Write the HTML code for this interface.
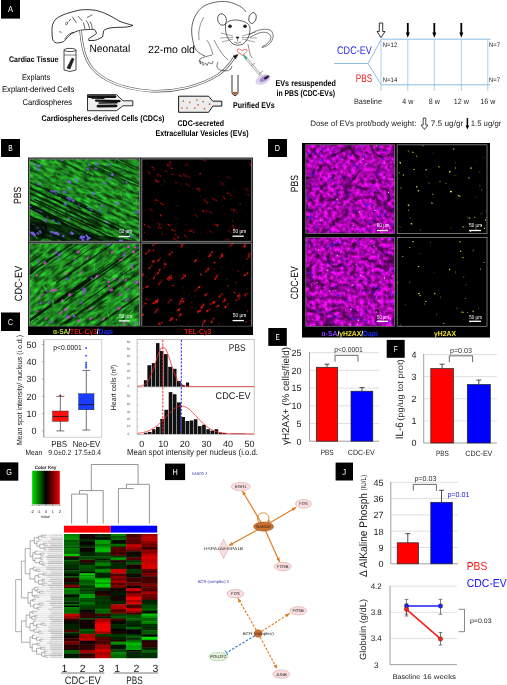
<!DOCTYPE html>
<html><head><meta charset="utf-8"><style>
html,body{margin:0;padding:0;background:#fff;width:507px;height:685px;overflow:hidden}
svg{display:block;will-change:transform}
text{font-family:"Liberation Sans", sans-serif;text-rendering:geometricPrecision}
</style></head><body>
<svg width="507" height="685" viewBox="0 0 507 685">
<rect x="1" y="0" width="19" height="18.6" fill="#000"/>
<g transform="translate(10.50 12.40) scale(0.88 1)"><text x="0" y="0" font-size="8.6" text-anchor="middle" fill="#fff">A</text></g>
<path d="M52.1,33 C51.5,26 53,22 56,19 C59,16.5 64,14 71.7,12.1 C76,10.8 80,9.8 83.5,9.7 C88,9.5 92,9.8 95.3,10.3 C99,11 102,12.2 104.8,13.3 C110,15.5 116,19 120,21.5 C124,23 128,24 133,25.4 C130,26.8 126,27.2 121,27.3 C115,27.4 110,27.6 107.2,28.7 C105,29.5 104,30 103.6,31 C103,34 103,36 102.4,37 C99,39 96,40.5 93,40.5 L88.8,40.5 C88.5,39.5 88.8,38.6 89.4,38.1 C92,36.5 95,35 96.5,33.4 C96,31.5 95,30 94.2,29.3 C90,29.3 86,29.6 83.5,29.9 C80,30.3 78,30.6 77.6,31 C75,32 73,33 71.7,33.4 C69,35.5 68,37 66.9,38.1 C65,40 64,41.5 63.4,41.7 C60,42.8 58,43 56.3,42.9 C54,42 53,40.5 52.7,39.3 C52.2,37 52,35 52.1,33 Z" stroke="#000" stroke-width="0.8" fill="none"/>
<path d="M64.6,39.3 C67,35 70,33 74,32.2 M65,23.5 q1.5,-2.5 3,-0.5 q-1,2 -2.5,1.8 M68.5,21.5 l2.5,-2.5 M72.3,16.8 L76.4,22.8 M78.2,16.2 L82.3,21 M87,17.5 L92.5,14.8 M86,20.5 q3,3 3.5,8 M90,21.5 q2,3 2.2,7 M83.5,22.5 l1.5,6.5 M59.2,31.6 L61.6,32.4" stroke="#000" stroke-width="0.6" fill="none"/>
<path d="M64,50 L64,70 Q70,73 76,70 L76,50" stroke="#000" stroke-width="0.7" fill="none"/>
<ellipse cx="70" cy="50" rx="6" ry="1.6" fill="none" stroke="#000" stroke-width="0.7"/>
<line x1="64" y1="55" x2="76" y2="55" stroke="#000" stroke-width="0.5"/>
<path d="M67,68 L72,58 L74,59 L70,69 Z" stroke="#000" stroke-width="0.5" fill="#222"/>
<text x="9" y="61.7" font-size="8.1" font-weight="bold" textLength="49.5" lengthAdjust="spacingAndGlyphs" fill="#000">Cardiac Tissue</text>
<text x="36" y="79.8" font-size="8.3" text-anchor="middle" textLength="28.2" lengthAdjust="spacingAndGlyphs" fill="#000">Explants</text>
<text x="2" y="92.3" font-size="8.3" textLength="72.4" lengthAdjust="spacingAndGlyphs" fill="#000">Explant-derived Cells</text>
<text x="22.5" y="105.1" font-size="8.3" textLength="49.5" lengthAdjust="spacingAndGlyphs" fill="#000">Cardiospheres</text>
<text x="41.5" y="121.3" font-size="8.2" font-weight="bold" textLength="123" lengthAdjust="spacingAndGlyphs" fill="#000">Cardiospheres-derived Cells (CDCs)</text>
<path d="M87.5,94.6 L116.6,94.6 L123,100.8 L132.8,100.8 L132.8,105.8 L123,105.8 L116.6,110.7 L87.5,110.7 Z" stroke="#000" stroke-width="0.8" fill="#eeeeee"/>
<line x1="89" y1="96.6" x2="115" y2="96.6" stroke="#111" stroke-width="2.8" stroke-linecap="round"/>
<line x1="96" y1="100.6" x2="119.5" y2="101.2" stroke="#111" stroke-width="2.2" stroke-linecap="round"/>
<line x1="99" y1="103" x2="117" y2="102.8" stroke="#111" stroke-width="1.4" stroke-linecap="round"/>
<line x1="98" y1="106.2" x2="116" y2="105.8" stroke="#111" stroke-width="2.8" stroke-linecap="round"/>
<line x1="92" y1="98.2" x2="104" y2="98.3" stroke="#111" stroke-width="1.2" stroke-linecap="round"/>
<path d="M178.6,96.2 L208.6,96.2 L212.8,101.2 L221.8,101.2 L221.8,106.1 L212.8,106.1 L208.6,112.3 L178.6,112.3 Z" stroke="#000" stroke-width="0.9" fill="#ececec"/>
<circle cx="183.3" cy="101" r="0.85" fill="#c8682e"/>
<circle cx="189.7" cy="102.3" r="0.85" fill="#c8682e"/>
<circle cx="196.8" cy="100" r="0.85" fill="#c8682e"/>
<circle cx="203.2" cy="101.6" r="0.85" fill="#c8682e"/>
<circle cx="198.1" cy="104.8" r="0.85" fill="#c8682e"/>
<circle cx="209.6" cy="104.2" r="0.85" fill="#c8682e"/>
<circle cx="182" cy="108" r="0.85" fill="#c8682e"/>
<circle cx="187.2" cy="108" r="0.85" fill="#c8682e"/>
<circle cx="194.9" cy="108" r="0.85" fill="#c8682e"/>
<circle cx="204.5" cy="108.7" r="0.85" fill="#c8682e"/>
<text x="177.5" y="125.5" font-size="8.3" font-weight="bold" textLength="46.5" lengthAdjust="spacingAndGlyphs" fill="#000">CDC-secreted</text>
<text x="155.5" y="135.8" font-size="8.3" font-weight="bold" textLength="93" lengthAdjust="spacingAndGlyphs" fill="#000">Extracellular Vesicles (EVs)</text>
<path d="M232,75 L232,93 Q235,98.5 238,93 L238,75" stroke="#000" stroke-width="0.8" fill="none"/>
<path d="M232.4,92 Q235,98 237.6,92 Z" stroke="#000" stroke-width="0" fill="#b5541c"/>
<text x="233" y="108.3" font-size="8.3" font-weight="bold" textLength="41.6" lengthAdjust="spacingAndGlyphs" fill="#000">Purified EVs</text>
<path d="M80.6,30.6 C82,45 84,58 92,68 C104,82 125,89 150,91 C175,92.5 200,86 218,75 C225,70 230,64 234,58" stroke="#555" stroke-width="2.6" fill="none"/>
<path d="M80.6,30.6 C82,45 84,58 92,68 C104,82 125,89 150,91 C175,92.5 200,86 218,75 C225,70 230,64 234,58" stroke="#fff" stroke-width="1.3" fill="none"/>
<path d="M233,56 L238,54.5 L235.5,59 Z" stroke="#111" stroke-width="0.5" fill="#111"/>
<text x="89.5" y="51.5" font-size="10.5" textLength="40.8" lengthAdjust="spacingAndGlyphs" fill="#000">Neonatal</text>
<text x="148.1" y="53" font-size="10.5" textLength="46.9" lengthAdjust="spacingAndGlyphs" fill="#000">22-mo old</text>
<path d="M192,36 C191,28 192,20 197.8,11.8 C202,6 208,3 219.4,1.6 C226,1 232,2 239.2,5.9 C243,8 245,10 246,12" stroke="#222" stroke-width="0.7" fill="none"/>
<path d="M192,36 C193,42 194,47 196,50 C199,53 202,55 205,56" stroke="#222" stroke-width="0.7" fill="none"/>
<ellipse cx="222" cy="19.5" rx="4.3" ry="5.8" fill="none" stroke="#222" stroke-width="0.7" transform="rotate(-15 222 19.5)"/>
<ellipse cx="252.5" cy="18" rx="3.6" ry="5.5" fill="none" stroke="#222" stroke-width="0.7" transform="rotate(15 252.5 18)"/>
<path d="M225.5,25 C225,33 227,39 233,44 C236,45.5 240,45.5 243,44 C248,40 250,35 250,28 C250,22 240,20 235,20 C230,20 226,22 225.5,25" stroke="#222" stroke-width="0.7" fill="none"/>
<circle cx="230" cy="26.3" r="1.8" fill="#222"/>
<circle cx="245" cy="26.3" r="1.8" fill="#222"/>
<path d="M236,37 L239,37 L237.5,39 Z" stroke="#222" stroke-width="0.6" fill="#222"/>
<path d="M237.5,39 L237.5,41.5 M234,42 Q237.5,44 241,42" stroke="#222" stroke-width="0.5" fill="none"/>
<path d="M233,36 L221,33 M233,37.5 L220,38 M233,39 L222,42 M242,36 L256,32 M242,37.5 L257,38 M242,39 L255,42" stroke="#222" stroke-width="0.4" fill="none"/>
<path d="M249,35 C256,30 264,28 270,30 C274,32 274,38 271,42 C268,46 264,47 262,47.5 L263,46 C266,45 270,42 271,38 C271,33 265,31 259,33 C255,34.5 252,36 250,37.5" stroke="#222" stroke-width="0.6" fill="none"/>
<path d="M212,55 C208,56 203,57 200,59 L199,62 L201,61 L200,64 L203,62 L203,65.5 L205.5,63 L207,65.5 L208.5,62.5 L212,64 L213,61" stroke="#222" stroke-width="0.6" fill="none"/>
<path d="M204,17 C200,23 198,31 199,40 M207,40 C210,45 212,50 213,55" stroke="#222" stroke-width="0.5" fill="none"/>
<path d="M218,62 C216,66 217,69 220,70 L227,71 L231,69 L232,66" stroke="#222" stroke-width="0.6" fill="none"/>
<path d="M214,40 C218,48 222,55 228,60 M248,44 C249,50 250,55 252,58" stroke="#222" stroke-width="0.5" fill="none"/>
<path d="M238.5,52.5 C237,50.5 236.5,49.3 238.5,49 C240,48.8 241,50 242,51 C243,49.8 245,48.8 246.5,49.5 C248,50.5 246.5,52.5 242.5,55.5 Z" stroke="#e33" stroke-width="0.7" fill="none"/>
<line x1="245" y1="57" x2="263" y2="78" stroke="#888" stroke-width="2.4"/>
<line x1="245" y1="57" x2="263" y2="78" stroke="#eee" stroke-width="1.4"/>
<line x1="243.5" y1="55" x2="246.5" y2="59" stroke="#1a9a8a" stroke-width="1.3"/>
<line x1="251" y1="66" x2="255" y2="63" stroke="#666" stroke-width="0.6"/>
<line x1="259" y1="74" x2="263" y2="71" stroke="#666" stroke-width="0.6"/>
<ellipse cx="263" cy="79.5" rx="8" ry="4.6" fill="#d8d0ec" opacity="0.95" transform="rotate(-25 263 79.5)"/>
<ellipse cx="264.5" cy="78.5" rx="5.5" ry="2.4" fill="#9a84c0" opacity="0.9" transform="rotate(-30 264.5 78.5)"/>
<ellipse cx="266.5" cy="77.5" rx="3" ry="1.1" fill="#2a1a3a" transform="rotate(-30 266.5 77.5)"/>
<text x="275.5" y="86.3" font-size="8.5" font-weight="bold" textLength="60.5" lengthAdjust="spacingAndGlyphs" fill="#000">EVs resuspended</text>
<text x="276.5" y="95.6" font-size="8.5" font-weight="bold" textLength="58.5" lengthAdjust="spacingAndGlyphs" fill="#000">in PBS (CDC-EVs)</text>
<line x1="334" y1="63.5" x2="368" y2="63.5" stroke="#8dbbe3" stroke-width="1"/>
<path d="M368,63.5 L381.3,39.2 M368,63.5 L381.3,84.8" stroke="#8dbbe3" stroke-width="1" fill="none"/>
<line x1="381.3" y1="39.2" x2="490.4" y2="39.2" stroke="#8dbbe3" stroke-width="1"/>
<line x1="381.3" y1="84.8" x2="490.4" y2="84.8" stroke="#8dbbe3" stroke-width="1"/>
<line x1="381" y1="39.2" x2="381" y2="91" stroke="#8dbbe3" stroke-width="0.7"/>
<line x1="407.8" y1="39.2" x2="407.8" y2="91" stroke="#8dbbe3" stroke-width="0.7"/>
<line x1="434.3" y1="39.2" x2="434.3" y2="91" stroke="#8dbbe3" stroke-width="0.7"/>
<line x1="461.3" y1="39.2" x2="461.3" y2="91" stroke="#8dbbe3" stroke-width="0.7"/>
<line x1="487.8" y1="39.2" x2="487.8" y2="91" stroke="#8dbbe3" stroke-width="0.7"/>
<path d="M379.3,23 L382.7,23 L382.7,31.5 L385,31.5 L381,37.7 L377,31.5 L379.3,31.5 Z" stroke="#000" stroke-width="0.8" fill="#fff"/>
<line x1="407.8" y1="23" x2="407.8" y2="33.5" stroke="#000" stroke-width="1.8"/>
<path d="M405.8,32.5 L409.8,32.5 L407.8,37.8 Z" stroke="#000" stroke-width="0" fill="#000"/>
<line x1="434.3" y1="23" x2="434.3" y2="33.5" stroke="#000" stroke-width="1.8"/>
<path d="M432.3,32.5 L436.3,32.5 L434.3,37.8 Z" stroke="#000" stroke-width="0" fill="#000"/>
<line x1="461.3" y1="23" x2="461.3" y2="33.5" stroke="#000" stroke-width="1.8"/>
<path d="M459.3,32.5 L463.3,32.5 L461.3,37.8 Z" stroke="#000" stroke-width="0" fill="#000"/>
<text x="337.1" y="54" font-size="11" textLength="34.6" lengthAdjust="spacingAndGlyphs" fill="#2828e8">CDC-EV</text>
<text x="355.8" y="81.9" font-size="11" textLength="16.3" lengthAdjust="spacingAndGlyphs" fill="#e82020">PBS</text>
<text x="382.8" y="46.9" font-size="6.4" textLength="14.5" lengthAdjust="spacingAndGlyphs" fill="#222">N=12</text>
<text x="382.8" y="82" font-size="6.4" textLength="14.5" lengthAdjust="spacingAndGlyphs" fill="#222">N=14</text>
<text x="489" y="46.9" font-size="6.4" textLength="11" lengthAdjust="spacingAndGlyphs" fill="#222">N=7</text>
<text x="489" y="82" font-size="6.4" textLength="11" lengthAdjust="spacingAndGlyphs" fill="#222">N=7</text>
<text x="354" y="104" font-size="7.8" textLength="28" lengthAdjust="spacingAndGlyphs" fill="#222">Baseline</text>
<text x="407.8" y="104" font-size="7.8" text-anchor="middle" textLength="11" lengthAdjust="spacingAndGlyphs" fill="#222">4 w</text>
<text x="434.3" y="104" font-size="7.8" text-anchor="middle" textLength="11" lengthAdjust="spacingAndGlyphs" fill="#222">8 w</text>
<text x="461.3" y="104" font-size="7.8" text-anchor="middle" textLength="15" lengthAdjust="spacingAndGlyphs" fill="#222">12 w</text>
<text x="487.8" y="104" font-size="7.8" text-anchor="middle" textLength="15" lengthAdjust="spacingAndGlyphs" fill="#222">16 w</text>
<text x="310.2" y="125.8" font-size="7.9" textLength="106.2" lengthAdjust="spacingAndGlyphs" fill="#222">Dose of EVs prot/body weight:</text>
<path d="M423.2,118 L425.8,118 L425.8,125 L427.8,125 L424.5,129.5 L421.2,125 L423.2,125 Z" stroke="#000" stroke-width="0.7" fill="#fff"/>
<text x="430.7" y="125.8" font-size="7.9" textLength="32.6" lengthAdjust="spacingAndGlyphs" fill="#222">7.5 ug/gr</text>
<line x1="467.4" y1="118" x2="467.4" y2="126" stroke="#000" stroke-width="1.5"/>
<path d="M465.6,125.5 L469.2,125.5 L467.4,129.5 Z" stroke="#000" stroke-width="0" fill="#000"/>
<text x="470.7" y="125.8" font-size="7.9" textLength="30.6" lengthAdjust="spacingAndGlyphs" fill="#222">1.5 ug/gr</text>
<rect x="1" y="139" width="19" height="18" fill="#000"/>
<g transform="translate(10.50 151.10) scale(0.78 1)"><text x="0" y="0" font-size="8.6" text-anchor="middle" fill="#fff">B</text></g>
<rect x="28" y="157.5" width="225" height="177.5" fill="#2a2a2a"/>
<clipPath id="cp1"><rect x="29.5" y="159" width="110.1" height="82.30000000000001"/></clipPath><g clip-path="url(#cp1)">
<rect x="29.5" y="159" width="110.1" height="82.30000000000001" fill="#000"/>
<filter id="nf1" x="0" y="0" width="1" height="1" color-interpolation-filters="sRGB"><feTurbulence type="fractalNoise" baseFrequency="0.11 0.35" numOctaves="4" seed="11"/><feColorMatrix type="matrix" values="0.2 0 0 0 0.02  1.1 0 0 0 -0.02  0.22 0 0 0 0.02  0 0 0 0 1"/></filter>
<rect x="-15.450000000000003" y="100.15" width="200" height="200" filter="url(#nf1)" transform="rotate(25 84.55 200.15)"/>
<ellipse cx="55.0" cy="232.0" rx="40.0" ry="8.0" transform="rotate(8 55.0 232.0)" fill="#020a04" opacity="0.70"/>
<ellipse cx="52.0" cy="232.1" rx="2.2" ry="1.0" transform="rotate(8 52.0 232.1)" fill="#7a60f0" opacity="0.90"/>
<ellipse cx="55.5" cy="232.9" rx="1.5" ry="1.1" transform="rotate(8 55.5 232.9)" fill="#7a60f0" opacity="0.90"/>
<ellipse cx="63.2" cy="236.0" rx="1.4" ry="1.0" transform="rotate(8 63.2 236.0)" fill="#7a60f0" opacity="0.90"/>
<ellipse cx="29.1" cy="231.3" rx="2.0" ry="0.8" transform="rotate(8 29.1 231.3)" fill="#7a60f0" opacity="0.90"/>
<ellipse cx="85.6" cy="240.8" rx="2.0" ry="1.1" transform="rotate(8 85.6 240.8)" fill="#7a60f0" opacity="0.90"/>
<ellipse cx="33.3" cy="224.3" rx="1.8" ry="0.8" transform="rotate(8 33.3 224.3)" fill="#7a60f0" opacity="0.90"/>
<ellipse cx="35.4" cy="226.8" rx="1.3" ry="1.0" transform="rotate(8 35.4 226.8)" fill="#7a60f0" opacity="0.90"/>
<ellipse cx="51.2" cy="234.8" rx="1.8" ry="1.1" transform="rotate(8 51.2 234.8)" fill="#7a60f0" opacity="0.90"/>
<ellipse cx="55.0" cy="233.6" rx="1.8" ry="0.9" transform="rotate(8 55.0 233.6)" fill="#7a60f0" opacity="0.90"/>
<ellipse cx="86.5" cy="241.2" rx="2.1" ry="1.2" transform="rotate(8 86.5 241.2)" fill="#7a60f0" opacity="0.90"/>
<ellipse cx="43.3" cy="227.8" rx="1.6" ry="0.8" transform="rotate(8 43.3 227.8)" fill="#7a60f0" opacity="0.90"/>
<ellipse cx="71.9" cy="233.4" rx="2.1" ry="1.0" transform="rotate(8 71.9 233.4)" fill="#7a60f0" opacity="0.90"/>
<ellipse cx="84.0" cy="239.4" rx="1.3" ry="0.9" transform="rotate(8 84.0 239.4)" fill="#7a60f0" opacity="0.90"/>
<ellipse cx="105.0" cy="240.0" rx="35.0" ry="4.0" transform="rotate(6 105.0 240.0)" fill="#020a04" opacity="0.70"/>
<ellipse cx="127.8" cy="242.3" rx="2.3" ry="1.0" transform="rotate(6 127.8 242.3)" fill="#7a60f0" opacity="0.90"/>
<ellipse cx="81.2" cy="238.1" rx="2.1" ry="0.9" transform="rotate(6 81.2 238.1)" fill="#7a60f0" opacity="0.90"/>
<ellipse cx="82.0" cy="236.8" rx="2.3" ry="1.2" transform="rotate(6 82.0 236.8)" fill="#7a60f0" opacity="0.90"/>
<ellipse cx="83.7" cy="236.5" rx="1.4" ry="0.8" transform="rotate(6 83.7 236.5)" fill="#7a60f0" opacity="0.90"/>
<ellipse cx="121.5" cy="240.2" rx="1.9" ry="1.0" transform="rotate(6 121.5 240.2)" fill="#7a60f0" opacity="0.90"/>
<ellipse cx="87.8" cy="239.3" rx="1.4" ry="1.1" transform="rotate(6 87.8 239.3)" fill="#7a60f0" opacity="0.90"/>
<ellipse cx="83.6" cy="237.4" rx="1.5" ry="0.9" transform="rotate(6 83.6 237.4)" fill="#7a60f0" opacity="0.90"/>
<ellipse cx="131.2" cy="244.2" rx="1.6" ry="1.2" transform="rotate(6 131.2 244.2)" fill="#7a60f0" opacity="0.90"/>
<ellipse cx="88.9" cy="237.8" rx="2.2" ry="1.1" transform="rotate(6 88.9 237.8)" fill="#7a60f0" opacity="0.90"/>
<ellipse cx="82.7" cy="240.0" rx="1.5" ry="0.9" transform="rotate(6 82.7 240.0)" fill="#7a60f0" opacity="0.90"/>
<ellipse cx="120.2" cy="240.8" rx="1.6" ry="0.8" transform="rotate(6 120.2 240.8)" fill="#7a60f0" opacity="0.90"/>
<ellipse cx="45.0" cy="214.0" rx="25.0" ry="3.0" transform="rotate(28 45.0 214.0)" fill="#020a04" opacity="0.70"/>
<ellipse cx="30.5" cy="206.6" rx="1.5" ry="1.1" transform="rotate(28 30.5 206.6)" fill="#7a60f0" opacity="0.90"/>
<ellipse cx="40.5" cy="211.4" rx="2.3" ry="1.0" transform="rotate(28 40.5 211.4)" fill="#7a60f0" opacity="0.90"/>
<ellipse cx="47.6" cy="216.7" rx="1.5" ry="0.9" transform="rotate(28 47.6 216.7)" fill="#7a60f0" opacity="0.90"/>
<ellipse cx="59.4" cy="222.8" rx="1.5" ry="0.9" transform="rotate(28 59.4 222.8)" fill="#7a60f0" opacity="0.90"/>
<ellipse cx="53.5" cy="220.1" rx="1.5" ry="1.3" transform="rotate(28 53.5 220.1)" fill="#7a60f0" opacity="0.90"/>
<ellipse cx="58.5" cy="221.5" rx="1.7" ry="0.9" transform="rotate(28 58.5 221.5)" fill="#7a60f0" opacity="0.90"/>
<ellipse cx="28.7" cy="207.0" rx="1.5" ry="1.2" transform="rotate(28 28.7 207.0)" fill="#7a60f0" opacity="0.90"/>
<ellipse cx="36.4" cy="210.6" rx="1.9" ry="0.9" transform="rotate(28 36.4 210.6)" fill="#7a60f0" opacity="0.90"/>
<ellipse cx="70.0" cy="200.0" rx="30.0" ry="2.0" transform="rotate(25 70.0 200.0)" fill="#020a04" opacity="0.70"/>
<ellipse cx="55.9" cy="193.9" rx="1.4" ry="0.9" transform="rotate(25 55.9 193.9)" fill="#7a60f0" opacity="0.90"/>
<ellipse cx="72.6" cy="202.1" rx="1.9" ry="0.9" transform="rotate(25 72.6 202.1)" fill="#7a60f0" opacity="0.90"/>
<ellipse cx="88.2" cy="207.8" rx="1.3" ry="0.9" transform="rotate(25 88.2 207.8)" fill="#7a60f0" opacity="0.90"/>
<ellipse cx="67.6" cy="197.8" rx="1.5" ry="1.0" transform="rotate(25 67.6 197.8)" fill="#7a60f0" opacity="0.90"/>
<ellipse cx="73.1" cy="200.6" rx="1.7" ry="1.2" transform="rotate(25 73.1 200.6)" fill="#7a60f0" opacity="0.90"/>
<ellipse cx="90.9" cy="210.1" rx="2.0" ry="1.1" transform="rotate(25 90.9 210.1)" fill="#7a60f0" opacity="0.90"/>
<ellipse cx="54.4" cy="191.6" rx="1.3" ry="1.3" transform="rotate(25 54.4 191.6)" fill="#7a60f0" opacity="0.90"/>
<ellipse cx="78.7" cy="205.2" rx="1.3" ry="1.1" transform="rotate(25 78.7 205.2)" fill="#7a60f0" opacity="0.90"/>
<ellipse cx="69.2" cy="200.2" rx="1.6" ry="1.3" transform="rotate(25 69.2 200.2)" fill="#7a60f0" opacity="0.90"/>
<ellipse cx="51.5" cy="191.5" rx="2.0" ry="1.3" transform="rotate(25 51.5 191.5)" fill="#7a60f0" opacity="0.90"/>
<ellipse cx="35.0" cy="230.0" rx="12.0" ry="12.0" transform="rotate(0 35.0 230.0)" fill="#020a04" opacity="0.70"/>
<ellipse cx="39.6" cy="232.9" rx="2.1" ry="1.3" transform="rotate(0 39.6 232.9)" fill="#7a60f0" opacity="0.90"/>
<ellipse cx="32.2" cy="232.7" rx="2.2" ry="1.2" transform="rotate(0 32.2 232.7)" fill="#7a60f0" opacity="0.90"/>
<ellipse cx="33.4" cy="234.2" rx="2.2" ry="1.1" transform="rotate(0 33.4 234.2)" fill="#7a60f0" opacity="0.90"/>
<ellipse cx="37.4" cy="228.3" rx="1.9" ry="1.1" transform="rotate(0 37.4 228.3)" fill="#7a60f0" opacity="0.90"/>
<line x1="-24.8" y1="182.2" x2="101.5" y2="241.1" stroke="#031003" stroke-width="2.0" opacity="0.75" stroke-linecap="round"/>
<line x1="25.9" y1="197.9" x2="118.6" y2="241.1" stroke="#031003" stroke-width="1.4" opacity="0.79" stroke-linecap="round"/>
<line x1="14.9" y1="209.6" x2="62.6" y2="231.9" stroke="#031003" stroke-width="1.6" opacity="0.67" stroke-linecap="round"/>
<line x1="11.9" y1="196.5" x2="97.8" y2="236.5" stroke="#031003" stroke-width="1.7" opacity="0.82" stroke-linecap="round"/>
<line x1="22.7" y1="143.6" x2="92.6" y2="176.2" stroke="#031003" stroke-width="1.7" opacity="0.57" stroke-linecap="round"/>
<line x1="-1.4" y1="210.4" x2="97.7" y2="256.7" stroke="#031003" stroke-width="1.4" opacity="0.81" stroke-linecap="round"/>
<line x1="34.7" y1="199.5" x2="96.3" y2="228.1" stroke="#031003" stroke-width="1.4" opacity="0.78" stroke-linecap="round"/>
<line x1="91.8" y1="213.6" x2="168.5" y2="249.3" stroke="#031003" stroke-width="1.6" opacity="0.61" stroke-linecap="round"/>
<line x1="-12.3" y1="173.4" x2="101.3" y2="226.3" stroke="#031003" stroke-width="2.0" opacity="0.75" stroke-linecap="round"/>
<line x1="104.5" y1="168.0" x2="163.7" y2="195.6" stroke="#031003" stroke-width="1.4" opacity="0.60" stroke-linecap="round"/>
<line x1="4.9" y1="170.6" x2="101.2" y2="215.5" stroke="#031003" stroke-width="1.5" opacity="0.61" stroke-linecap="round"/>
<line x1="80.8" y1="220.7" x2="163.0" y2="259.0" stroke="#031003" stroke-width="0.9" opacity="0.51" stroke-linecap="round"/>
<line x1="74.0" y1="138.4" x2="177.2" y2="186.5" stroke="#031003" stroke-width="1.6" opacity="0.61" stroke-linecap="round"/>
<line x1="88.4" y1="147.4" x2="144.8" y2="173.7" stroke="#031003" stroke-width="1.4" opacity="0.51" stroke-linecap="round"/>
<line x1="92.4" y1="165.3" x2="149.2" y2="191.8" stroke="#031003" stroke-width="0.9" opacity="0.72" stroke-linecap="round"/>
<line x1="29.3" y1="187.8" x2="128.0" y2="233.9" stroke="#031003" stroke-width="1.9" opacity="0.84" stroke-linecap="round"/>
<ellipse cx="108.6" cy="172.4" rx="16.7" ry="0.6" transform="rotate(20 108.6 172.4)" fill="#021202" opacity="0.54"/>
<ellipse cx="112.4" cy="170.5" rx="13.8" ry="0.8" transform="rotate(27 112.4 170.5)" fill="#021202" opacity="0.56"/>
<ellipse cx="99.4" cy="223.8" rx="15.5" ry="1.1" transform="rotate(29 99.4 223.8)" fill="#021202" opacity="0.43"/>
<ellipse cx="140.8" cy="220.7" rx="11.8" ry="0.9" transform="rotate(26 140.8 220.7)" fill="#021202" opacity="0.67"/>
<ellipse cx="68.5" cy="206.5" rx="22.3" ry="1.1" transform="rotate(29 68.5 206.5)" fill="#021202" opacity="0.54"/>
<ellipse cx="104.2" cy="172.9" rx="20.1" ry="1.2" transform="rotate(26 104.2 172.9)" fill="#021202" opacity="0.62"/>
<ellipse cx="47.2" cy="237.1" rx="23.7" ry="1.3" transform="rotate(25 47.2 237.1)" fill="#021202" opacity="0.64"/>
<ellipse cx="61.2" cy="238.0" rx="22.0" ry="0.8" transform="rotate(21 61.2 238.0)" fill="#021202" opacity="0.53"/>
<ellipse cx="91.1" cy="224.9" rx="16.8" ry="0.5" transform="rotate(28 91.1 224.9)" fill="#021202" opacity="0.42"/>
<ellipse cx="123.6" cy="170.0" rx="14.7" ry="1.1" transform="rotate(21 123.6 170.0)" fill="#021202" opacity="0.44"/>
<ellipse cx="86.7" cy="220.8" rx="21.8" ry="1.1" transform="rotate(29 86.7 220.8)" fill="#021202" opacity="0.55"/>
<ellipse cx="143.0" cy="161.9" rx="13.1" ry="0.9" transform="rotate(23 143.0 161.9)" fill="#021202" opacity="0.62"/>
<ellipse cx="102.6" cy="202.3" rx="21.8" ry="0.9" transform="rotate(23 102.6 202.3)" fill="#021202" opacity="0.51"/>
<ellipse cx="129.5" cy="237.1" rx="12.9" ry="1.2" transform="rotate(30 129.5 237.1)" fill="#021202" opacity="0.56"/>
<ellipse cx="92.6" cy="175.5" rx="2.6" ry="0.6" transform="rotate(109 92.6 175.5)" fill="#40e840" opacity="0.41"/>
<ellipse cx="136.2" cy="201.5" rx="2.3" ry="0.6" transform="rotate(101 136.2 201.5)" fill="#40e840" opacity="0.55"/>
<ellipse cx="105.6" cy="164.4" rx="2.6" ry="0.5" transform="rotate(172 105.6 164.4)" fill="#40e840" opacity="0.68"/>
<ellipse cx="59.1" cy="197.9" rx="1.8" ry="0.5" transform="rotate(147 59.1 197.9)" fill="#40e840" opacity="0.67"/>
<ellipse cx="82.0" cy="185.1" rx="1.9" ry="0.6" transform="rotate(167 82.0 185.1)" fill="#40e840" opacity="0.44"/>
<ellipse cx="115.3" cy="160.9" rx="1.9" ry="0.5" transform="rotate(124 115.3 160.9)" fill="#40e840" opacity="0.50"/>
<ellipse cx="68.6" cy="210.0" rx="1.7" ry="0.6" transform="rotate(22 68.6 210.0)" fill="#40e840" opacity="0.55"/>
<ellipse cx="57.1" cy="175.3" rx="2.6" ry="0.5" transform="rotate(68 57.1 175.3)" fill="#40e840" opacity="0.52"/>
<ellipse cx="87.8" cy="172.1" rx="1.9" ry="0.6" transform="rotate(115 87.8 172.1)" fill="#40e840" opacity="0.56"/>
<ellipse cx="123.2" cy="209.3" rx="3.2" ry="0.5" transform="rotate(133 123.2 209.3)" fill="#40e840" opacity="0.64"/>
<ellipse cx="128.9" cy="185.0" rx="2.1" ry="0.7" transform="rotate(39 128.9 185.0)" fill="#40e840" opacity="0.70"/>
<ellipse cx="127.2" cy="170.0" rx="2.0" ry="0.6" transform="rotate(47 127.2 170.0)" fill="#40e840" opacity="0.43"/>
<ellipse cx="121.1" cy="193.7" rx="3.1" ry="0.4" transform="rotate(73 121.1 193.7)" fill="#40e840" opacity="0.61"/>
<ellipse cx="31.5" cy="175.5" rx="2.9" ry="0.7" transform="rotate(174 31.5 175.5)" fill="#40e840" opacity="0.43"/>
<ellipse cx="85.2" cy="221.4" rx="2.5" ry="0.6" transform="rotate(34 85.2 221.4)" fill="#40e840" opacity="0.42"/>
<ellipse cx="41.2" cy="162.1" rx="2.6" ry="0.6" transform="rotate(102 41.2 162.1)" fill="#40e840" opacity="0.44"/>
<ellipse cx="49.8" cy="175.8" rx="3.2" ry="0.7" transform="rotate(167 49.8 175.8)" fill="#40e840" opacity="0.43"/>
<ellipse cx="36.3" cy="237.3" rx="2.4" ry="0.6" transform="rotate(59 36.3 237.3)" fill="#40e840" opacity="0.54"/>
<ellipse cx="86.2" cy="194.4" rx="2.7" ry="0.4" transform="rotate(126 86.2 194.4)" fill="#40e840" opacity="0.65"/>
<ellipse cx="49.5" cy="196.4" rx="3.0" ry="0.5" transform="rotate(35 49.5 196.4)" fill="#40e840" opacity="0.45"/>
<ellipse cx="85.9" cy="160.3" rx="3.3" ry="0.6" transform="rotate(127 85.9 160.3)" fill="#40e840" opacity="0.66"/>
<ellipse cx="98.8" cy="192.3" rx="2.7" ry="0.6" transform="rotate(177 98.8 192.3)" fill="#40e840" opacity="0.64"/>
<ellipse cx="57.9" cy="234.0" rx="2.1" ry="1.3" transform="rotate(41 57.9 234.0)" fill="#7a60f0" opacity="0.74"/>
<ellipse cx="128.2" cy="231.4" rx="2.0" ry="1.3" transform="rotate(38 128.2 231.4)" fill="#7a60f0" opacity="0.74"/>
<ellipse cx="109.1" cy="164.8" rx="1.6" ry="1.1" transform="rotate(1 109.1 164.8)" fill="#7a60f0" opacity="0.72"/>
<ellipse cx="99.8" cy="210.4" rx="1.5" ry="1.4" transform="rotate(33 99.8 210.4)" fill="#7a60f0" opacity="0.72"/>
<ellipse cx="102.1" cy="205.9" rx="1.8" ry="1.0" transform="rotate(50 102.1 205.9)" fill="#7a60f0" opacity="0.82"/>
<ellipse cx="106.7" cy="221.7" rx="2.4" ry="0.8" transform="rotate(31 106.7 221.7)" fill="#7a60f0" opacity="0.86"/>
<ellipse cx="57.8" cy="192.0" rx="1.3" ry="0.9" transform="rotate(19 57.8 192.0)" fill="#7a60f0" opacity="0.63"/>
<ellipse cx="57.1" cy="233.5" rx="1.9" ry="1.1" transform="rotate(48 57.1 233.5)" fill="#7a60f0" opacity="0.80"/>
<ellipse cx="139.1" cy="211.5" rx="2.2" ry="0.8" transform="rotate(30 139.1 211.5)" fill="#7a60f0" opacity="0.87"/>
<ellipse cx="34.5" cy="235.6" rx="1.4" ry="1.1" transform="rotate(8 34.5 235.6)" fill="#7a60f0" opacity="0.77"/>
<ellipse cx="96.8" cy="163.8" rx="2.3" ry="1.1" transform="rotate(26 96.8 163.8)" fill="#7a60f0" opacity="0.81"/>
<ellipse cx="69.7" cy="182.5" rx="2.0" ry="1.1" transform="rotate(14 69.7 182.5)" fill="#7a60f0" opacity="0.85"/>
<ellipse cx="62.1" cy="160.2" rx="1.5" ry="0.8" transform="rotate(8 62.1 160.2)" fill="#7a60f0" opacity="0.86"/>
<ellipse cx="72.4" cy="232.9" rx="2.1" ry="0.8" transform="rotate(49 72.4 232.9)" fill="#7a60f0" opacity="0.93"/>
<ellipse cx="37.6" cy="233.5" rx="1.7" ry="1.1" transform="rotate(49 37.6 233.5)" fill="#7a60f0" opacity="0.69"/>
<ellipse cx="87.1" cy="236.1" rx="2.1" ry="1.1" transform="rotate(49 87.1 236.1)" fill="#7a60f0" opacity="0.89"/>
<ellipse cx="96.0" cy="168.5" rx="1.9" ry="1.1" transform="rotate(10 96.0 168.5)" fill="#7a60f0" opacity="0.62"/>
<ellipse cx="87.6" cy="169.2" rx="1.7" ry="1.2" transform="rotate(23 87.6 169.2)" fill="#7a60f0" opacity="0.69"/>
<ellipse cx="93.6" cy="193.5" rx="2.1" ry="1.1" transform="rotate(50 93.6 193.5)" fill="#7a60f0" opacity="0.93"/>
<ellipse cx="110.3" cy="178.6" rx="1.3" ry="1.3" transform="rotate(39 110.3 178.6)" fill="#7a60f0" opacity="0.82"/>
<ellipse cx="69.0" cy="181.3" rx="2.0" ry="1.1" transform="rotate(30 69.0 181.3)" fill="#7a60f0" opacity="0.82"/>
<ellipse cx="112.4" cy="174.6" rx="1.5" ry="1.4" transform="rotate(46 112.4 174.6)" fill="#7a60f0" opacity="0.91"/>
<ellipse cx="33.8" cy="164.0" rx="1.5" ry="1.1" transform="rotate(31 33.8 164.0)" fill="#7a60f0" opacity="0.64"/>
<ellipse cx="89.1" cy="165.0" rx="1.3" ry="1.2" transform="rotate(28 89.1 165.0)" fill="#7a60f0" opacity="0.82"/>
<ellipse cx="70.6" cy="198.4" rx="1.5" ry="1.0" transform="rotate(37 70.6 198.4)" fill="#7a60f0" opacity="0.89"/>
<ellipse cx="37.7" cy="168.9" rx="2.2" ry="1.2" transform="rotate(38 37.7 168.9)" fill="#7a60f0" opacity="0.67"/>
<ellipse cx="76.2" cy="180.2" rx="2.2" ry="1.0" transform="rotate(33 76.2 180.2)" fill="#7a60f0" opacity="0.95"/>
<ellipse cx="65.3" cy="204.2" rx="2.1" ry="1.4" transform="rotate(21 65.3 204.2)" fill="#7a60f0" opacity="0.73"/>
<ellipse cx="40.2" cy="231.0" rx="1.3" ry="0.8" transform="rotate(28 40.2 231.0)" fill="#7a60f0" opacity="0.77"/>
<ellipse cx="105.0" cy="183.6" rx="2.1" ry="0.8" transform="rotate(11 105.0 183.6)" fill="#7a60f0" opacity="0.83"/>
<ellipse cx="38.5" cy="184.0" rx="2.1" ry="1.2" transform="rotate(14 38.5 184.0)" fill="#7a60f0" opacity="0.65"/>
<ellipse cx="68.9" cy="218.7" rx="1.6" ry="0.9" transform="rotate(35 68.9 218.7)" fill="#7a60f0" opacity="0.80"/>
<ellipse cx="130.6" cy="236.4" rx="2.3" ry="1.1" transform="rotate(40 130.6 236.4)" fill="#7a60f0" opacity="0.71"/>
<ellipse cx="64.5" cy="191.9" rx="2.3" ry="1.3" transform="rotate(12 64.5 191.9)" fill="#7a60f0" opacity="0.73"/>
<ellipse cx="69.7" cy="188.9" rx="1.7" ry="1.0" transform="rotate(10 69.7 188.9)" fill="#7a60f0" opacity="0.80"/>
<ellipse cx="117.3" cy="203.5" rx="2.2" ry="1.1" transform="rotate(9 117.3 203.5)" fill="#7a60f0" opacity="0.87"/>
<ellipse cx="126.5" cy="182.2" rx="1.2" ry="1.1" transform="rotate(27 126.5 182.2)" fill="#7a60f0" opacity="0.80"/>
<ellipse cx="135.9" cy="212.6" rx="2.2" ry="0.8" transform="rotate(27 135.9 212.6)" fill="#7a60f0" opacity="0.88"/>
<ellipse cx="38.8" cy="165.7" rx="2.1" ry="1.3" transform="rotate(4 38.8 165.7)" fill="#7a60f0" opacity="0.82"/>
<ellipse cx="45.3" cy="220.4" rx="2.0" ry="0.9" transform="rotate(11 45.3 220.4)" fill="#7a60f0" opacity="0.87"/>
</g>
<rect x="29.5" y="159" width="110.1" height="82.30000000000001" fill="none" stroke="#8a8a8a" stroke-width="0.8"/>
<clipPath id="cp2"><rect x="141.8" y="159" width="109.69999999999999" height="82.30000000000001"/></clipPath><g clip-path="url(#cp2)">
<rect x="141.8" y="159" width="109.69999999999999" height="82.30000000000001" fill="#000"/>
<ellipse cx="193.9" cy="213.1" rx="1.2" ry="0.5" transform="rotate(2 193.9 213.1)" fill="#4a0505" opacity="0.45"/>
<ellipse cx="171.9" cy="225.7" rx="1.2" ry="0.8" transform="rotate(100 171.9 225.7)" fill="#4a0505" opacity="0.56"/>
<ellipse cx="157.7" cy="195.2" rx="0.7" ry="0.9" transform="rotate(11 157.7 195.2)" fill="#4a0505" opacity="0.63"/>
<ellipse cx="150.0" cy="215.5" rx="0.9" ry="0.6" transform="rotate(152 150.0 215.5)" fill="#4a0505" opacity="0.31"/>
<ellipse cx="148.5" cy="234.3" rx="1.1" ry="0.5" transform="rotate(178 148.5 234.3)" fill="#4a0505" opacity="0.68"/>
<ellipse cx="154.1" cy="193.8" rx="0.7" ry="0.6" transform="rotate(112 154.1 193.8)" fill="#4a0505" opacity="0.37"/>
<ellipse cx="218.2" cy="163.2" rx="0.8" ry="0.9" transform="rotate(72 218.2 163.2)" fill="#4a0505" opacity="0.47"/>
<ellipse cx="207.2" cy="198.2" rx="0.9" ry="0.4" transform="rotate(131 207.2 198.2)" fill="#4a0505" opacity="0.69"/>
<ellipse cx="248.9" cy="213.6" rx="0.9" ry="0.6" transform="rotate(124 248.9 213.6)" fill="#4a0505" opacity="0.57"/>
<ellipse cx="154.3" cy="178.3" rx="0.9" ry="0.7" transform="rotate(146 154.3 178.3)" fill="#4a0505" opacity="0.50"/>
<ellipse cx="144.9" cy="226.7" rx="1.0" ry="0.7" transform="rotate(40 144.9 226.7)" fill="#4a0505" opacity="0.47"/>
<ellipse cx="184.4" cy="222.5" rx="0.7" ry="0.7" transform="rotate(32 184.4 222.5)" fill="#4a0505" opacity="0.58"/>
<ellipse cx="145.8" cy="181.8" rx="0.9" ry="0.8" transform="rotate(9 145.8 181.8)" fill="#4a0505" opacity="0.48"/>
<ellipse cx="164.7" cy="182.2" rx="1.0" ry="1.0" transform="rotate(87 164.7 182.2)" fill="#4a0505" opacity="0.68"/>
<ellipse cx="160.2" cy="235.1" rx="0.9" ry="0.5" transform="rotate(135 160.2 235.1)" fill="#4a0505" opacity="0.66"/>
<ellipse cx="142.5" cy="181.1" rx="1.3" ry="0.6" transform="rotate(43 142.5 181.1)" fill="#4a0505" opacity="0.30"/>
<ellipse cx="146.2" cy="210.0" rx="1.5" ry="1.0" transform="rotate(91 146.2 210.0)" fill="#4a0505" opacity="0.31"/>
<ellipse cx="177.2" cy="223.8" rx="1.3" ry="0.8" transform="rotate(41 177.2 223.8)" fill="#4a0505" opacity="0.51"/>
<ellipse cx="194.2" cy="210.6" rx="0.8" ry="1.0" transform="rotate(161 194.2 210.6)" fill="#4a0505" opacity="0.36"/>
<ellipse cx="173.8" cy="230.9" rx="0.9" ry="1.0" transform="rotate(93 173.8 230.9)" fill="#4a0505" opacity="0.58"/>
<ellipse cx="219.1" cy="176.6" rx="0.9" ry="0.6" transform="rotate(123 219.1 176.6)" fill="#4a0505" opacity="0.58"/>
<ellipse cx="156.3" cy="232.0" rx="1.0" ry="0.5" transform="rotate(78 156.3 232.0)" fill="#4a0505" opacity="0.69"/>
<ellipse cx="203.2" cy="210.4" rx="1.4" ry="1.0" transform="rotate(137 203.2 210.4)" fill="#4a0505" opacity="0.47"/>
<ellipse cx="206.4" cy="233.1" rx="1.3" ry="0.7" transform="rotate(63 206.4 233.1)" fill="#4a0505" opacity="0.45"/>
<ellipse cx="222.5" cy="205.4" rx="0.6" ry="0.8" transform="rotate(163 222.5 205.4)" fill="#4a0505" opacity="0.62"/>
<ellipse cx="240.3" cy="233.9" rx="1.1" ry="0.9" transform="rotate(68 240.3 233.9)" fill="#4a0505" opacity="0.34"/>
<ellipse cx="180.5" cy="184.7" rx="1.4" ry="0.8" transform="rotate(97 180.5 184.7)" fill="#4a0505" opacity="0.55"/>
<ellipse cx="155.5" cy="203.0" rx="1.2" ry="0.6" transform="rotate(44 155.5 203.0)" fill="#4a0505" opacity="0.46"/>
<ellipse cx="177.3" cy="215.4" rx="0.7" ry="0.5" transform="rotate(56 177.3 215.4)" fill="#4a0505" opacity="0.58"/>
<ellipse cx="225.1" cy="213.3" rx="1.4" ry="0.6" transform="rotate(5 225.1 213.3)" fill="#4a0505" opacity="0.50"/>
<ellipse cx="190.5" cy="173.8" rx="1.2" ry="0.6" transform="rotate(43 190.5 173.8)" fill="#4a0505" opacity="0.43"/>
<ellipse cx="245.3" cy="159.6" rx="0.9" ry="0.6" transform="rotate(36 245.3 159.6)" fill="#4a0505" opacity="0.47"/>
<ellipse cx="166.0" cy="234.6" rx="1.1" ry="0.8" transform="rotate(29 166.0 234.6)" fill="#4a0505" opacity="0.49"/>
<ellipse cx="208.3" cy="228.4" rx="0.8" ry="0.7" transform="rotate(154 208.3 228.4)" fill="#4a0505" opacity="0.63"/>
<ellipse cx="166.8" cy="203.3" rx="1.3" ry="0.6" transform="rotate(121 166.8 203.3)" fill="#4a0505" opacity="0.57"/>
<ellipse cx="248.5" cy="204.6" rx="1.2" ry="0.6" transform="rotate(132 248.5 204.6)" fill="#4a0505" opacity="0.43"/>
<ellipse cx="196.6" cy="188.7" rx="0.9" ry="0.5" transform="rotate(41 196.6 188.7)" fill="#4a0505" opacity="0.52"/>
<ellipse cx="169.4" cy="162.8" rx="1.3" ry="0.6" transform="rotate(169 169.4 162.8)" fill="#4a0505" opacity="0.54"/>
<ellipse cx="184.5" cy="230.9" rx="1.4" ry="0.6" transform="rotate(23 184.5 230.9)" fill="#4a0505" opacity="0.56"/>
<ellipse cx="234.2" cy="209.1" rx="1.3" ry="0.6" transform="rotate(111 234.2 209.1)" fill="#4a0505" opacity="0.41"/>
<ellipse cx="186.4" cy="190.2" rx="0.9" ry="0.6" transform="rotate(145 186.4 190.2)" fill="#4a0505" opacity="0.37"/>
<ellipse cx="164.3" cy="180.0" rx="1.5" ry="0.7" transform="rotate(10 164.3 180.0)" fill="#4a0505" opacity="0.63"/>
<ellipse cx="237.6" cy="226.6" rx="0.9" ry="0.8" transform="rotate(55 237.6 226.6)" fill="#4a0505" opacity="0.35"/>
<ellipse cx="236.7" cy="227.6" rx="0.8" ry="0.9" transform="rotate(4 236.7 227.6)" fill="#4a0505" opacity="0.42"/>
<ellipse cx="143.2" cy="173.1" rx="0.7" ry="0.8" transform="rotate(53 143.2 173.1)" fill="#4a0505" opacity="0.38"/>
<ellipse cx="162.0" cy="184.7" rx="1.4" ry="0.8" transform="rotate(18 162.0 184.7)" fill="#4a0505" opacity="0.57"/>
<ellipse cx="200.6" cy="195.9" rx="1.1" ry="0.8" transform="rotate(144 200.6 195.9)" fill="#4a0505" opacity="0.50"/>
<ellipse cx="211.5" cy="197.5" rx="1.2" ry="0.6" transform="rotate(75 211.5 197.5)" fill="#4a0505" opacity="0.51"/>
<ellipse cx="220.2" cy="181.9" rx="1.4" ry="0.7" transform="rotate(154 220.2 181.9)" fill="#4a0505" opacity="0.58"/>
<ellipse cx="246.7" cy="215.2" rx="1.0" ry="0.6" transform="rotate(109 246.7 215.2)" fill="#4a0505" opacity="0.60"/>
<ellipse cx="233.8" cy="169.6" rx="0.7" ry="0.5" transform="rotate(15 233.8 169.6)" fill="#4a0505" opacity="0.32"/>
<ellipse cx="142.7" cy="179.5" rx="0.7" ry="0.8" transform="rotate(111 142.7 179.5)" fill="#4a0505" opacity="0.69"/>
<ellipse cx="247.2" cy="220.5" rx="1.5" ry="0.4" transform="rotate(41 247.2 220.5)" fill="#4a0505" opacity="0.67"/>
<ellipse cx="194.0" cy="176.0" rx="1.3" ry="0.7" transform="rotate(98 194.0 176.0)" fill="#4a0505" opacity="0.43"/>
<ellipse cx="168.3" cy="166.2" rx="1.1" ry="1.0" transform="rotate(178 168.3 166.2)" fill="#4a0505" opacity="0.61"/>
<ellipse cx="244.2" cy="188.8" rx="0.9" ry="1.0" transform="rotate(108 244.2 188.8)" fill="#4a0505" opacity="0.57"/>
<ellipse cx="143.2" cy="177.8" rx="1.0" ry="0.8" transform="rotate(149 143.2 177.8)" fill="#4a0505" opacity="0.60"/>
<ellipse cx="179.1" cy="190.4" rx="1.4" ry="1.0" transform="rotate(87 179.1 190.4)" fill="#4a0505" opacity="0.38"/>
<ellipse cx="210.3" cy="203.1" rx="0.9" ry="0.5" transform="rotate(69 210.3 203.1)" fill="#4a0505" opacity="0.54"/>
<ellipse cx="155.7" cy="203.5" rx="1.5" ry="0.8" transform="rotate(45 155.7 203.5)" fill="#4a0505" opacity="0.47"/>
<ellipse cx="153.0" cy="219.7" rx="1.2" ry="0.5" transform="rotate(99 153.0 219.7)" fill="#4a0505" opacity="0.54"/>
<ellipse cx="205.1" cy="190.1" rx="0.9" ry="0.6" transform="rotate(180 205.1 190.1)" fill="#4a0505" opacity="0.43"/>
<ellipse cx="196.9" cy="196.9" rx="0.8" ry="0.6" transform="rotate(37 196.9 196.9)" fill="#4a0505" opacity="0.43"/>
<ellipse cx="182.1" cy="187.8" rx="1.4" ry="0.6" transform="rotate(60 182.1 187.8)" fill="#4a0505" opacity="0.56"/>
<ellipse cx="185.4" cy="201.4" rx="1.2" ry="0.4" transform="rotate(121 185.4 201.4)" fill="#4a0505" opacity="0.34"/>
<ellipse cx="169.2" cy="225.6" rx="1.5" ry="0.8" transform="rotate(31 169.2 225.6)" fill="#4a0505" opacity="0.48"/>
<ellipse cx="172.8" cy="228.2" rx="0.8" ry="0.5" transform="rotate(115 172.8 228.2)" fill="#4a0505" opacity="0.55"/>
<ellipse cx="206.5" cy="198.4" rx="1.5" ry="0.7" transform="rotate(169 206.5 198.4)" fill="#4a0505" opacity="0.46"/>
<ellipse cx="192.8" cy="188.6" rx="1.2" ry="0.9" transform="rotate(43 192.8 188.6)" fill="#4a0505" opacity="0.51"/>
<ellipse cx="221.5" cy="200.3" rx="1.2" ry="0.8" transform="rotate(129 221.5 200.3)" fill="#4a0505" opacity="0.44"/>
<ellipse cx="144.5" cy="232.3" rx="0.6" ry="0.5" transform="rotate(70 144.5 232.3)" fill="#c81010" opacity="0.99"/>
<ellipse cx="158.4" cy="227.9" rx="0.9" ry="0.6" transform="rotate(57 158.4 227.9)" fill="#c81010" opacity="0.78"/>
<ellipse cx="147.5" cy="163.2" rx="0.6" ry="0.3" transform="rotate(55 147.5 163.2)" fill="#c81010" opacity="0.75"/>
<ellipse cx="233.1" cy="190.2" rx="0.5" ry="0.3" transform="rotate(108 233.1 190.2)" fill="#c81010" opacity="0.98"/>
<ellipse cx="166.8" cy="229.8" rx="0.5" ry="0.4" transform="rotate(168 166.8 229.8)" fill="#c81010" opacity="0.86"/>
<ellipse cx="162.5" cy="233.9" rx="0.6" ry="0.5" transform="rotate(99 162.5 233.9)" fill="#c81010" opacity="0.94"/>
<ellipse cx="200.4" cy="233.6" rx="0.5" ry="0.3" transform="rotate(111 200.4 233.6)" fill="#c81010" opacity="0.76"/>
<ellipse cx="233.9" cy="212.0" rx="0.8" ry="0.6" transform="rotate(4 233.9 212.0)" fill="#c81010" opacity="0.85"/>
<ellipse cx="185.7" cy="165.4" rx="0.6" ry="0.5" transform="rotate(94 185.7 165.4)" fill="#c81010" opacity="0.87"/>
<ellipse cx="240.1" cy="204.2" rx="0.8" ry="0.6" transform="rotate(152 240.1 204.2)" fill="#c81010" opacity="0.81"/>
<ellipse cx="144.5" cy="224.5" rx="0.9" ry="0.6" transform="rotate(112 144.5 224.5)" fill="#c81010" opacity="1.00"/>
<ellipse cx="186.5" cy="224.8" rx="0.5" ry="0.4" transform="rotate(94 186.5 224.8)" fill="#c81010" opacity="0.93"/>
<ellipse cx="237.1" cy="212.5" rx="0.7" ry="0.5" transform="rotate(52 237.1 212.5)" fill="#c81010" opacity="0.72"/>
<ellipse cx="146.5" cy="239.3" rx="0.5" ry="0.3" transform="rotate(109 146.5 239.3)" fill="#c81010" opacity="0.74"/>
<ellipse cx="200.2" cy="173.6" rx="0.9" ry="0.7" transform="rotate(155 200.2 173.6)" fill="#c81010" opacity="0.99"/>
<ellipse cx="186.0" cy="213.4" rx="0.5" ry="0.3" transform="rotate(102 186.0 213.4)" fill="#c81010" opacity="0.91"/>
<ellipse cx="232.2" cy="220.8" rx="0.8" ry="0.5" transform="rotate(136 232.2 220.8)" fill="#c81010" opacity="0.83"/>
<ellipse cx="144.1" cy="210.2" rx="0.5" ry="0.3" transform="rotate(17 144.1 210.2)" fill="#c81010" opacity="0.85"/>
<ellipse cx="177.5" cy="205.6" rx="0.6" ry="0.4" transform="rotate(95 177.5 205.6)" fill="#c81010" opacity="1.00"/>
<ellipse cx="174.6" cy="230.8" rx="0.9" ry="0.5" transform="rotate(169 174.6 230.8)" fill="#c81010" opacity="0.72"/>
<ellipse cx="176.7" cy="235.7" rx="3.0" ry="1.2" transform="rotate(36 176.7 235.7)" fill="#4a0505" opacity="0.45"/>
<ellipse cx="177.7" cy="237.6" rx="0.7" ry="0.6" transform="rotate(179 177.7 237.6)" fill="#c81010" opacity="0.84"/>
<ellipse cx="175.6" cy="234.5" rx="0.5" ry="0.4" transform="rotate(61 175.6 234.5)" fill="#c81010" opacity="0.67"/>
<ellipse cx="178.5" cy="237.5" rx="0.9" ry="0.7" transform="rotate(112 178.5 237.5)" fill="#c81010" opacity="0.76"/>
<ellipse cx="215.2" cy="199.6" rx="3.3" ry="1.3" transform="rotate(20 215.2 199.6)" fill="#4a0505" opacity="0.45"/>
<ellipse cx="216.1" cy="200.4" rx="0.8" ry="0.7" transform="rotate(152 216.1 200.4)" fill="#c81010" opacity="0.69"/>
<ellipse cx="215.1" cy="199.7" rx="0.6" ry="0.4" transform="rotate(36 215.1 199.7)" fill="#c81010" opacity="0.56"/>
<ellipse cx="213.6" cy="198.7" rx="0.9" ry="0.7" transform="rotate(93 213.6 198.7)" fill="#c81010" opacity="0.57"/>
<ellipse cx="184.8" cy="175.5" rx="3.5" ry="1.4" transform="rotate(42 184.8 175.5)" fill="#4a0505" opacity="0.45"/>
<ellipse cx="184.9" cy="176.2" rx="0.5" ry="0.3" transform="rotate(106 184.9 176.2)" fill="#c81010" opacity="0.44"/>
<ellipse cx="183.9" cy="174.3" rx="0.8" ry="0.5" transform="rotate(16 183.9 174.3)" fill="#c81010" opacity="0.82"/>
<ellipse cx="185.6" cy="176.0" rx="0.5" ry="0.4" transform="rotate(89 185.6 176.0)" fill="#c81010" opacity="0.80"/>
<ellipse cx="157.8" cy="181.7" rx="2.8" ry="1.1" transform="rotate(22 157.8 181.7)" fill="#4a0505" opacity="0.45"/>
<ellipse cx="156.5" cy="181.3" rx="0.9" ry="0.7" transform="rotate(103 156.5 181.3)" fill="#c81010" opacity="0.36"/>
<ellipse cx="158.2" cy="181.9" rx="0.9" ry="0.7" transform="rotate(138 158.2 181.9)" fill="#c81010" opacity="0.63"/>
<ellipse cx="158.9" cy="181.2" rx="0.5" ry="0.4" transform="rotate(73 158.9 181.2)" fill="#c81010" opacity="0.63"/>
<ellipse cx="156.2" cy="181.2" rx="0.8" ry="0.7" transform="rotate(92 156.2 181.2)" fill="#c81010" opacity="0.75"/>
<ellipse cx="149.4" cy="172.5" rx="2.5" ry="1.0" transform="rotate(40 149.4 172.5)" fill="#4a0505" opacity="0.45"/>
<ellipse cx="147.5" cy="171.1" rx="0.8" ry="0.6" transform="rotate(130 147.5 171.1)" fill="#c81010" opacity="0.41"/>
<ellipse cx="149.4" cy="173.1" rx="0.8" ry="0.7" transform="rotate(78 149.4 173.1)" fill="#c81010" opacity="0.84"/>
<ellipse cx="186.4" cy="237.1" rx="3.4" ry="1.3" transform="rotate(45 186.4 237.1)" fill="#4a0505" opacity="0.45"/>
<ellipse cx="185.2" cy="236.1" rx="0.9" ry="0.7" transform="rotate(86 185.2 236.1)" fill="#c81010" opacity="0.52"/>
<ellipse cx="184.6" cy="235.0" rx="0.6" ry="0.5" transform="rotate(97 184.6 235.0)" fill="#c81010" opacity="0.78"/>
<ellipse cx="230.2" cy="231.9" rx="3.2" ry="1.2" transform="rotate(27 230.2 231.9)" fill="#4a0505" opacity="0.45"/>
<ellipse cx="228.8" cy="230.3" rx="0.6" ry="0.5" transform="rotate(134 228.8 230.3)" fill="#c81010" opacity="0.76"/>
<ellipse cx="229.0" cy="231.7" rx="0.4" ry="0.4" transform="rotate(57 229.0 231.7)" fill="#c81010" opacity="0.55"/>
<ellipse cx="176.1" cy="217.7" rx="2.1" ry="0.8" transform="rotate(19 176.1 217.7)" fill="#4a0505" opacity="0.45"/>
<ellipse cx="175.1" cy="217.4" rx="0.6" ry="0.4" transform="rotate(50 175.1 217.4)" fill="#c81010" opacity="0.39"/>
<ellipse cx="174.8" cy="217.3" rx="0.5" ry="0.3" transform="rotate(75 174.8 217.3)" fill="#c81010" opacity="0.45"/>
<ellipse cx="227.5" cy="239.8" rx="2.9" ry="1.1" transform="rotate(15 227.5 239.8)" fill="#4a0505" opacity="0.45"/>
<ellipse cx="225.7" cy="240.0" rx="0.7" ry="0.6" transform="rotate(4 225.7 240.0)" fill="#c81010" opacity="0.53"/>
<ellipse cx="229.0" cy="239.8" rx="0.6" ry="0.4" transform="rotate(152 229.0 239.8)" fill="#c81010" opacity="0.81"/>
<ellipse cx="228.3" cy="239.4" rx="0.7" ry="0.6" transform="rotate(61 228.3 239.4)" fill="#c81010" opacity="0.40"/>
<ellipse cx="222.8" cy="184.1" rx="3.2" ry="1.2" transform="rotate(43 222.8 184.1)" fill="#4a0505" opacity="0.45"/>
<ellipse cx="222.0" cy="184.4" rx="0.8" ry="0.6" transform="rotate(171 222.0 184.4)" fill="#c81010" opacity="0.43"/>
<ellipse cx="222.4" cy="183.1" rx="0.8" ry="0.5" transform="rotate(177 222.4 183.1)" fill="#c81010" opacity="0.69"/>
<ellipse cx="249.8" cy="163.9" rx="3.4" ry="1.3" transform="rotate(44 249.8 163.9)" fill="#4a0505" opacity="0.45"/>
<ellipse cx="250.4" cy="165.1" rx="0.7" ry="0.5" transform="rotate(73 250.4 165.1)" fill="#c81010" opacity="0.66"/>
<ellipse cx="250.9" cy="164.7" rx="0.6" ry="0.5" transform="rotate(42 250.9 164.7)" fill="#c81010" opacity="0.59"/>
<ellipse cx="250.3" cy="163.4" rx="0.5" ry="0.3" transform="rotate(112 250.3 163.4)" fill="#c81010" opacity="0.44"/>
<ellipse cx="250.7" cy="164.1" rx="0.5" ry="0.4" transform="rotate(74 250.7 164.1)" fill="#c81010" opacity="0.57"/>
<ellipse cx="161.4" cy="215.2" rx="2.4" ry="0.9" transform="rotate(45 161.4 215.2)" fill="#4a0505" opacity="0.45"/>
<ellipse cx="160.3" cy="214.5" rx="0.5" ry="0.4" transform="rotate(97 160.3 214.5)" fill="#c81010" opacity="0.79"/>
<ellipse cx="160.7" cy="215.1" rx="0.6" ry="0.4" transform="rotate(60 160.7 215.1)" fill="#c81010" opacity="0.82"/>
<ellipse cx="160.5" cy="215.2" rx="0.5" ry="0.4" transform="rotate(94 160.5 215.2)" fill="#c81010" opacity="0.41"/>
<ellipse cx="160.6" cy="215.6" rx="0.7" ry="0.6" transform="rotate(5 160.6 215.6)" fill="#c81010" opacity="0.77"/>
<ellipse cx="161.0" cy="215.7" rx="0.7" ry="0.6" transform="rotate(168 161.0 215.7)" fill="#c81010" opacity="0.37"/>
<ellipse cx="180.2" cy="175.4" rx="2.5" ry="1.0" transform="rotate(23 180.2 175.4)" fill="#4a0505" opacity="0.45"/>
<ellipse cx="179.2" cy="175.0" rx="0.6" ry="0.4" transform="rotate(28 179.2 175.0)" fill="#c81010" opacity="0.71"/>
<ellipse cx="181.2" cy="176.4" rx="0.5" ry="0.3" transform="rotate(21 181.2 176.4)" fill="#c81010" opacity="0.38"/>
<ellipse cx="180.7" cy="176.4" rx="0.8" ry="0.6" transform="rotate(91 180.7 176.4)" fill="#c81010" opacity="0.65"/>
<ellipse cx="180.5" cy="175.4" rx="0.7" ry="0.5" transform="rotate(146 180.5 175.4)" fill="#c81010" opacity="0.57"/>
<ellipse cx="216.3" cy="225.4" rx="2.3" ry="0.9" transform="rotate(21 216.3 225.4)" fill="#4a0505" opacity="0.45"/>
<ellipse cx="217.3" cy="224.9" rx="0.9" ry="0.8" transform="rotate(93 217.3 224.9)" fill="#c81010" opacity="0.67"/>
<ellipse cx="215.0" cy="224.4" rx="0.9" ry="0.8" transform="rotate(80 215.0 224.4)" fill="#c81010" opacity="0.65"/>
<ellipse cx="216.5" cy="224.8" rx="0.8" ry="0.5" transform="rotate(106 216.5 224.8)" fill="#c81010" opacity="0.66"/>
<ellipse cx="217.8" cy="225.4" rx="0.8" ry="0.6" transform="rotate(101 217.8 225.4)" fill="#c81010" opacity="0.75"/>
<ellipse cx="217.5" cy="226.1" rx="0.6" ry="0.5" transform="rotate(72 217.5 226.1)" fill="#c81010" opacity="0.81"/>
<ellipse cx="228.9" cy="193.5" rx="3.2" ry="1.2" transform="rotate(35 228.9 193.5)" fill="#4a0505" opacity="0.45"/>
<ellipse cx="227.5" cy="193.3" rx="0.8" ry="0.7" transform="rotate(113 227.5 193.3)" fill="#c81010" opacity="0.79"/>
<ellipse cx="230.4" cy="195.5" rx="0.4" ry="0.3" transform="rotate(26 230.4 195.5)" fill="#c81010" opacity="0.78"/>
<ellipse cx="187.8" cy="184.7" rx="3.5" ry="1.4" transform="rotate(36 187.8 184.7)" fill="#4a0505" opacity="0.45"/>
<ellipse cx="186.6" cy="184.1" rx="0.7" ry="0.5" transform="rotate(75 186.6 184.1)" fill="#c81010" opacity="0.80"/>
<ellipse cx="188.3" cy="185.7" rx="0.8" ry="0.6" transform="rotate(161 188.3 185.7)" fill="#c81010" opacity="0.48"/>
<ellipse cx="173.6" cy="230.3" rx="2.3" ry="0.9" transform="rotate(19 173.6 230.3)" fill="#4a0505" opacity="0.45"/>
<ellipse cx="175.6" cy="230.8" rx="0.7" ry="0.4" transform="rotate(109 175.6 230.8)" fill="#c81010" opacity="0.51"/>
<ellipse cx="172.3" cy="229.8" rx="0.8" ry="0.7" transform="rotate(83 172.3 229.8)" fill="#c81010" opacity="0.85"/>
<ellipse cx="172.3" cy="230.0" rx="0.7" ry="0.7" transform="rotate(21 172.3 230.0)" fill="#c81010" opacity="0.62"/>
<ellipse cx="157.0" cy="200.5" rx="3.1" ry="1.2" transform="rotate(27 157.0 200.5)" fill="#4a0505" opacity="0.45"/>
<ellipse cx="157.1" cy="200.7" rx="0.6" ry="0.5" transform="rotate(110 157.1 200.7)" fill="#c81010" opacity="0.66"/>
<ellipse cx="157.0" cy="200.1" rx="0.7" ry="0.5" transform="rotate(62 157.0 200.1)" fill="#c81010" opacity="0.61"/>
<ellipse cx="155.4" cy="200.1" rx="0.6" ry="0.4" transform="rotate(174 155.4 200.1)" fill="#c81010" opacity="0.66"/>
<ellipse cx="155.4" cy="200.2" rx="0.5" ry="0.4" transform="rotate(129 155.4 200.2)" fill="#c81010" opacity="0.49"/>
<ellipse cx="155.8" cy="199.9" rx="0.7" ry="0.6" transform="rotate(77 155.8 199.9)" fill="#c81010" opacity="0.83"/>
<ellipse cx="169.9" cy="167.5" rx="3.3" ry="1.3" transform="rotate(26 169.9 167.5)" fill="#4a0505" opacity="0.45"/>
<ellipse cx="171.8" cy="168.9" rx="0.7" ry="0.5" transform="rotate(150 171.8 168.9)" fill="#c81010" opacity="0.51"/>
<ellipse cx="167.6" cy="165.8" rx="0.6" ry="0.4" transform="rotate(92 167.6 165.8)" fill="#c81010" opacity="0.58"/>
<ellipse cx="171.9" cy="168.3" rx="0.8" ry="0.7" transform="rotate(131 171.9 168.3)" fill="#c81010" opacity="0.58"/>
<ellipse cx="171.8" cy="168.3" rx="0.7" ry="0.6" transform="rotate(48 171.8 168.3)" fill="#c81010" opacity="0.69"/>
<ellipse cx="205.7" cy="201.3" rx="3.5" ry="1.4" transform="rotate(38 205.7 201.3)" fill="#4a0505" opacity="0.45"/>
<ellipse cx="205.3" cy="201.5" rx="0.8" ry="0.5" transform="rotate(47 205.3 201.5)" fill="#c81010" opacity="0.43"/>
<ellipse cx="207.2" cy="202.8" rx="0.8" ry="0.5" transform="rotate(87 207.2 202.8)" fill="#c81010" opacity="0.66"/>
<ellipse cx="204.4" cy="199.9" rx="0.7" ry="0.6" transform="rotate(49 204.4 199.9)" fill="#c81010" opacity="0.74"/>
<ellipse cx="207.0" cy="202.0" rx="0.4" ry="0.3" transform="rotate(162 207.0 202.0)" fill="#c81010" opacity="0.37"/>
<ellipse cx="207.9" cy="202.9" rx="0.6" ry="0.5" transform="rotate(108 207.9 202.9)" fill="#c81010" opacity="0.85"/>
<ellipse cx="189.4" cy="230.9" rx="2.3" ry="0.9" transform="rotate(20 189.4 230.9)" fill="#4a0505" opacity="0.45"/>
<ellipse cx="190.0" cy="231.2" rx="0.8" ry="0.6" transform="rotate(167 190.0 231.2)" fill="#c81010" opacity="0.84"/>
<ellipse cx="191.5" cy="231.2" rx="0.6" ry="0.5" transform="rotate(149 191.5 231.2)" fill="#c81010" opacity="0.65"/>
<ellipse cx="203.2" cy="160.0" rx="2.8" ry="1.1" transform="rotate(17 203.2 160.0)" fill="#4a0505" opacity="0.45"/>
<ellipse cx="202.1" cy="159.0" rx="0.6" ry="0.5" transform="rotate(104 202.1 159.0)" fill="#c81010" opacity="0.42"/>
<ellipse cx="204.8" cy="160.5" rx="0.8" ry="0.6" transform="rotate(117 204.8 160.5)" fill="#c81010" opacity="0.80"/>
<ellipse cx="201.3" cy="159.0" rx="0.7" ry="0.5" transform="rotate(113 201.3 159.0)" fill="#c81010" opacity="0.75"/>
<ellipse cx="203.1" cy="160.1" rx="0.5" ry="0.4" transform="rotate(70 203.1 160.1)" fill="#c81010" opacity="0.60"/>
<ellipse cx="234.0" cy="227.6" rx="3.6" ry="1.4" transform="rotate(36 234.0 227.6)" fill="#4a0505" opacity="0.45"/>
<ellipse cx="233.8" cy="227.1" rx="0.6" ry="0.4" transform="rotate(148 233.8 227.1)" fill="#c81010" opacity="0.51"/>
<ellipse cx="233.1" cy="226.0" rx="0.8" ry="0.6" transform="rotate(127 233.1 226.0)" fill="#c81010" opacity="0.63"/>
<ellipse cx="233.4" cy="227.5" rx="0.7" ry="0.5" transform="rotate(14 233.4 227.5)" fill="#c81010" opacity="0.61"/>
<ellipse cx="232.3" cy="225.3" rx="0.6" ry="0.5" transform="rotate(7 232.3 225.3)" fill="#c81010" opacity="0.60"/>
<ellipse cx="234.5" cy="228.7" rx="0.7" ry="0.5" transform="rotate(103 234.5 228.7)" fill="#c81010" opacity="0.78"/>
<ellipse cx="224.1" cy="198.1" rx="2.1" ry="0.8" transform="rotate(45 224.1 198.1)" fill="#4a0505" opacity="0.45"/>
<ellipse cx="224.7" cy="198.4" rx="0.5" ry="0.3" transform="rotate(31 224.7 198.4)" fill="#c81010" opacity="0.65"/>
<ellipse cx="222.4" cy="196.9" rx="0.4" ry="0.3" transform="rotate(113 222.4 196.9)" fill="#c81010" opacity="0.46"/>
<ellipse cx="224.5" cy="198.6" rx="0.6" ry="0.5" transform="rotate(9 224.5 198.6)" fill="#c81010" opacity="0.76"/>
<ellipse cx="223.8" cy="197.1" rx="0.8" ry="0.6" transform="rotate(121 223.8 197.1)" fill="#c81010" opacity="0.69"/>
<ellipse cx="157.8" cy="174.9" rx="3.4" ry="1.3" transform="rotate(22 157.8 174.9)" fill="#4a0505" opacity="0.45"/>
<ellipse cx="156.9" cy="174.7" rx="0.5" ry="0.4" transform="rotate(176 156.9 174.7)" fill="#c81010" opacity="0.43"/>
<ellipse cx="160.5" cy="176.1" rx="0.9" ry="0.6" transform="rotate(144 160.5 176.1)" fill="#c81010" opacity="0.77"/>
<ellipse cx="158.4" cy="174.6" rx="0.8" ry="0.5" transform="rotate(119 158.4 174.6)" fill="#c81010" opacity="0.81"/>
<ellipse cx="162.3" cy="203.9" rx="2.4" ry="0.9" transform="rotate(28 162.3 203.9)" fill="#4a0505" opacity="0.45"/>
<ellipse cx="161.1" cy="203.2" rx="0.8" ry="0.6" transform="rotate(49 161.1 203.2)" fill="#c81010" opacity="0.55"/>
<ellipse cx="160.9" cy="203.5" rx="0.5" ry="0.4" transform="rotate(180 160.9 203.5)" fill="#c81010" opacity="0.70"/>
<ellipse cx="161.8" cy="203.0" rx="0.5" ry="0.4" transform="rotate(127 161.8 203.0)" fill="#c81010" opacity="0.66"/>
<ellipse cx="162.3" cy="204.6" rx="0.7" ry="0.6" transform="rotate(132 162.3 204.6)" fill="#c81010" opacity="0.52"/>
<ellipse cx="163.3" cy="204.8" rx="0.8" ry="0.7" transform="rotate(112 163.3 204.8)" fill="#c81010" opacity="0.45"/>
<ellipse cx="159.5" cy="227.3" rx="2.4" ry="0.9" transform="rotate(19 159.5 227.3)" fill="#4a0505" opacity="0.45"/>
<ellipse cx="161.3" cy="228.5" rx="0.7" ry="0.6" transform="rotate(91 161.3 228.5)" fill="#c81010" opacity="0.58"/>
<ellipse cx="160.8" cy="227.1" rx="0.4" ry="0.4" transform="rotate(9 160.8 227.1)" fill="#c81010" opacity="0.83"/>
<ellipse cx="158.7" cy="226.8" rx="0.8" ry="0.5" transform="rotate(55 158.7 226.8)" fill="#c81010" opacity="0.39"/>
<ellipse cx="159.4" cy="226.8" rx="0.6" ry="0.3" transform="rotate(54 159.4 226.8)" fill="#c81010" opacity="0.64"/>
<ellipse cx="161.0" cy="227.7" rx="0.6" ry="0.4" transform="rotate(156 161.0 227.7)" fill="#c81010" opacity="0.60"/>
<ellipse cx="172.6" cy="174.0" rx="2.1" ry="0.8" transform="rotate(25 172.6 174.0)" fill="#4a0505" opacity="0.45"/>
<ellipse cx="172.6" cy="174.7" rx="0.8" ry="0.5" transform="rotate(27 172.6 174.7)" fill="#c81010" opacity="0.69"/>
<ellipse cx="171.0" cy="173.9" rx="0.8" ry="0.6" transform="rotate(108 171.0 173.9)" fill="#c81010" opacity="0.41"/>
<ellipse cx="175.0" cy="175.2" rx="0.5" ry="0.3" transform="rotate(96 175.0 175.2)" fill="#c81010" opacity="0.43"/>
<ellipse cx="196.5" cy="215.3" rx="2.0" ry="0.8" transform="rotate(21 196.5 215.3)" fill="#4a0505" opacity="0.45"/>
<ellipse cx="195.5" cy="215.4" rx="0.5" ry="0.3" transform="rotate(37 195.5 215.4)" fill="#c81010" opacity="0.67"/>
<ellipse cx="197.1" cy="216.4" rx="0.6" ry="0.5" transform="rotate(172 197.1 216.4)" fill="#c81010" opacity="0.73"/>
<ellipse cx="195.6" cy="214.1" rx="0.5" ry="0.4" transform="rotate(28 195.6 214.1)" fill="#c81010" opacity="0.83"/>
<ellipse cx="151.5" cy="210.2" rx="2.9" ry="1.1" transform="rotate(31 151.5 210.2)" fill="#4a0505" opacity="0.45"/>
<ellipse cx="151.1" cy="210.0" rx="0.8" ry="0.5" transform="rotate(125 151.1 210.0)" fill="#c81010" opacity="0.54"/>
<ellipse cx="150.5" cy="208.8" rx="0.6" ry="0.4" transform="rotate(20 150.5 208.8)" fill="#c81010" opacity="0.50"/>
<ellipse cx="209.0" cy="211.6" rx="3.1" ry="1.2" transform="rotate(20 209.0 211.6)" fill="#4a0505" opacity="0.45"/>
<ellipse cx="206.4" cy="210.1" rx="0.6" ry="0.5" transform="rotate(32 206.4 210.1)" fill="#c81010" opacity="0.65"/>
<ellipse cx="205.9" cy="211.0" rx="0.5" ry="0.4" transform="rotate(163 205.9 211.0)" fill="#c81010" opacity="0.61"/>
<ellipse cx="211.7" cy="212.8" rx="0.7" ry="0.4" transform="rotate(105 211.7 212.8)" fill="#c81010" opacity="0.62"/>
<ellipse cx="210.6" cy="212.5" rx="0.4" ry="0.4" transform="rotate(162 210.6 212.5)" fill="#c81010" opacity="0.73"/>
<ellipse cx="197.8" cy="189.3" rx="2.4" ry="0.9" transform="rotate(41 197.8 189.3)" fill="#4a0505" opacity="0.45"/>
<ellipse cx="198.9" cy="191.0" rx="0.5" ry="0.4" transform="rotate(53 198.9 191.0)" fill="#c81010" opacity="0.64"/>
<ellipse cx="196.8" cy="188.9" rx="0.6" ry="0.5" transform="rotate(32 196.8 188.9)" fill="#c81010" opacity="0.68"/>
<ellipse cx="197.3" cy="188.7" rx="0.7" ry="0.4" transform="rotate(94 197.3 188.7)" fill="#c81010" opacity="0.68"/>
<ellipse cx="199.2" cy="190.8" rx="0.8" ry="0.8" transform="rotate(12 199.2 190.8)" fill="#c81010" opacity="0.42"/>
<ellipse cx="175.9" cy="182.7" rx="2.0" ry="0.8" transform="rotate(25 175.9 182.7)" fill="#4a0505" opacity="0.45"/>
<ellipse cx="175.7" cy="182.4" rx="0.8" ry="0.6" transform="rotate(127 175.7 182.4)" fill="#c81010" opacity="0.45"/>
<ellipse cx="176.6" cy="182.5" rx="0.8" ry="0.5" transform="rotate(120 176.6 182.5)" fill="#c81010" opacity="0.37"/>
<ellipse cx="168.5" cy="164.9" rx="2.2" ry="0.8" transform="rotate(31 168.5 164.9)" fill="#4a0505" opacity="0.45"/>
<ellipse cx="170.2" cy="165.1" rx="0.9" ry="0.6" transform="rotate(120 170.2 165.1)" fill="#c81010" opacity="0.71"/>
<ellipse cx="167.4" cy="164.4" rx="0.6" ry="0.5" transform="rotate(156 167.4 164.4)" fill="#c81010" opacity="0.68"/>
<ellipse cx="167.5" cy="164.5" rx="0.9" ry="0.6" transform="rotate(168 167.5 164.5)" fill="#c81010" opacity="0.55"/>
<ellipse cx="168.3" cy="164.6" rx="0.6" ry="0.5" transform="rotate(46 168.3 164.6)" fill="#c81010" opacity="0.63"/>
<ellipse cx="188.5" cy="177.0" rx="3.0" ry="1.2" transform="rotate(25 188.5 177.0)" fill="#4a0505" opacity="0.45"/>
<ellipse cx="189.1" cy="176.5" rx="0.7" ry="0.5" transform="rotate(89 189.1 176.5)" fill="#c81010" opacity="0.43"/>
<ellipse cx="187.2" cy="176.0" rx="0.7" ry="0.5" transform="rotate(3 187.2 176.0)" fill="#c81010" opacity="0.65"/>
<ellipse cx="168.0" cy="224.8" rx="2.7" ry="1.0" transform="rotate(25 168.0 224.8)" fill="#4a0505" opacity="0.45"/>
<ellipse cx="167.5" cy="224.2" rx="0.5" ry="0.3" transform="rotate(73 167.5 224.2)" fill="#c81010" opacity="0.70"/>
<ellipse cx="168.5" cy="224.9" rx="0.6" ry="0.5" transform="rotate(30 168.5 224.9)" fill="#c81010" opacity="0.72"/>
<ellipse cx="168.7" cy="224.4" rx="0.8" ry="0.6" transform="rotate(139 168.7 224.4)" fill="#c81010" opacity="0.78"/>
<ellipse cx="169.1" cy="226.0" rx="0.8" ry="0.7" transform="rotate(20 169.1 226.0)" fill="#c81010" opacity="0.42"/>
<ellipse cx="166.3" cy="171.4" rx="2.5" ry="1.0" transform="rotate(33 166.3 171.4)" fill="#4a0505" opacity="0.45"/>
<ellipse cx="165.4" cy="171.0" rx="0.7" ry="0.6" transform="rotate(20 165.4 171.0)" fill="#c81010" opacity="0.42"/>
<ellipse cx="166.2" cy="170.7" rx="0.5" ry="0.4" transform="rotate(166 166.2 170.7)" fill="#c81010" opacity="0.49"/>
<ellipse cx="167.0" cy="171.2" rx="0.5" ry="0.3" transform="rotate(156 167.0 171.2)" fill="#c81010" opacity="0.74"/>
<ellipse cx="246.5" cy="189.4" rx="3.1" ry="1.2" transform="rotate(36 246.5 189.4)" fill="#4a0505" opacity="0.45"/>
<ellipse cx="247.9" cy="190.1" rx="0.7" ry="0.6" transform="rotate(87 247.9 190.1)" fill="#c81010" opacity="0.48"/>
<ellipse cx="247.6" cy="189.1" rx="0.7" ry="0.5" transform="rotate(29 247.6 189.1)" fill="#c81010" opacity="0.51"/>
<ellipse cx="149.4" cy="226.7" rx="2.8" ry="1.1" transform="rotate(28 149.4 226.7)" fill="#4a0505" opacity="0.45"/>
<ellipse cx="148.2" cy="226.6" rx="0.5" ry="0.4" transform="rotate(18 148.2 226.6)" fill="#c81010" opacity="0.75"/>
<ellipse cx="150.4" cy="228.1" rx="0.4" ry="0.3" transform="rotate(101 150.4 228.1)" fill="#c81010" opacity="0.47"/>
<ellipse cx="148.7" cy="226.9" rx="0.8" ry="0.7" transform="rotate(43 148.7 226.9)" fill="#c81010" opacity="0.48"/>
<ellipse cx="150.7" cy="226.9" rx="0.7" ry="0.4" transform="rotate(114 150.7 226.9)" fill="#c81010" opacity="0.55"/>
<ellipse cx="148.3" cy="226.6" rx="0.5" ry="0.3" transform="rotate(90 148.3 226.6)" fill="#c81010" opacity="0.43"/>
<ellipse cx="247.3" cy="194.9" rx="1.9" ry="0.8" transform="rotate(21 247.3 194.9)" fill="#4a0505" opacity="0.45"/>
<ellipse cx="245.2" cy="193.7" rx="0.6" ry="0.4" transform="rotate(26 245.2 193.7)" fill="#c81010" opacity="0.59"/>
<ellipse cx="248.8" cy="195.0" rx="0.7" ry="0.5" transform="rotate(28 248.8 195.0)" fill="#c81010" opacity="0.41"/>
<ellipse cx="248.3" cy="194.4" rx="0.6" ry="0.4" transform="rotate(109 248.3 194.4)" fill="#c81010" opacity="0.57"/>
<ellipse cx="170.6" cy="162.4" rx="2.0" ry="0.8" transform="rotate(35 170.6 162.4)" fill="#4a0505" opacity="0.45"/>
<ellipse cx="170.0" cy="163.0" rx="0.5" ry="0.4" transform="rotate(59 170.0 163.0)" fill="#c81010" opacity="0.72"/>
<ellipse cx="169.5" cy="162.1" rx="0.8" ry="0.5" transform="rotate(155 169.5 162.1)" fill="#c81010" opacity="0.51"/>
<ellipse cx="170.5" cy="162.4" rx="0.9" ry="0.7" transform="rotate(144 170.5 162.4)" fill="#c81010" opacity="0.46"/>
<ellipse cx="233.0" cy="209.6" rx="3.2" ry="1.2" transform="rotate(17 233.0 209.6)" fill="#4a0505" opacity="0.45"/>
<ellipse cx="233.7" cy="209.7" rx="0.8" ry="0.5" transform="rotate(165 233.7 209.7)" fill="#c81010" opacity="0.71"/>
<ellipse cx="235.9" cy="210.5" rx="0.6" ry="0.4" transform="rotate(164 235.9 210.5)" fill="#c81010" opacity="0.74"/>
<ellipse cx="231.7" cy="210.1" rx="0.6" ry="0.4" transform="rotate(41 231.7 210.1)" fill="#c81010" opacity="0.70"/>
<ellipse cx="234.3" cy="210.4" rx="0.7" ry="0.6" transform="rotate(29 234.3 210.4)" fill="#c81010" opacity="0.74"/>
<ellipse cx="153.1" cy="167.7" rx="2.9" ry="1.1" transform="rotate(42 153.1 167.7)" fill="#4a0505" opacity="0.45"/>
<ellipse cx="154.7" cy="169.6" rx="0.9" ry="0.8" transform="rotate(27 154.7 169.6)" fill="#c81010" opacity="0.49"/>
<ellipse cx="153.0" cy="167.4" rx="0.8" ry="0.7" transform="rotate(166 153.0 167.4)" fill="#c81010" opacity="0.84"/>
<ellipse cx="151.0" cy="166.9" rx="0.5" ry="0.3" transform="rotate(31 151.0 166.9)" fill="#c81010" opacity="0.68"/>
<ellipse cx="192.1" cy="230.4" rx="3.5" ry="1.4" transform="rotate(42 192.1 230.4)" fill="#4a0505" opacity="0.45"/>
<ellipse cx="194.0" cy="232.3" rx="0.7" ry="0.5" transform="rotate(4 194.0 232.3)" fill="#c81010" opacity="0.71"/>
<ellipse cx="191.3" cy="230.7" rx="0.5" ry="0.4" transform="rotate(31 191.3 230.7)" fill="#c81010" opacity="0.64"/>
<ellipse cx="193.3" cy="232.4" rx="0.7" ry="0.5" transform="rotate(176 193.3 232.4)" fill="#c81010" opacity="0.40"/>
<ellipse cx="192.0" cy="231.2" rx="0.7" ry="0.5" transform="rotate(86 192.0 231.2)" fill="#c81010" opacity="0.48"/>
<ellipse cx="199.3" cy="189.2" rx="2.4" ry="0.9" transform="rotate(42 199.3 189.2)" fill="#4a0505" opacity="0.45"/>
<ellipse cx="199.1" cy="188.6" rx="0.8" ry="0.5" transform="rotate(8 199.1 188.6)" fill="#c81010" opacity="0.40"/>
<ellipse cx="200.9" cy="189.9" rx="0.5" ry="0.4" transform="rotate(2 200.9 189.9)" fill="#c81010" opacity="0.45"/>
<ellipse cx="198.0" cy="189.4" rx="0.8" ry="0.6" transform="rotate(150 198.0 189.4)" fill="#c81010" opacity="0.39"/>
<ellipse cx="198.7" cy="188.7" rx="0.9" ry="0.6" transform="rotate(54 198.7 188.7)" fill="#c81010" opacity="0.70"/>
<ellipse cx="200.5" cy="188.8" rx="0.6" ry="0.4" transform="rotate(24 200.5 188.8)" fill="#c81010" opacity="0.38"/>
<ellipse cx="241.5" cy="231.0" rx="1.9" ry="0.7" transform="rotate(42 241.5 231.0)" fill="#4a0505" opacity="0.45"/>
<ellipse cx="242.1" cy="231.1" rx="0.5" ry="0.4" transform="rotate(34 242.1 231.1)" fill="#c81010" opacity="0.38"/>
<ellipse cx="241.9" cy="231.1" rx="0.9" ry="0.6" transform="rotate(177 241.9 231.1)" fill="#c81010" opacity="0.60"/>
<ellipse cx="242.3" cy="231.2" rx="0.4" ry="0.3" transform="rotate(17 242.3 231.2)" fill="#c81010" opacity="0.65"/>
<ellipse cx="204.3" cy="211.5" rx="3.3" ry="1.3" transform="rotate(23 204.3 211.5)" fill="#4a0505" opacity="0.45"/>
<ellipse cx="203.5" cy="210.8" rx="0.7" ry="0.5" transform="rotate(37 203.5 210.8)" fill="#c81010" opacity="0.64"/>
<ellipse cx="202.8" cy="211.1" rx="0.8" ry="0.6" transform="rotate(117 202.8 211.1)" fill="#c81010" opacity="0.74"/>
<ellipse cx="160.6" cy="224.5" rx="3.4" ry="1.3" transform="rotate(25 160.6 224.5)" fill="#4a0505" opacity="0.45"/>
<ellipse cx="157.6" cy="223.3" rx="0.6" ry="0.4" transform="rotate(87 157.6 223.3)" fill="#c81010" opacity="0.79"/>
<ellipse cx="159.4" cy="224.3" rx="0.8" ry="0.6" transform="rotate(75 159.4 224.3)" fill="#c81010" opacity="0.52"/>
<ellipse cx="159.8" cy="224.5" rx="0.7" ry="0.4" transform="rotate(20 159.8 224.5)" fill="#c81010" opacity="0.35"/>
<ellipse cx="175.5" cy="239.3" rx="3.2" ry="1.2" transform="rotate(33 175.5 239.3)" fill="#4a0505" opacity="0.45"/>
<ellipse cx="174.3" cy="238.5" rx="0.7" ry="0.6" transform="rotate(91 174.3 238.5)" fill="#c81010" opacity="0.79"/>
<ellipse cx="174.0" cy="239.3" rx="0.5" ry="0.4" transform="rotate(122 174.0 239.3)" fill="#c81010" opacity="0.85"/>
<ellipse cx="175.6" cy="239.0" rx="0.4" ry="0.3" transform="rotate(38 175.6 239.0)" fill="#c81010" opacity="0.62"/>
<ellipse cx="156.2" cy="180.1" rx="2.3" ry="0.9" transform="rotate(16 156.2 180.1)" fill="#4a0505" opacity="0.45"/>
<ellipse cx="156.4" cy="180.9" rx="0.9" ry="0.5" transform="rotate(134 156.4 180.9)" fill="#c81010" opacity="0.50"/>
<ellipse cx="155.7" cy="180.0" rx="0.8" ry="0.6" transform="rotate(155 155.7 180.0)" fill="#c81010" opacity="0.79"/>
<ellipse cx="156.7" cy="180.7" rx="0.7" ry="0.5" transform="rotate(71 156.7 180.7)" fill="#c81010" opacity="0.39"/>
<ellipse cx="158.4" cy="181.0" rx="0.6" ry="0.5" transform="rotate(9 158.4 181.0)" fill="#c81010" opacity="0.60"/>
<ellipse cx="176.9" cy="240.6" rx="2.4" ry="0.9" transform="rotate(26 176.9 240.6)" fill="#4a0505" opacity="0.45"/>
<ellipse cx="177.6" cy="241.2" rx="0.7" ry="0.4" transform="rotate(10 177.6 241.2)" fill="#c81010" opacity="0.53"/>
<ellipse cx="174.8" cy="239.5" rx="0.7" ry="0.5" transform="rotate(136 174.8 239.5)" fill="#c81010" opacity="0.54"/>
<ellipse cx="211.2" cy="232.0" rx="2.6" ry="1.0" transform="rotate(23 211.2 232.0)" fill="#4a0505" opacity="0.45"/>
<ellipse cx="210.9" cy="231.8" rx="0.6" ry="0.5" transform="rotate(75 210.9 231.8)" fill="#c81010" opacity="0.68"/>
<ellipse cx="210.5" cy="231.9" rx="0.5" ry="0.4" transform="rotate(41 210.5 231.9)" fill="#c81010" opacity="0.51"/>
<ellipse cx="209.3" cy="230.9" rx="0.5" ry="0.4" transform="rotate(117 209.3 230.9)" fill="#c81010" opacity="0.69"/>
<ellipse cx="229.0" cy="177.7" rx="3.1" ry="1.2" transform="rotate(22 229.0 177.7)" fill="#4a0505" opacity="0.45"/>
<ellipse cx="228.0" cy="177.5" rx="0.6" ry="0.4" transform="rotate(15 228.0 177.5)" fill="#c81010" opacity="0.41"/>
<ellipse cx="227.8" cy="176.9" rx="0.8" ry="0.6" transform="rotate(70 227.8 176.9)" fill="#c81010" opacity="0.41"/>
<ellipse cx="187.1" cy="164.4" rx="2.2" ry="0.8" transform="rotate(41 187.1 164.4)" fill="#4a0505" opacity="0.45"/>
<ellipse cx="187.3" cy="163.9" rx="0.4" ry="0.3" transform="rotate(41 187.3 163.9)" fill="#c81010" opacity="0.36"/>
<ellipse cx="188.3" cy="165.7" rx="0.5" ry="0.4" transform="rotate(139 188.3 165.7)" fill="#c81010" opacity="0.44"/>
<ellipse cx="187.2" cy="164.2" rx="0.8" ry="0.7" transform="rotate(19 187.2 164.2)" fill="#c81010" opacity="0.41"/>
<ellipse cx="187.0" cy="164.4" rx="0.5" ry="0.3" transform="rotate(10 187.0 164.4)" fill="#c81010" opacity="0.59"/>
<ellipse cx="231.8" cy="195.8" rx="2.3" ry="0.9" transform="rotate(21 231.8 195.8)" fill="#4a0505" opacity="0.45"/>
<ellipse cx="231.1" cy="195.4" rx="0.4" ry="0.3" transform="rotate(26 231.1 195.4)" fill="#c81010" opacity="0.55"/>
<ellipse cx="231.3" cy="195.7" rx="0.4" ry="0.3" transform="rotate(19 231.3 195.7)" fill="#c81010" opacity="0.74"/>
</g>
<rect x="141.8" y="159" width="109.69999999999999" height="82.30000000000001" fill="none" stroke="#8a8a8a" stroke-width="0.8"/>
<clipPath id="cp3"><rect x="29.5" y="243.2" width="110.1" height="83.10000000000002"/></clipPath><g clip-path="url(#cp3)">
<rect x="29.5" y="243.2" width="110.1" height="83.10000000000002" fill="#000"/>
<filter id="nf2" x="0" y="0" width="1" height="1" color-interpolation-filters="sRGB"><feTurbulence type="fractalNoise" baseFrequency="0.11 0.35" numOctaves="4" seed="13"/><feColorMatrix type="matrix" values="0.2 0 0 0 0.02  1.1 0 0 0 -0.02  0.22 0 0 0 0.02  0 0 0 0 1"/></filter>
<rect x="-15.450000000000003" y="184.75" width="200" height="200" filter="url(#nf2)" transform="rotate(-35 84.55 284.75)"/>
<line x1="12.3" y1="332.1" x2="103.7" y2="268.1" stroke="#031003" stroke-width="2.0" opacity="0.57" stroke-linecap="round"/>
<line x1="26.1" y1="275.6" x2="83.7" y2="235.3" stroke="#031003" stroke-width="1.8" opacity="0.55" stroke-linecap="round"/>
<line x1="56.7" y1="282.9" x2="119.3" y2="239.0" stroke="#031003" stroke-width="1.4" opacity="0.79" stroke-linecap="round"/>
<line x1="65.8" y1="265.9" x2="127.1" y2="222.9" stroke="#031003" stroke-width="1.0" opacity="0.80" stroke-linecap="round"/>
<line x1="67.7" y1="345.9" x2="169.6" y2="274.5" stroke="#031003" stroke-width="1.8" opacity="0.83" stroke-linecap="round"/>
<line x1="65.1" y1="300.8" x2="168.7" y2="228.3" stroke="#031003" stroke-width="1.5" opacity="0.76" stroke-linecap="round"/>
<line x1="57.7" y1="302.6" x2="125.5" y2="255.2" stroke="#031003" stroke-width="1.4" opacity="0.61" stroke-linecap="round"/>
<line x1="-7.5" y1="346.3" x2="92.3" y2="276.4" stroke="#031003" stroke-width="2.2" opacity="0.74" stroke-linecap="round"/>
<line x1="65.1" y1="323.2" x2="116.0" y2="287.6" stroke="#031003" stroke-width="1.7" opacity="0.66" stroke-linecap="round"/>
<line x1="9.2" y1="287.9" x2="88.7" y2="232.2" stroke="#031003" stroke-width="1.2" opacity="0.66" stroke-linecap="round"/>
<line x1="70.9" y1="293.8" x2="121.5" y2="258.4" stroke="#031003" stroke-width="1.5" opacity="0.58" stroke-linecap="round"/>
<line x1="21.5" y1="283.2" x2="89.4" y2="235.6" stroke="#031003" stroke-width="0.9" opacity="0.73" stroke-linecap="round"/>
<line x1="87.5" y1="308.5" x2="181.5" y2="242.7" stroke="#031003" stroke-width="2.1" opacity="0.52" stroke-linecap="round"/>
<line x1="-6.3" y1="346.2" x2="96.5" y2="274.2" stroke="#031003" stroke-width="1.7" opacity="0.56" stroke-linecap="round"/>
<line x1="21.9" y1="352.6" x2="128.2" y2="278.1" stroke="#031003" stroke-width="1.9" opacity="0.57" stroke-linecap="round"/>
<line x1="76.6" y1="307.2" x2="170.4" y2="241.5" stroke="#031003" stroke-width="1.0" opacity="0.84" stroke-linecap="round"/>
<ellipse cx="98.0" cy="305.5" rx="13.0" ry="1.0" transform="rotate(-34 98.0 305.5)" fill="#021202" opacity="0.58"/>
<ellipse cx="66.3" cy="305.9" rx="14.8" ry="0.7" transform="rotate(-38 66.3 305.9)" fill="#021202" opacity="0.61"/>
<ellipse cx="34.1" cy="259.2" rx="11.0" ry="1.0" transform="rotate(-34 34.1 259.2)" fill="#021202" opacity="0.56"/>
<ellipse cx="24.6" cy="279.1" rx="14.8" ry="0.6" transform="rotate(-40 24.6 279.1)" fill="#021202" opacity="0.70"/>
<ellipse cx="35.3" cy="266.3" rx="13.8" ry="1.0" transform="rotate(-39 35.3 266.3)" fill="#021202" opacity="0.54"/>
<ellipse cx="67.2" cy="315.9" rx="10.1" ry="0.8" transform="rotate(-35 67.2 315.9)" fill="#021202" opacity="0.69"/>
<ellipse cx="86.7" cy="282.4" rx="19.4" ry="0.7" transform="rotate(-40 86.7 282.4)" fill="#021202" opacity="0.55"/>
<ellipse cx="137.9" cy="306.9" rx="13.6" ry="1.0" transform="rotate(-32 137.9 306.9)" fill="#021202" opacity="0.48"/>
<ellipse cx="96.0" cy="271.3" rx="13.4" ry="0.7" transform="rotate(-38 96.0 271.3)" fill="#021202" opacity="0.51"/>
<ellipse cx="24.5" cy="275.2" rx="11.2" ry="1.1" transform="rotate(-34 24.5 275.2)" fill="#021202" opacity="0.40"/>
<ellipse cx="120.2" cy="255.9" rx="16.7" ry="0.9" transform="rotate(-37 120.2 255.9)" fill="#021202" opacity="0.49"/>
<ellipse cx="76.1" cy="251.0" rx="22.1" ry="0.6" transform="rotate(-32 76.1 251.0)" fill="#021202" opacity="0.47"/>
<ellipse cx="59.0" cy="274.4" rx="10.5" ry="0.6" transform="rotate(-36 59.0 274.4)" fill="#021202" opacity="0.53"/>
<ellipse cx="133.5" cy="330.4" rx="10.6" ry="0.9" transform="rotate(-39 133.5 330.4)" fill="#021202" opacity="0.64"/>
<ellipse cx="65.0" cy="317.4" rx="2.6" ry="0.4" transform="rotate(1 65.0 317.4)" fill="#40e840" opacity="0.47"/>
<ellipse cx="125.1" cy="255.6" rx="2.5" ry="0.5" transform="rotate(62 125.1 255.6)" fill="#40e840" opacity="0.64"/>
<ellipse cx="53.0" cy="302.9" rx="2.8" ry="0.7" transform="rotate(94 53.0 302.9)" fill="#40e840" opacity="0.68"/>
<ellipse cx="78.0" cy="290.8" rx="2.7" ry="0.7" transform="rotate(162 78.0 290.8)" fill="#40e840" opacity="0.43"/>
<ellipse cx="44.6" cy="287.6" rx="3.1" ry="0.6" transform="rotate(54 44.6 287.6)" fill="#40e840" opacity="0.69"/>
<ellipse cx="62.3" cy="250.4" rx="1.6" ry="0.4" transform="rotate(131 62.3 250.4)" fill="#40e840" opacity="0.43"/>
<ellipse cx="108.3" cy="315.2" rx="3.5" ry="0.6" transform="rotate(76 108.3 315.2)" fill="#40e840" opacity="0.59"/>
<ellipse cx="121.2" cy="302.7" rx="2.1" ry="0.6" transform="rotate(20 121.2 302.7)" fill="#40e840" opacity="0.49"/>
<ellipse cx="139.2" cy="282.4" rx="2.0" ry="0.6" transform="rotate(81 139.2 282.4)" fill="#40e840" opacity="0.40"/>
<ellipse cx="32.7" cy="264.7" rx="2.2" ry="0.7" transform="rotate(45 32.7 264.7)" fill="#40e840" opacity="0.66"/>
<ellipse cx="123.5" cy="277.8" rx="3.5" ry="0.6" transform="rotate(87 123.5 277.8)" fill="#40e840" opacity="0.48"/>
<ellipse cx="80.3" cy="318.2" rx="2.6" ry="0.5" transform="rotate(68 80.3 318.2)" fill="#40e840" opacity="0.54"/>
<ellipse cx="50.5" cy="290.8" rx="1.6" ry="0.6" transform="rotate(32 50.5 290.8)" fill="#40e840" opacity="0.43"/>
<ellipse cx="94.3" cy="268.7" rx="3.3" ry="0.5" transform="rotate(94 94.3 268.7)" fill="#40e840" opacity="0.65"/>
<ellipse cx="53.1" cy="305.1" rx="2.8" ry="0.5" transform="rotate(173 53.1 305.1)" fill="#40e840" opacity="0.41"/>
<ellipse cx="124.4" cy="255.1" rx="3.2" ry="0.4" transform="rotate(10 124.4 255.1)" fill="#40e840" opacity="0.55"/>
<ellipse cx="131.4" cy="264.6" rx="2.5" ry="0.6" transform="rotate(44 131.4 264.6)" fill="#40e840" opacity="0.56"/>
<ellipse cx="30.6" cy="280.5" rx="3.0" ry="0.5" transform="rotate(40 30.6 280.5)" fill="#40e840" opacity="0.42"/>
<ellipse cx="106.6" cy="278.7" rx="3.3" ry="0.6" transform="rotate(18 106.6 278.7)" fill="#40e840" opacity="0.67"/>
<ellipse cx="132.1" cy="311.1" rx="3.2" ry="0.6" transform="rotate(130 132.1 311.1)" fill="#40e840" opacity="0.60"/>
<ellipse cx="94.5" cy="264.6" rx="1.8" ry="0.6" transform="rotate(107 94.5 264.6)" fill="#40e840" opacity="0.42"/>
<ellipse cx="100.2" cy="293.9" rx="2.5" ry="0.6" transform="rotate(158 100.2 293.9)" fill="#40e840" opacity="0.51"/>
<ellipse cx="84.5" cy="290.7" rx="1.7" ry="1.4" transform="rotate(-38 84.5 290.7)" fill="#8a4ae8" opacity="0.93"/>
<ellipse cx="103.5" cy="319.0" rx="2.0" ry="1.0" transform="rotate(-56 103.5 319.0)" fill="#e040d8" opacity="0.77"/>
<ellipse cx="119.1" cy="308.4" rx="2.4" ry="1.1" transform="rotate(-39 119.1 308.4)" fill="#e040d8" opacity="0.80"/>
<ellipse cx="38.3" cy="261.1" rx="1.4" ry="1.0" transform="rotate(-45 38.3 261.1)" fill="#8a4ae8" opacity="0.94"/>
<ellipse cx="132.3" cy="267.7" rx="1.4" ry="1.4" transform="rotate(-56 132.3 267.7)" fill="#e040d8" opacity="0.64"/>
<ellipse cx="36.9" cy="275.3" rx="1.5" ry="0.9" transform="rotate(-59 36.9 275.3)" fill="#e040d8" opacity="0.84"/>
<ellipse cx="55.0" cy="290.2" rx="2.3" ry="1.2" transform="rotate(-25 55.0 290.2)" fill="#e040d8" opacity="0.85"/>
<ellipse cx="123.4" cy="256.1" rx="1.3" ry="1.2" transform="rotate(-34 123.4 256.1)" fill="#8a4ae8" opacity="0.78"/>
<ellipse cx="48.7" cy="301.9" rx="1.7" ry="1.1" transform="rotate(-48 48.7 301.9)" fill="#8a4ae8" opacity="0.70"/>
<ellipse cx="90.5" cy="318.6" rx="1.5" ry="1.2" transform="rotate(-55 90.5 318.6)" fill="#e040d8" opacity="0.83"/>
<ellipse cx="123.9" cy="323.4" rx="1.5" ry="1.3" transform="rotate(-49 123.9 323.4)" fill="#e040d8" opacity="0.71"/>
<ellipse cx="78.1" cy="251.9" rx="2.0" ry="1.1" transform="rotate(-39 78.1 251.9)" fill="#e040d8" opacity="0.85"/>
<ellipse cx="66.0" cy="273.4" rx="1.2" ry="1.3" transform="rotate(-56 66.0 273.4)" fill="#e040d8" opacity="0.64"/>
<ellipse cx="119.6" cy="280.4" rx="1.7" ry="0.9" transform="rotate(-60 119.6 280.4)" fill="#8a4ae8" opacity="0.78"/>
<ellipse cx="46.1" cy="318.5" rx="1.2" ry="1.0" transform="rotate(-22 46.1 318.5)" fill="#e040d8" opacity="0.86"/>
<ellipse cx="111.2" cy="290.0" rx="2.0" ry="1.4" transform="rotate(-20 111.2 290.0)" fill="#e040d8" opacity="0.81"/>
<ellipse cx="83.6" cy="289.0" rx="2.2" ry="1.2" transform="rotate(-41 83.6 289.0)" fill="#8a4ae8" opacity="0.61"/>
<ellipse cx="67.0" cy="278.9" rx="1.5" ry="1.1" transform="rotate(-40 67.0 278.9)" fill="#8a4ae8" opacity="0.89"/>
<ellipse cx="91.0" cy="308.3" rx="1.7" ry="1.1" transform="rotate(-22 91.0 308.3)" fill="#e040d8" opacity="0.85"/>
<ellipse cx="127.6" cy="289.6" rx="1.9" ry="0.9" transform="rotate(-48 127.6 289.6)" fill="#8a4ae8" opacity="0.75"/>
<ellipse cx="128.5" cy="246.7" rx="1.6" ry="1.2" transform="rotate(-37 128.5 246.7)" fill="#e040d8" opacity="0.90"/>
<ellipse cx="114.4" cy="279.0" rx="1.9" ry="0.8" transform="rotate(-40 114.4 279.0)" fill="#e040d8" opacity="0.88"/>
<ellipse cx="91.6" cy="278.3" rx="1.2" ry="1.2" transform="rotate(-38 91.6 278.3)" fill="#8a4ae8" opacity="0.85"/>
<ellipse cx="73.8" cy="315.9" rx="1.4" ry="1.4" transform="rotate(-56 73.8 315.9)" fill="#8a4ae8" opacity="0.94"/>
<ellipse cx="78.8" cy="321.0" rx="1.8" ry="1.1" transform="rotate(-57 78.8 321.0)" fill="#e040d8" opacity="0.88"/>
<ellipse cx="55.9" cy="252.6" rx="1.7" ry="1.4" transform="rotate(-16 55.9 252.6)" fill="#8a4ae8" opacity="0.76"/>
<ellipse cx="120.8" cy="260.0" rx="2.1" ry="1.1" transform="rotate(-12 120.8 260.0)" fill="#e040d8" opacity="0.65"/>
<ellipse cx="108.8" cy="244.6" rx="1.9" ry="1.0" transform="rotate(-25 108.8 244.6)" fill="#8a4ae8" opacity="0.94"/>
<ellipse cx="83.9" cy="293.4" rx="1.5" ry="1.1" transform="rotate(-54 83.9 293.4)" fill="#8a4ae8" opacity="0.85"/>
<ellipse cx="87.5" cy="258.1" rx="1.9" ry="0.8" transform="rotate(-59 87.5 258.1)" fill="#e040d8" opacity="0.82"/>
<ellipse cx="127.3" cy="299.5" rx="2.4" ry="0.9" transform="rotate(-29 127.3 299.5)" fill="#8a4ae8" opacity="0.82"/>
<ellipse cx="44.9" cy="263.2" rx="1.8" ry="1.3" transform="rotate(-24 44.9 263.2)" fill="#e040d8" opacity="0.80"/>
<ellipse cx="109.0" cy="285.8" rx="1.4" ry="1.2" transform="rotate(-48 109.0 285.8)" fill="#e040d8" opacity="0.71"/>
<ellipse cx="112.2" cy="252.1" rx="1.7" ry="0.9" transform="rotate(-26 112.2 252.1)" fill="#e040d8" opacity="0.89"/>
<ellipse cx="108.7" cy="281.8" rx="1.5" ry="1.0" transform="rotate(-33 108.7 281.8)" fill="#e040d8" opacity="0.88"/>
<ellipse cx="29.6" cy="308.1" rx="1.9" ry="1.1" transform="rotate(-48 29.6 308.1)" fill="#8a4ae8" opacity="0.75"/>
<ellipse cx="59.4" cy="254.7" rx="2.3" ry="1.1" transform="rotate(-56 59.4 254.7)" fill="#8a4ae8" opacity="0.91"/>
<ellipse cx="69.7" cy="294.6" rx="2.0" ry="1.3" transform="rotate(-51 69.7 294.6)" fill="#e040d8" opacity="0.80"/>
<ellipse cx="81.0" cy="302.6" rx="1.8" ry="1.2" transform="rotate(-12 81.0 302.6)" fill="#8a4ae8" opacity="0.72"/>
<ellipse cx="67.5" cy="317.0" rx="2.1" ry="1.3" transform="rotate(-16 67.5 317.0)" fill="#8a4ae8" opacity="0.81"/>
<ellipse cx="46.6" cy="290.9" rx="1.3" ry="1.1" transform="rotate(-26 46.6 290.9)" fill="#8a4ae8" opacity="0.70"/>
<ellipse cx="75.5" cy="259.6" rx="1.4" ry="1.1" transform="rotate(-41 75.5 259.6)" fill="#8a4ae8" opacity="0.62"/>
<ellipse cx="136.8" cy="282.5" rx="2.0" ry="1.1" transform="rotate(-56 136.8 282.5)" fill="#e040d8" opacity="0.81"/>
<ellipse cx="42.9" cy="294.5" rx="2.0" ry="0.8" transform="rotate(-13 42.9 294.5)" fill="#e040d8" opacity="0.61"/>
<ellipse cx="65.7" cy="309.5" rx="2.1" ry="1.2" transform="rotate(-39 65.7 309.5)" fill="#e040d8" opacity="0.92"/>
<ellipse cx="135.3" cy="247.4" rx="1.4" ry="1.3" transform="rotate(-22 135.3 247.4)" fill="#e040d8" opacity="0.84"/>
<ellipse cx="124.9" cy="286.0" rx="1.4" ry="0.9" transform="rotate(-11 124.9 286.0)" fill="#e040d8" opacity="0.62"/>
<ellipse cx="68.7" cy="317.4" rx="2.2" ry="1.3" transform="rotate(-28 68.7 317.4)" fill="#e040d8" opacity="0.60"/>
<ellipse cx="50.5" cy="321.9" rx="2.4" ry="0.8" transform="rotate(-23 50.5 321.9)" fill="#8a4ae8" opacity="0.68"/>
<ellipse cx="125.8" cy="280.0" rx="1.6" ry="1.1" transform="rotate(-57 125.8 280.0)" fill="#e040d8" opacity="0.75"/>
<ellipse cx="124.7" cy="253.4" rx="2.3" ry="0.9" transform="rotate(-50 124.7 253.4)" fill="#8a4ae8" opacity="0.72"/>
<ellipse cx="39.5" cy="297.7" rx="1.7" ry="0.9" transform="rotate(-34 39.5 297.7)" fill="#e040d8" opacity="0.64"/>
<ellipse cx="135.7" cy="282.0" rx="1.7" ry="1.0" transform="rotate(-42 135.7 282.0)" fill="#8a4ae8" opacity="0.74"/>
<ellipse cx="62.1" cy="300.6" rx="1.8" ry="0.8" transform="rotate(-53 62.1 300.6)" fill="#e040d8" opacity="0.89"/>
<ellipse cx="120.9" cy="294.5" rx="2.0" ry="1.0" transform="rotate(-31 120.9 294.5)" fill="#e040d8" opacity="0.75"/>
<ellipse cx="133.5" cy="252.1" rx="1.5" ry="1.3" transform="rotate(-14 133.5 252.1)" fill="#e040d8" opacity="0.88"/>
<ellipse cx="40.9" cy="302.9" rx="1.3" ry="1.3" transform="rotate(-40 40.9 302.9)" fill="#8a4ae8" opacity="0.77"/>
<ellipse cx="52.2" cy="290.3" rx="2.2" ry="1.1" transform="rotate(-38 52.2 290.3)" fill="#e040d8" opacity="0.73"/>
<ellipse cx="60.8" cy="312.8" rx="2.4" ry="1.0" transform="rotate(-46 60.8 312.8)" fill="#e040d8" opacity="0.72"/>
<ellipse cx="58.4" cy="258.4" rx="1.6" ry="0.9" transform="rotate(-53 58.4 258.4)" fill="#8a4ae8" opacity="0.68"/>
<ellipse cx="131.8" cy="264.7" rx="1.6" ry="1.2" transform="rotate(-59 131.8 264.7)" fill="#8a4ae8" opacity="0.63"/>
<ellipse cx="80.7" cy="272.4" rx="1.7" ry="0.8" transform="rotate(-47 80.7 272.4)" fill="#e040d8" opacity="0.66"/>
<ellipse cx="37.2" cy="311.0" rx="1.2" ry="1.0" transform="rotate(-51 37.2 311.0)" fill="#e040d8" opacity="0.67"/>
<ellipse cx="135.3" cy="323.4" rx="1.6" ry="1.1" transform="rotate(-38 135.3 323.4)" fill="#8a4ae8" opacity="0.63"/>
<ellipse cx="96.8" cy="276.3" rx="2.1" ry="1.1" transform="rotate(-45 96.8 276.3)" fill="#e040d8" opacity="0.91"/>
</g>
<rect x="29.5" y="243.2" width="110.1" height="83.10000000000002" fill="none" stroke="#8a8a8a" stroke-width="0.8"/>
<clipPath id="cp4"><rect x="141.8" y="243.2" width="109.69999999999999" height="83.10000000000002"/></clipPath><g clip-path="url(#cp4)">
<rect x="141.8" y="243.2" width="109.69999999999999" height="83.10000000000002" fill="#000"/>
<ellipse cx="153.5" cy="301.6" rx="1.2" ry="1.0" transform="rotate(49 153.5 301.6)" fill="#600808" opacity="0.40"/>
<ellipse cx="222.3" cy="297.9" rx="0.9" ry="0.8" transform="rotate(71 222.3 297.9)" fill="#600808" opacity="0.61"/>
<ellipse cx="154.8" cy="261.8" rx="1.4" ry="0.6" transform="rotate(47 154.8 261.8)" fill="#600808" opacity="0.62"/>
<ellipse cx="211.1" cy="255.6" rx="1.1" ry="0.8" transform="rotate(30 211.1 255.6)" fill="#600808" opacity="0.56"/>
<ellipse cx="155.3" cy="271.2" rx="0.7" ry="0.5" transform="rotate(176 155.3 271.2)" fill="#600808" opacity="0.46"/>
<ellipse cx="250.5" cy="279.7" rx="1.1" ry="0.9" transform="rotate(124 250.5 279.7)" fill="#600808" opacity="0.34"/>
<ellipse cx="206.4" cy="295.9" rx="0.8" ry="0.5" transform="rotate(157 206.4 295.9)" fill="#600808" opacity="0.51"/>
<ellipse cx="163.1" cy="280.8" rx="0.8" ry="0.9" transform="rotate(90 163.1 280.8)" fill="#600808" opacity="0.34"/>
<ellipse cx="231.5" cy="250.6" rx="0.9" ry="0.4" transform="rotate(133 231.5 250.6)" fill="#600808" opacity="0.35"/>
<ellipse cx="199.5" cy="250.9" rx="1.0" ry="0.8" transform="rotate(96 199.5 250.9)" fill="#600808" opacity="0.48"/>
<ellipse cx="195.0" cy="279.5" rx="1.1" ry="0.5" transform="rotate(85 195.0 279.5)" fill="#600808" opacity="0.39"/>
<ellipse cx="236.7" cy="321.2" rx="0.7" ry="0.5" transform="rotate(127 236.7 321.2)" fill="#600808" opacity="0.53"/>
<ellipse cx="143.9" cy="301.8" rx="1.4" ry="0.7" transform="rotate(63 143.9 301.8)" fill="#600808" opacity="0.53"/>
<ellipse cx="244.8" cy="265.1" rx="0.9" ry="0.5" transform="rotate(113 244.8 265.1)" fill="#600808" opacity="0.49"/>
<ellipse cx="169.9" cy="275.4" rx="0.6" ry="0.6" transform="rotate(177 169.9 275.4)" fill="#600808" opacity="0.53"/>
<ellipse cx="172.8" cy="321.0" rx="0.9" ry="0.6" transform="rotate(6 172.8 321.0)" fill="#600808" opacity="0.36"/>
<ellipse cx="163.6" cy="262.3" rx="1.4" ry="0.6" transform="rotate(45 163.6 262.3)" fill="#600808" opacity="0.54"/>
<ellipse cx="242.4" cy="267.4" rx="1.3" ry="0.6" transform="rotate(101 242.4 267.4)" fill="#600808" opacity="0.54"/>
<ellipse cx="245.2" cy="306.1" rx="1.1" ry="0.9" transform="rotate(66 245.2 306.1)" fill="#600808" opacity="0.45"/>
<ellipse cx="247.1" cy="288.6" rx="1.3" ry="0.6" transform="rotate(165 247.1 288.6)" fill="#600808" opacity="0.55"/>
<ellipse cx="168.9" cy="320.8" rx="1.0" ry="0.6" transform="rotate(47 168.9 320.8)" fill="#600808" opacity="0.34"/>
<ellipse cx="163.8" cy="300.7" rx="0.7" ry="0.6" transform="rotate(81 163.8 300.7)" fill="#600808" opacity="0.52"/>
<ellipse cx="183.5" cy="308.4" rx="0.8" ry="0.6" transform="rotate(77 183.5 308.4)" fill="#600808" opacity="0.35"/>
<ellipse cx="166.2" cy="255.4" rx="1.3" ry="0.5" transform="rotate(120 166.2 255.4)" fill="#600808" opacity="0.39"/>
<ellipse cx="212.8" cy="297.8" rx="0.9" ry="1.0" transform="rotate(118 212.8 297.8)" fill="#600808" opacity="0.52"/>
<ellipse cx="146.9" cy="277.0" rx="0.8" ry="0.7" transform="rotate(168 146.9 277.0)" fill="#600808" opacity="0.65"/>
<ellipse cx="148.6" cy="299.7" rx="1.4" ry="0.7" transform="rotate(17 148.6 299.7)" fill="#600808" opacity="0.65"/>
<ellipse cx="188.6" cy="324.7" rx="1.4" ry="0.9" transform="rotate(168 188.6 324.7)" fill="#600808" opacity="0.33"/>
<ellipse cx="228.9" cy="268.6" rx="0.7" ry="0.6" transform="rotate(106 228.9 268.6)" fill="#600808" opacity="0.30"/>
<ellipse cx="191.1" cy="308.4" rx="1.0" ry="0.7" transform="rotate(53 191.1 308.4)" fill="#600808" opacity="0.69"/>
<ellipse cx="169.0" cy="299.8" rx="1.2" ry="0.4" transform="rotate(179 169.0 299.8)" fill="#600808" opacity="0.39"/>
<ellipse cx="250.3" cy="320.3" rx="1.4" ry="0.9" transform="rotate(72 250.3 320.3)" fill="#600808" opacity="0.48"/>
<ellipse cx="179.7" cy="321.0" rx="0.6" ry="0.5" transform="rotate(172 179.7 321.0)" fill="#600808" opacity="0.62"/>
<ellipse cx="219.3" cy="323.6" rx="1.1" ry="0.9" transform="rotate(80 219.3 323.6)" fill="#600808" opacity="0.66"/>
<ellipse cx="149.4" cy="279.6" rx="1.1" ry="0.9" transform="rotate(76 149.4 279.6)" fill="#600808" opacity="0.57"/>
<ellipse cx="248.0" cy="278.0" rx="0.8" ry="0.4" transform="rotate(155 248.0 278.0)" fill="#600808" opacity="0.49"/>
<ellipse cx="184.4" cy="286.4" rx="0.7" ry="0.5" transform="rotate(42 184.4 286.4)" fill="#600808" opacity="0.40"/>
<ellipse cx="236.1" cy="263.7" rx="0.7" ry="0.9" transform="rotate(100 236.1 263.7)" fill="#600808" opacity="0.31"/>
<ellipse cx="215.9" cy="300.2" rx="1.2" ry="0.9" transform="rotate(76 215.9 300.2)" fill="#600808" opacity="0.39"/>
<ellipse cx="223.4" cy="295.1" rx="1.2" ry="0.5" transform="rotate(67 223.4 295.1)" fill="#600808" opacity="0.58"/>
<ellipse cx="184.0" cy="293.3" rx="1.0" ry="0.9" transform="rotate(63 184.0 293.3)" fill="#600808" opacity="0.50"/>
<ellipse cx="232.7" cy="269.0" rx="0.8" ry="0.8" transform="rotate(24 232.7 269.0)" fill="#600808" opacity="0.64"/>
<ellipse cx="172.0" cy="318.3" rx="1.1" ry="0.5" transform="rotate(94 172.0 318.3)" fill="#600808" opacity="0.57"/>
<ellipse cx="195.1" cy="296.0" rx="0.9" ry="1.0" transform="rotate(31 195.1 296.0)" fill="#600808" opacity="0.62"/>
<ellipse cx="144.4" cy="285.3" rx="0.7" ry="0.5" transform="rotate(106 144.4 285.3)" fill="#600808" opacity="0.66"/>
<ellipse cx="175.7" cy="276.7" rx="1.0" ry="0.8" transform="rotate(63 175.7 276.7)" fill="#600808" opacity="0.44"/>
<ellipse cx="235.4" cy="289.4" rx="0.9" ry="0.9" transform="rotate(180 235.4 289.4)" fill="#600808" opacity="0.47"/>
<ellipse cx="143.5" cy="268.6" rx="1.4" ry="0.5" transform="rotate(36 143.5 268.6)" fill="#600808" opacity="0.62"/>
<ellipse cx="154.3" cy="313.8" rx="0.8" ry="0.6" transform="rotate(107 154.3 313.8)" fill="#600808" opacity="0.34"/>
<ellipse cx="226.8" cy="279.6" rx="1.3" ry="0.9" transform="rotate(14 226.8 279.6)" fill="#600808" opacity="0.63"/>
<ellipse cx="231.8" cy="263.3" rx="1.1" ry="0.5" transform="rotate(97 231.8 263.3)" fill="#600808" opacity="0.60"/>
<ellipse cx="183.1" cy="287.5" rx="0.7" ry="0.9" transform="rotate(113 183.1 287.5)" fill="#600808" opacity="0.63"/>
<ellipse cx="150.7" cy="305.1" rx="0.7" ry="0.7" transform="rotate(42 150.7 305.1)" fill="#600808" opacity="0.66"/>
<ellipse cx="153.5" cy="282.5" rx="1.0" ry="0.6" transform="rotate(12 153.5 282.5)" fill="#600808" opacity="0.57"/>
<ellipse cx="248.4" cy="273.2" rx="1.4" ry="0.6" transform="rotate(49 248.4 273.2)" fill="#600808" opacity="0.48"/>
<ellipse cx="248.5" cy="308.0" rx="1.2" ry="0.4" transform="rotate(81 248.5 308.0)" fill="#600808" opacity="0.31"/>
<ellipse cx="148.6" cy="274.5" rx="0.8" ry="0.5" transform="rotate(92 148.6 274.5)" fill="#600808" opacity="0.61"/>
<ellipse cx="243.4" cy="319.3" rx="1.0" ry="0.5" transform="rotate(173 243.4 319.3)" fill="#600808" opacity="0.47"/>
<ellipse cx="179.4" cy="311.7" rx="1.1" ry="1.0" transform="rotate(126 179.4 311.7)" fill="#600808" opacity="0.68"/>
<ellipse cx="158.6" cy="321.6" rx="1.1" ry="0.8" transform="rotate(54 158.6 321.6)" fill="#600808" opacity="0.40"/>
<ellipse cx="174.3" cy="257.3" rx="1.5" ry="0.5" transform="rotate(44 174.3 257.3)" fill="#600808" opacity="0.55"/>
<ellipse cx="164.2" cy="261.0" rx="0.8" ry="0.5" transform="rotate(2 164.2 261.0)" fill="#600808" opacity="0.60"/>
<ellipse cx="214.1" cy="269.0" rx="1.4" ry="0.7" transform="rotate(40 214.1 269.0)" fill="#600808" opacity="0.69"/>
<ellipse cx="167.0" cy="310.5" rx="1.3" ry="0.4" transform="rotate(152 167.0 310.5)" fill="#600808" opacity="0.47"/>
<ellipse cx="196.9" cy="321.8" rx="1.0" ry="0.5" transform="rotate(9 196.9 321.8)" fill="#600808" opacity="0.65"/>
<ellipse cx="191.7" cy="302.3" rx="1.2" ry="1.0" transform="rotate(169 191.7 302.3)" fill="#600808" opacity="0.67"/>
<ellipse cx="197.1" cy="318.8" rx="0.9" ry="0.5" transform="rotate(115 197.1 318.8)" fill="#600808" opacity="0.31"/>
<ellipse cx="248.5" cy="270.2" rx="1.0" ry="0.6" transform="rotate(58 248.5 270.2)" fill="#600808" opacity="0.51"/>
<ellipse cx="229.7" cy="244.4" rx="0.9" ry="0.5" transform="rotate(173 229.7 244.4)" fill="#600808" opacity="0.48"/>
<ellipse cx="190.5" cy="321.1" rx="0.9" ry="0.6" transform="rotate(72 190.5 321.1)" fill="#600808" opacity="0.39"/>
<ellipse cx="173.3" cy="285.5" rx="0.9" ry="0.7" transform="rotate(138 173.3 285.5)" fill="#f01818" opacity="0.92"/>
<ellipse cx="246.0" cy="321.8" rx="0.8" ry="0.7" transform="rotate(129 246.0 321.8)" fill="#f01818" opacity="0.84"/>
<ellipse cx="236.2" cy="282.6" rx="0.7" ry="0.6" transform="rotate(70 236.2 282.6)" fill="#f01818" opacity="0.81"/>
<ellipse cx="221.9" cy="267.3" rx="0.5" ry="0.4" transform="rotate(131 221.9 267.3)" fill="#f01818" opacity="0.95"/>
<ellipse cx="214.6" cy="262.6" rx="1.1" ry="0.9" transform="rotate(10 214.6 262.6)" fill="#f01818" opacity="0.82"/>
<ellipse cx="234.5" cy="292.6" rx="1.1" ry="0.9" transform="rotate(32 234.5 292.6)" fill="#f01818" opacity="0.71"/>
<ellipse cx="243.9" cy="246.5" rx="0.7" ry="0.4" transform="rotate(91 243.9 246.5)" fill="#f01818" opacity="0.76"/>
<ellipse cx="153.5" cy="250.3" rx="1.0" ry="0.9" transform="rotate(2 153.5 250.3)" fill="#f01818" opacity="0.77"/>
<ellipse cx="238.4" cy="271.1" rx="0.7" ry="0.5" transform="rotate(145 238.4 271.1)" fill="#f01818" opacity="0.89"/>
<ellipse cx="143.6" cy="288.2" rx="1.0" ry="0.5" transform="rotate(153 143.6 288.2)" fill="#f01818" opacity="0.71"/>
<ellipse cx="188.9" cy="294.8" rx="0.6" ry="0.3" transform="rotate(115 188.9 294.8)" fill="#f01818" opacity="0.73"/>
<ellipse cx="146.4" cy="303.6" rx="0.7" ry="0.6" transform="rotate(139 146.4 303.6)" fill="#f01818" opacity="0.80"/>
<ellipse cx="247.4" cy="311.1" rx="0.6" ry="0.6" transform="rotate(75 247.4 311.1)" fill="#f01818" opacity="0.96"/>
<ellipse cx="228.0" cy="285.8" rx="0.9" ry="0.7" transform="rotate(90 228.0 285.8)" fill="#f01818" opacity="0.78"/>
<ellipse cx="146.3" cy="299.2" rx="0.8" ry="0.5" transform="rotate(33 146.3 299.2)" fill="#f01818" opacity="0.94"/>
<ellipse cx="176.5" cy="319.9" rx="0.8" ry="0.7" transform="rotate(77 176.5 319.9)" fill="#f01818" opacity="0.86"/>
<ellipse cx="180.9" cy="325.3" rx="0.5" ry="0.4" transform="rotate(179 180.9 325.3)" fill="#f01818" opacity="0.71"/>
<ellipse cx="148.6" cy="249.5" rx="0.5" ry="0.4" transform="rotate(178 148.6 249.5)" fill="#f01818" opacity="0.93"/>
<ellipse cx="183.6" cy="274.9" rx="0.9" ry="0.5" transform="rotate(71 183.6 274.9)" fill="#f01818" opacity="0.74"/>
<ellipse cx="200.9" cy="274.6" rx="1.0" ry="0.8" transform="rotate(54 200.9 274.6)" fill="#f01818" opacity="0.96"/>
<ellipse cx="220.5" cy="295.4" rx="3.3" ry="1.3" transform="rotate(-46 220.5 295.4)" fill="#600808" opacity="0.45"/>
<ellipse cx="222.6" cy="294.0" rx="0.6" ry="0.6" transform="rotate(159 222.6 294.0)" fill="#f01818" opacity="0.85"/>
<ellipse cx="219.5" cy="296.8" rx="0.7" ry="0.6" transform="rotate(16 219.5 296.8)" fill="#f01818" opacity="0.86"/>
<ellipse cx="220.0" cy="296.1" rx="0.6" ry="0.4" transform="rotate(82 220.0 296.1)" fill="#f01818" opacity="0.90"/>
<ellipse cx="219.3" cy="296.0" rx="0.8" ry="0.5" transform="rotate(101 219.3 296.0)" fill="#f01818" opacity="0.93"/>
<ellipse cx="220.9" cy="294.6" rx="0.6" ry="0.4" transform="rotate(137 220.9 294.6)" fill="#f01818" opacity="0.60"/>
<ellipse cx="212.8" cy="319.8" rx="2.8" ry="1.1" transform="rotate(-55 212.8 319.8)" fill="#600808" opacity="0.45"/>
<ellipse cx="211.4" cy="321.3" rx="0.8" ry="0.5" transform="rotate(36 211.4 321.3)" fill="#f01818" opacity="0.80"/>
<ellipse cx="213.3" cy="318.6" rx="0.8" ry="0.6" transform="rotate(74 213.3 318.6)" fill="#f01818" opacity="0.93"/>
<ellipse cx="211.7" cy="321.3" rx="0.6" ry="0.4" transform="rotate(31 211.7 321.3)" fill="#f01818" opacity="0.76"/>
<ellipse cx="211.6" cy="322.1" rx="1.0" ry="0.9" transform="rotate(45 211.6 322.1)" fill="#f01818" opacity="0.92"/>
<ellipse cx="181.1" cy="302.6" rx="3.1" ry="1.2" transform="rotate(-43 181.1 302.6)" fill="#600808" opacity="0.45"/>
<ellipse cx="179.8" cy="304.0" rx="0.7" ry="0.5" transform="rotate(138 179.8 304.0)" fill="#f01818" opacity="0.78"/>
<ellipse cx="182.8" cy="301.8" rx="0.8" ry="0.5" transform="rotate(162 182.8 301.8)" fill="#f01818" opacity="0.95"/>
<ellipse cx="181.0" cy="303.4" rx="0.5" ry="0.4" transform="rotate(173 181.0 303.4)" fill="#f01818" opacity="0.67"/>
<ellipse cx="183.6" cy="301.5" rx="0.9" ry="0.8" transform="rotate(147 183.6 301.5)" fill="#f01818" opacity="0.82"/>
<ellipse cx="180.6" cy="302.1" rx="1.0" ry="0.6" transform="rotate(157 180.6 302.1)" fill="#f01818" opacity="0.65"/>
<ellipse cx="179.7" cy="304.2" rx="0.8" ry="0.5" transform="rotate(89 179.7 304.2)" fill="#f01818" opacity="0.67"/>
<ellipse cx="207.6" cy="269.3" rx="3.6" ry="1.4" transform="rotate(-60 207.6 269.3)" fill="#600808" opacity="0.45"/>
<ellipse cx="206.5" cy="270.6" rx="0.6" ry="0.5" transform="rotate(137 206.5 270.6)" fill="#f01818" opacity="0.70"/>
<ellipse cx="207.9" cy="269.2" rx="0.5" ry="0.4" transform="rotate(153 207.9 269.2)" fill="#f01818" opacity="0.71"/>
<ellipse cx="208.2" cy="269.5" rx="0.9" ry="0.8" transform="rotate(145 208.2 269.5)" fill="#f01818" opacity="0.80"/>
<ellipse cx="208.6" cy="268.8" rx="0.6" ry="0.4" transform="rotate(162 208.6 268.8)" fill="#f01818" opacity="0.97"/>
<ellipse cx="205.8" cy="271.8" rx="0.9" ry="0.6" transform="rotate(78 205.8 271.8)" fill="#f01818" opacity="0.95"/>
<ellipse cx="142.4" cy="275.6" rx="2.4" ry="0.9" transform="rotate(-58 142.4 275.6)" fill="#600808" opacity="0.45"/>
<ellipse cx="143.6" cy="273.5" rx="0.6" ry="0.4" transform="rotate(121 143.6 273.5)" fill="#f01818" opacity="0.82"/>
<ellipse cx="141.6" cy="275.9" rx="1.1" ry="0.7" transform="rotate(75 141.6 275.9)" fill="#f01818" opacity="0.91"/>
<ellipse cx="142.5" cy="275.1" rx="1.0" ry="0.8" transform="rotate(119 142.5 275.1)" fill="#f01818" opacity="0.83"/>
<ellipse cx="143.2" cy="274.7" rx="0.5" ry="0.4" transform="rotate(61 143.2 274.7)" fill="#f01818" opacity="0.89"/>
<ellipse cx="147.4" cy="252.2" rx="3.6" ry="1.4" transform="rotate(-41 147.4 252.2)" fill="#600808" opacity="0.45"/>
<ellipse cx="148.4" cy="251.8" rx="0.9" ry="0.7" transform="rotate(118 148.4 251.8)" fill="#f01818" opacity="0.62"/>
<ellipse cx="149.6" cy="250.4" rx="0.6" ry="0.6" transform="rotate(114 149.6 250.4)" fill="#f01818" opacity="0.96"/>
<ellipse cx="146.5" cy="253.4" rx="0.7" ry="0.5" transform="rotate(87 146.5 253.4)" fill="#f01818" opacity="0.83"/>
<ellipse cx="145.9" cy="253.9" rx="0.7" ry="0.6" transform="rotate(160 145.9 253.9)" fill="#f01818" opacity="0.89"/>
<ellipse cx="154.9" cy="276.3" rx="3.1" ry="1.2" transform="rotate(-64 154.9 276.3)" fill="#600808" opacity="0.45"/>
<ellipse cx="155.7" cy="274.4" rx="0.5" ry="0.4" transform="rotate(62 155.7 274.4)" fill="#f01818" opacity="0.99"/>
<ellipse cx="153.3" cy="278.5" rx="0.8" ry="0.7" transform="rotate(24 153.3 278.5)" fill="#f01818" opacity="0.62"/>
<ellipse cx="153.7" cy="278.3" rx="0.8" ry="0.5" transform="rotate(58 153.7 278.3)" fill="#f01818" opacity="0.71"/>
<ellipse cx="154.5" cy="276.8" rx="0.6" ry="0.5" transform="rotate(165 154.5 276.8)" fill="#f01818" opacity="0.90"/>
<ellipse cx="153.9" cy="278.9" rx="0.5" ry="0.5" transform="rotate(20 153.9 278.9)" fill="#f01818" opacity="0.64"/>
<ellipse cx="142.7" cy="314.6" rx="2.3" ry="0.9" transform="rotate(-51 142.7 314.6)" fill="#600808" opacity="0.45"/>
<ellipse cx="143.4" cy="314.8" rx="0.5" ry="0.4" transform="rotate(28 143.4 314.8)" fill="#f01818" opacity="0.96"/>
<ellipse cx="142.3" cy="315.4" rx="0.8" ry="0.6" transform="rotate(46 142.3 315.4)" fill="#f01818" opacity="0.86"/>
<ellipse cx="143.5" cy="314.8" rx="0.6" ry="0.5" transform="rotate(58 143.5 314.8)" fill="#f01818" opacity="0.99"/>
<ellipse cx="142.4" cy="314.4" rx="0.8" ry="0.6" transform="rotate(69 142.4 314.4)" fill="#f01818" opacity="0.83"/>
<ellipse cx="201.1" cy="309.4" rx="2.9" ry="1.1" transform="rotate(-51 201.1 309.4)" fill="#600808" opacity="0.45"/>
<ellipse cx="200.5" cy="310.9" rx="1.0" ry="0.6" transform="rotate(67 200.5 310.9)" fill="#f01818" opacity="0.87"/>
<ellipse cx="201.9" cy="308.0" rx="0.9" ry="0.6" transform="rotate(124 201.9 308.0)" fill="#f01818" opacity="0.93"/>
<ellipse cx="201.4" cy="307.8" rx="0.9" ry="0.7" transform="rotate(84 201.4 307.8)" fill="#f01818" opacity="0.95"/>
<ellipse cx="195.5" cy="261.1" rx="2.3" ry="0.9" transform="rotate(-53 195.5 261.1)" fill="#600808" opacity="0.45"/>
<ellipse cx="195.1" cy="261.1" rx="0.6" ry="0.5" transform="rotate(136 195.1 261.1)" fill="#f01818" opacity="0.77"/>
<ellipse cx="195.4" cy="260.9" rx="0.9" ry="0.8" transform="rotate(143 195.4 260.9)" fill="#f01818" opacity="0.89"/>
<ellipse cx="194.7" cy="261.9" rx="0.6" ry="0.4" transform="rotate(64 194.7 261.9)" fill="#f01818" opacity="0.75"/>
<ellipse cx="196.0" cy="260.1" rx="1.0" ry="0.7" transform="rotate(144 196.0 260.1)" fill="#f01818" opacity="0.91"/>
<ellipse cx="202.0" cy="305.8" rx="3.7" ry="1.4" transform="rotate(-60 202.0 305.8)" fill="#600808" opacity="0.45"/>
<ellipse cx="201.7" cy="307.0" rx="0.9" ry="0.7" transform="rotate(42 201.7 307.0)" fill="#f01818" opacity="0.87"/>
<ellipse cx="202.0" cy="306.3" rx="1.1" ry="0.9" transform="rotate(126 202.0 306.3)" fill="#f01818" opacity="0.66"/>
<ellipse cx="203.6" cy="304.8" rx="1.1" ry="0.8" transform="rotate(118 203.6 304.8)" fill="#f01818" opacity="0.84"/>
<ellipse cx="157.2" cy="300.4" rx="2.9" ry="1.1" transform="rotate(-50 157.2 300.4)" fill="#600808" opacity="0.45"/>
<ellipse cx="157.8" cy="298.9" rx="0.6" ry="0.4" transform="rotate(72 157.8 298.9)" fill="#f01818" opacity="0.66"/>
<ellipse cx="157.6" cy="300.9" rx="0.7" ry="0.4" transform="rotate(20 157.6 300.9)" fill="#f01818" opacity="0.93"/>
<ellipse cx="156.5" cy="300.9" rx="0.9" ry="0.6" transform="rotate(85 156.5 300.9)" fill="#f01818" opacity="0.78"/>
<ellipse cx="156.8" cy="300.7" rx="1.1" ry="0.7" transform="rotate(13 156.8 300.7)" fill="#f01818" opacity="0.71"/>
<ellipse cx="157.3" cy="300.3" rx="0.5" ry="0.4" transform="rotate(84 157.3 300.3)" fill="#f01818" opacity="0.69"/>
<ellipse cx="217.0" cy="276.1" rx="4.0" ry="1.6" transform="rotate(-58 217.0 276.1)" fill="#600808" opacity="0.45"/>
<ellipse cx="215.0" cy="279.1" rx="1.0" ry="0.8" transform="rotate(90 215.0 279.1)" fill="#f01818" opacity="0.87"/>
<ellipse cx="215.5" cy="277.3" rx="0.7" ry="0.5" transform="rotate(90 215.5 277.3)" fill="#f01818" opacity="0.71"/>
<ellipse cx="216.9" cy="277.5" rx="0.7" ry="0.5" transform="rotate(19 216.9 277.5)" fill="#f01818" opacity="0.85"/>
<ellipse cx="216.9" cy="275.9" rx="0.9" ry="0.8" transform="rotate(48 216.9 275.9)" fill="#f01818" opacity="0.66"/>
<ellipse cx="227.1" cy="305.5" rx="2.7" ry="1.0" transform="rotate(-52 227.1 305.5)" fill="#600808" opacity="0.45"/>
<ellipse cx="225.5" cy="307.9" rx="0.7" ry="0.5" transform="rotate(51 225.5 307.9)" fill="#f01818" opacity="0.80"/>
<ellipse cx="225.2" cy="306.6" rx="1.1" ry="0.9" transform="rotate(141 225.2 306.6)" fill="#f01818" opacity="0.75"/>
<ellipse cx="228.1" cy="303.9" rx="0.8" ry="0.7" transform="rotate(119 228.1 303.9)" fill="#f01818" opacity="0.61"/>
<ellipse cx="225.7" cy="307.1" rx="0.9" ry="0.8" transform="rotate(149 225.7 307.1)" fill="#f01818" opacity="0.86"/>
<ellipse cx="183.1" cy="277.8" rx="3.1" ry="1.2" transform="rotate(-37 183.1 277.8)" fill="#600808" opacity="0.45"/>
<ellipse cx="182.7" cy="277.4" rx="0.7" ry="0.6" transform="rotate(151 182.7 277.4)" fill="#f01818" opacity="0.86"/>
<ellipse cx="183.0" cy="277.6" rx="0.8" ry="0.6" transform="rotate(159 183.0 277.6)" fill="#f01818" opacity="0.78"/>
<ellipse cx="184.7" cy="276.1" rx="0.6" ry="0.4" transform="rotate(13 184.7 276.1)" fill="#f01818" opacity="0.89"/>
<ellipse cx="181.4" cy="278.7" rx="0.7" ry="0.5" transform="rotate(151 181.4 278.7)" fill="#f01818" opacity="0.68"/>
<ellipse cx="185.3" cy="275.6" rx="1.1" ry="0.9" transform="rotate(94 185.3 275.6)" fill="#f01818" opacity="0.97"/>
<ellipse cx="245.4" cy="244.1" rx="4.0" ry="1.6" transform="rotate(-52 245.4 244.1)" fill="#600808" opacity="0.45"/>
<ellipse cx="244.3" cy="245.1" rx="0.7" ry="0.6" transform="rotate(51 244.3 245.1)" fill="#f01818" opacity="0.76"/>
<ellipse cx="245.8" cy="243.2" rx="1.1" ry="0.8" transform="rotate(100 245.8 243.2)" fill="#f01818" opacity="0.98"/>
<ellipse cx="244.7" cy="246.5" rx="1.1" ry="0.8" transform="rotate(145 244.7 246.5)" fill="#f01818" opacity="1.00"/>
<ellipse cx="245.3" cy="243.0" rx="1.0" ry="0.9" transform="rotate(22 245.3 243.0)" fill="#f01818" opacity="0.79"/>
<ellipse cx="245.1" cy="244.3" rx="0.5" ry="0.3" transform="rotate(26 245.1 244.3)" fill="#f01818" opacity="0.82"/>
<ellipse cx="238.8" cy="295.1" rx="2.5" ry="1.0" transform="rotate(-40 238.8 295.1)" fill="#600808" opacity="0.45"/>
<ellipse cx="239.5" cy="294.1" rx="0.6" ry="0.5" transform="rotate(179 239.5 294.1)" fill="#f01818" opacity="0.68"/>
<ellipse cx="238.8" cy="295.6" rx="0.9" ry="0.6" transform="rotate(44 238.8 295.6)" fill="#f01818" opacity="0.87"/>
<ellipse cx="239.9" cy="294.9" rx="1.0" ry="0.6" transform="rotate(55 239.9 294.9)" fill="#f01818" opacity="0.63"/>
<ellipse cx="237.9" cy="296.1" rx="1.0" ry="0.6" transform="rotate(82 237.9 296.1)" fill="#f01818" opacity="0.99"/>
<ellipse cx="181.9" cy="300.0" rx="3.8" ry="1.5" transform="rotate(-41 181.9 300.0)" fill="#600808" opacity="0.45"/>
<ellipse cx="181.7" cy="299.3" rx="0.6" ry="0.4" transform="rotate(39 181.7 299.3)" fill="#f01818" opacity="0.83"/>
<ellipse cx="181.6" cy="301.0" rx="0.5" ry="0.4" transform="rotate(72 181.6 301.0)" fill="#f01818" opacity="0.94"/>
<ellipse cx="180.9" cy="301.2" rx="0.9" ry="0.8" transform="rotate(145 180.9 301.2)" fill="#f01818" opacity="0.60"/>
<ellipse cx="182.6" cy="298.7" rx="0.8" ry="0.6" transform="rotate(142 182.6 298.7)" fill="#f01818" opacity="0.93"/>
<ellipse cx="180.7" cy="300.9" rx="0.6" ry="0.4" transform="rotate(116 180.7 300.9)" fill="#f01818" opacity="0.90"/>
<ellipse cx="180.3" cy="315.5" rx="2.9" ry="1.1" transform="rotate(-48 180.3 315.5)" fill="#600808" opacity="0.45"/>
<ellipse cx="180.4" cy="314.3" rx="1.0" ry="0.8" transform="rotate(125 180.4 314.3)" fill="#f01818" opacity="0.80"/>
<ellipse cx="179.4" cy="316.0" rx="0.9" ry="0.6" transform="rotate(26 179.4 316.0)" fill="#f01818" opacity="0.70"/>
<ellipse cx="180.7" cy="314.5" rx="1.0" ry="0.8" transform="rotate(67 180.7 314.5)" fill="#f01818" opacity="0.87"/>
<ellipse cx="165.0" cy="265.8" rx="3.4" ry="1.3" transform="rotate(-62 165.0 265.8)" fill="#600808" opacity="0.45"/>
<ellipse cx="164.8" cy="264.1" rx="1.0" ry="0.8" transform="rotate(174 164.8 264.1)" fill="#f01818" opacity="0.64"/>
<ellipse cx="166.1" cy="264.1" rx="0.6" ry="0.4" transform="rotate(34 166.1 264.1)" fill="#f01818" opacity="0.61"/>
<ellipse cx="165.0" cy="264.0" rx="1.0" ry="0.8" transform="rotate(18 165.0 264.0)" fill="#f01818" opacity="0.78"/>
<ellipse cx="158.5" cy="271.7" rx="3.1" ry="1.2" transform="rotate(-57 158.5 271.7)" fill="#600808" opacity="0.45"/>
<ellipse cx="160.0" cy="269.3" rx="1.0" ry="0.8" transform="rotate(162 160.0 269.3)" fill="#f01818" opacity="0.67"/>
<ellipse cx="159.6" cy="269.7" rx="0.7" ry="0.6" transform="rotate(124 159.6 269.7)" fill="#f01818" opacity="0.62"/>
<ellipse cx="159.6" cy="270.9" rx="0.9" ry="0.6" transform="rotate(57 159.6 270.9)" fill="#f01818" opacity="0.69"/>
<ellipse cx="157.7" cy="273.5" rx="1.0" ry="0.7" transform="rotate(139 157.7 273.5)" fill="#f01818" opacity="0.96"/>
<ellipse cx="158.5" cy="272.9" rx="0.8" ry="0.6" transform="rotate(56 158.5 272.9)" fill="#f01818" opacity="0.77"/>
<ellipse cx="224.4" cy="300.4" rx="3.4" ry="1.3" transform="rotate(-56 224.4 300.4)" fill="#600808" opacity="0.45"/>
<ellipse cx="222.9" cy="301.4" rx="0.9" ry="0.6" transform="rotate(120 222.9 301.4)" fill="#f01818" opacity="0.61"/>
<ellipse cx="224.8" cy="298.7" rx="0.8" ry="0.5" transform="rotate(142 224.8 298.7)" fill="#f01818" opacity="0.86"/>
<ellipse cx="224.3" cy="301.0" rx="0.9" ry="0.6" transform="rotate(100 224.3 301.0)" fill="#f01818" opacity="0.78"/>
<ellipse cx="225.4" cy="300.2" rx="1.1" ry="0.7" transform="rotate(13 225.4 300.2)" fill="#f01818" opacity="0.65"/>
<ellipse cx="245.9" cy="274.2" rx="3.1" ry="1.2" transform="rotate(-52 245.9 274.2)" fill="#600808" opacity="0.45"/>
<ellipse cx="247.1" cy="273.1" rx="0.5" ry="0.4" transform="rotate(92 247.1 273.1)" fill="#f01818" opacity="0.89"/>
<ellipse cx="245.0" cy="274.7" rx="0.7" ry="0.4" transform="rotate(146 245.0 274.7)" fill="#f01818" opacity="0.71"/>
<ellipse cx="244.8" cy="275.2" rx="0.8" ry="0.6" transform="rotate(69 244.8 275.2)" fill="#f01818" opacity="0.80"/>
<ellipse cx="247.5" cy="273.3" rx="0.8" ry="0.7" transform="rotate(46 247.5 273.3)" fill="#f01818" opacity="0.89"/>
<ellipse cx="244.6" cy="275.5" rx="0.9" ry="0.6" transform="rotate(25 244.6 275.5)" fill="#f01818" opacity="0.67"/>
<ellipse cx="246.2" cy="274.5" rx="0.6" ry="0.5" transform="rotate(160 246.2 274.5)" fill="#f01818" opacity="0.72"/>
<ellipse cx="160.2" cy="282.2" rx="4.0" ry="1.6" transform="rotate(-59 160.2 282.2)" fill="#600808" opacity="0.45"/>
<ellipse cx="158.8" cy="284.0" rx="0.6" ry="0.4" transform="rotate(64 158.8 284.0)" fill="#f01818" opacity="0.65"/>
<ellipse cx="159.3" cy="284.7" rx="0.6" ry="0.4" transform="rotate(133 159.3 284.7)" fill="#f01818" opacity="0.61"/>
<ellipse cx="160.1" cy="282.2" rx="0.7" ry="0.6" transform="rotate(10 160.1 282.2)" fill="#f01818" opacity="0.90"/>
<ellipse cx="158.2" cy="283.7" rx="0.7" ry="0.5" transform="rotate(43 158.2 283.7)" fill="#f01818" opacity="0.67"/>
<ellipse cx="156.3" cy="310.5" rx="3.9" ry="1.5" transform="rotate(-56 156.3 310.5)" fill="#600808" opacity="0.45"/>
<ellipse cx="158.3" cy="308.6" rx="0.6" ry="0.5" transform="rotate(93 158.3 308.6)" fill="#f01818" opacity="0.63"/>
<ellipse cx="154.9" cy="312.0" rx="0.6" ry="0.4" transform="rotate(51 154.9 312.0)" fill="#f01818" opacity="0.85"/>
<ellipse cx="156.9" cy="309.1" rx="0.5" ry="0.4" transform="rotate(114 156.9 309.1)" fill="#f01818" opacity="0.82"/>
<ellipse cx="156.9" cy="310.2" rx="1.0" ry="0.8" transform="rotate(154 156.9 310.2)" fill="#f01818" opacity="0.67"/>
<ellipse cx="155.7" cy="312.0" rx="0.7" ry="0.5" transform="rotate(104 155.7 312.0)" fill="#f01818" opacity="0.89"/>
<ellipse cx="150.2" cy="267.3" rx="2.3" ry="0.9" transform="rotate(-52 150.2 267.3)" fill="#600808" opacity="0.45"/>
<ellipse cx="149.4" cy="267.7" rx="0.8" ry="0.5" transform="rotate(46 149.4 267.7)" fill="#f01818" opacity="0.95"/>
<ellipse cx="151.8" cy="265.9" rx="0.7" ry="0.6" transform="rotate(32 151.8 265.9)" fill="#f01818" opacity="0.85"/>
<ellipse cx="148.9" cy="268.3" rx="0.6" ry="0.5" transform="rotate(124 148.9 268.3)" fill="#f01818" opacity="0.87"/>
<ellipse cx="149.9" cy="268.9" rx="0.7" ry="0.5" transform="rotate(87 149.9 268.9)" fill="#f01818" opacity="0.78"/>
<ellipse cx="210.5" cy="254.3" rx="3.5" ry="1.4" transform="rotate(-61 210.5 254.3)" fill="#600808" opacity="0.45"/>
<ellipse cx="210.4" cy="254.3" rx="0.7" ry="0.7" transform="rotate(137 210.4 254.3)" fill="#f01818" opacity="0.77"/>
<ellipse cx="212.2" cy="252.0" rx="0.9" ry="0.6" transform="rotate(72 212.2 252.0)" fill="#f01818" opacity="0.69"/>
<ellipse cx="210.7" cy="253.7" rx="0.6" ry="0.4" transform="rotate(126 210.7 253.7)" fill="#f01818" opacity="0.63"/>
<ellipse cx="212.4" cy="251.9" rx="0.9" ry="0.7" transform="rotate(153 212.4 251.9)" fill="#f01818" opacity="0.71"/>
<ellipse cx="209.9" cy="255.8" rx="1.0" ry="0.8" transform="rotate(134 209.9 255.8)" fill="#f01818" opacity="0.85"/>
<ellipse cx="208.7" cy="256.3" rx="0.8" ry="0.6" transform="rotate(175 208.7 256.3)" fill="#f01818" opacity="0.72"/>
<ellipse cx="154.8" cy="302.0" rx="2.7" ry="1.1" transform="rotate(-41 154.8 302.0)" fill="#600808" opacity="0.45"/>
<ellipse cx="153.3" cy="303.2" rx="0.9" ry="0.6" transform="rotate(16 153.3 303.2)" fill="#f01818" opacity="0.79"/>
<ellipse cx="155.2" cy="302.0" rx="0.7" ry="0.5" transform="rotate(120 155.2 302.0)" fill="#f01818" opacity="0.72"/>
<ellipse cx="155.5" cy="301.7" rx="1.1" ry="1.0" transform="rotate(2 155.5 301.7)" fill="#f01818" opacity="0.76"/>
<ellipse cx="153.6" cy="303.4" rx="0.9" ry="0.8" transform="rotate(2 153.6 303.4)" fill="#f01818" opacity="0.94"/>
<ellipse cx="246.1" cy="294.2" rx="2.7" ry="1.1" transform="rotate(-37 246.1 294.2)" fill="#600808" opacity="0.45"/>
<ellipse cx="247.9" cy="293.8" rx="0.8" ry="0.6" transform="rotate(3 247.9 293.8)" fill="#f01818" opacity="0.64"/>
<ellipse cx="244.8" cy="295.6" rx="0.6" ry="0.4" transform="rotate(103 244.8 295.6)" fill="#f01818" opacity="0.79"/>
<ellipse cx="245.2" cy="293.8" rx="0.7" ry="0.6" transform="rotate(115 245.2 293.8)" fill="#f01818" opacity="0.91"/>
<ellipse cx="245.5" cy="295.7" rx="0.8" ry="0.7" transform="rotate(86 245.5 295.7)" fill="#f01818" opacity="0.73"/>
<ellipse cx="221.4" cy="255.9" rx="3.5" ry="1.4" transform="rotate(-60 221.4 255.9)" fill="#600808" opacity="0.45"/>
<ellipse cx="222.5" cy="255.8" rx="0.9" ry="0.7" transform="rotate(41 222.5 255.8)" fill="#f01818" opacity="0.91"/>
<ellipse cx="222.3" cy="253.5" rx="0.7" ry="0.5" transform="rotate(118 222.3 253.5)" fill="#f01818" opacity="0.94"/>
<ellipse cx="220.1" cy="258.2" rx="0.7" ry="0.6" transform="rotate(76 220.1 258.2)" fill="#f01818" opacity="0.78"/>
<ellipse cx="222.5" cy="255.8" rx="0.7" ry="0.5" transform="rotate(24 222.5 255.8)" fill="#f01818" opacity="0.71"/>
<ellipse cx="221.7" cy="255.1" rx="0.9" ry="0.8" transform="rotate(56 221.7 255.1)" fill="#f01818" opacity="0.76"/>
<ellipse cx="204.1" cy="321.9" rx="3.4" ry="1.3" transform="rotate(-59 204.1 321.9)" fill="#600808" opacity="0.45"/>
<ellipse cx="205.1" cy="320.9" rx="0.5" ry="0.4" transform="rotate(169 205.1 320.9)" fill="#f01818" opacity="0.80"/>
<ellipse cx="202.5" cy="324.9" rx="0.9" ry="0.6" transform="rotate(106 202.5 324.9)" fill="#f01818" opacity="0.97"/>
<ellipse cx="204.7" cy="320.9" rx="1.0" ry="0.8" transform="rotate(59 204.7 320.9)" fill="#f01818" opacity="0.68"/>
<ellipse cx="204.4" cy="322.1" rx="0.9" ry="0.7" transform="rotate(7 204.4 322.1)" fill="#f01818" opacity="0.66"/>
<ellipse cx="203.0" cy="323.2" rx="0.6" ry="0.5" transform="rotate(120 203.0 323.2)" fill="#f01818" opacity="0.68"/>
<ellipse cx="203.9" cy="321.4" rx="0.8" ry="0.5" transform="rotate(33 203.9 321.4)" fill="#f01818" opacity="0.60"/>
<ellipse cx="155.1" cy="243.7" rx="3.3" ry="1.3" transform="rotate(-45 155.1 243.7)" fill="#600808" opacity="0.45"/>
<ellipse cx="156.6" cy="242.0" rx="0.6" ry="0.5" transform="rotate(174 156.6 242.0)" fill="#f01818" opacity="0.78"/>
<ellipse cx="154.9" cy="243.8" rx="0.7" ry="0.5" transform="rotate(25 154.9 243.8)" fill="#f01818" opacity="0.90"/>
<ellipse cx="152.6" cy="244.9" rx="0.9" ry="0.5" transform="rotate(28 152.6 244.9)" fill="#f01818" opacity="0.84"/>
<ellipse cx="156.9" cy="242.8" rx="1.0" ry="0.8" transform="rotate(99 156.9 242.8)" fill="#f01818" opacity="0.85"/>
<ellipse cx="152.9" cy="245.6" rx="0.8" ry="0.6" transform="rotate(139 152.9 245.6)" fill="#f01818" opacity="0.71"/>
<ellipse cx="155.6" cy="243.4" rx="1.0" ry="0.6" transform="rotate(25 155.6 243.4)" fill="#f01818" opacity="0.86"/>
<ellipse cx="178.7" cy="309.6" rx="3.5" ry="1.3" transform="rotate(-37 178.7 309.6)" fill="#600808" opacity="0.45"/>
<ellipse cx="179.4" cy="309.5" rx="0.9" ry="0.5" transform="rotate(104 179.4 309.5)" fill="#f01818" opacity="0.90"/>
<ellipse cx="178.4" cy="310.0" rx="1.1" ry="0.7" transform="rotate(83 178.4 310.0)" fill="#f01818" opacity="0.86"/>
<ellipse cx="177.6" cy="310.7" rx="0.7" ry="0.6" transform="rotate(162 177.6 310.7)" fill="#f01818" opacity="0.60"/>
<ellipse cx="179.2" cy="309.1" rx="0.7" ry="0.4" transform="rotate(154 179.2 309.1)" fill="#f01818" opacity="1.00"/>
<ellipse cx="152.9" cy="262.6" rx="3.6" ry="1.4" transform="rotate(-63 152.9 262.6)" fill="#600808" opacity="0.45"/>
<ellipse cx="153.7" cy="261.0" rx="0.9" ry="0.7" transform="rotate(105 153.7 261.0)" fill="#f01818" opacity="0.67"/>
<ellipse cx="152.8" cy="261.6" rx="1.0" ry="0.7" transform="rotate(169 152.8 261.6)" fill="#f01818" opacity="0.95"/>
<ellipse cx="153.0" cy="260.9" rx="0.5" ry="0.5" transform="rotate(116 153.0 260.9)" fill="#f01818" opacity="0.73"/>
<ellipse cx="208.3" cy="310.3" rx="3.7" ry="1.4" transform="rotate(-44 208.3 310.3)" fill="#600808" opacity="0.45"/>
<ellipse cx="207.1" cy="310.8" rx="1.1" ry="0.8" transform="rotate(26 207.1 310.8)" fill="#f01818" opacity="0.77"/>
<ellipse cx="209.8" cy="309.2" rx="0.6" ry="0.5" transform="rotate(163 209.8 309.2)" fill="#f01818" opacity="0.63"/>
<ellipse cx="207.9" cy="310.8" rx="0.8" ry="0.6" transform="rotate(124 207.9 310.8)" fill="#f01818" opacity="0.97"/>
<ellipse cx="159.2" cy="259.5" rx="2.6" ry="1.0" transform="rotate(-58 159.2 259.5)" fill="#600808" opacity="0.45"/>
<ellipse cx="160.3" cy="257.9" rx="0.5" ry="0.4" transform="rotate(59 160.3 257.9)" fill="#f01818" opacity="0.96"/>
<ellipse cx="158.6" cy="259.5" rx="1.0" ry="0.8" transform="rotate(132 158.6 259.5)" fill="#f01818" opacity="0.60"/>
<ellipse cx="158.7" cy="260.5" rx="0.7" ry="0.6" transform="rotate(159 158.7 260.5)" fill="#f01818" opacity="0.80"/>
<ellipse cx="157.5" cy="261.5" rx="0.7" ry="0.5" transform="rotate(110 157.5 261.5)" fill="#f01818" opacity="0.76"/>
<ellipse cx="148.1" cy="286.4" rx="2.8" ry="1.1" transform="rotate(-43 148.1 286.4)" fill="#600808" opacity="0.45"/>
<ellipse cx="148.2" cy="286.5" rx="0.6" ry="0.4" transform="rotate(36 148.2 286.5)" fill="#f01818" opacity="0.70"/>
<ellipse cx="147.2" cy="286.8" rx="1.1" ry="0.7" transform="rotate(172 147.2 286.8)" fill="#f01818" opacity="0.69"/>
<ellipse cx="146.4" cy="287.0" rx="1.1" ry="0.7" transform="rotate(90 146.4 287.0)" fill="#f01818" opacity="0.72"/>
<ellipse cx="146.9" cy="287.0" rx="0.6" ry="0.5" transform="rotate(138 146.9 287.0)" fill="#f01818" opacity="0.94"/>
<ellipse cx="156.7" cy="302.1" rx="3.5" ry="1.3" transform="rotate(-45 156.7 302.1)" fill="#600808" opacity="0.45"/>
<ellipse cx="157.4" cy="300.3" rx="0.7" ry="0.5" transform="rotate(78 157.4 300.3)" fill="#f01818" opacity="0.67"/>
<ellipse cx="157.9" cy="300.5" rx="1.0" ry="0.7" transform="rotate(101 157.9 300.5)" fill="#f01818" opacity="0.67"/>
<ellipse cx="156.7" cy="301.6" rx="1.0" ry="0.8" transform="rotate(176 156.7 301.6)" fill="#f01818" opacity="0.73"/>
<ellipse cx="157.2" cy="302.1" rx="0.7" ry="0.6" transform="rotate(154 157.2 302.1)" fill="#f01818" opacity="0.76"/>
<ellipse cx="155.6" cy="302.6" rx="0.8" ry="0.6" transform="rotate(67 155.6 302.6)" fill="#f01818" opacity="0.71"/>
<ellipse cx="156.3" cy="301.8" rx="0.5" ry="0.4" transform="rotate(11 156.3 301.8)" fill="#f01818" opacity="0.70"/>
<ellipse cx="170.0" cy="253.8" rx="3.2" ry="1.2" transform="rotate(-58 170.0 253.8)" fill="#600808" opacity="0.45"/>
<ellipse cx="170.1" cy="255.1" rx="0.6" ry="0.5" transform="rotate(15 170.1 255.1)" fill="#f01818" opacity="0.66"/>
<ellipse cx="169.6" cy="254.2" rx="0.9" ry="0.6" transform="rotate(147 169.6 254.2)" fill="#f01818" opacity="0.84"/>
<ellipse cx="172.0" cy="252.4" rx="0.9" ry="0.8" transform="rotate(77 172.0 252.4)" fill="#f01818" opacity="0.75"/>
<ellipse cx="198.4" cy="311.8" rx="2.9" ry="1.1" transform="rotate(-49 198.4 311.8)" fill="#600808" opacity="0.45"/>
<ellipse cx="198.8" cy="310.8" rx="0.8" ry="0.6" transform="rotate(24 198.8 310.8)" fill="#f01818" opacity="0.78"/>
<ellipse cx="199.4" cy="311.0" rx="0.6" ry="0.4" transform="rotate(137 199.4 311.0)" fill="#f01818" opacity="0.80"/>
<ellipse cx="197.9" cy="312.1" rx="0.8" ry="0.6" transform="rotate(70 197.9 312.1)" fill="#f01818" opacity="0.78"/>
<ellipse cx="198.9" cy="310.7" rx="1.0" ry="0.8" transform="rotate(1 198.9 310.7)" fill="#f01818" opacity="0.67"/>
<ellipse cx="197.6" cy="311.5" rx="0.7" ry="0.5" transform="rotate(25 197.6 311.5)" fill="#f01818" opacity="0.77"/>
<ellipse cx="198.7" cy="311.7" rx="0.8" ry="0.6" transform="rotate(72 198.7 311.7)" fill="#f01818" opacity="0.91"/>
<ellipse cx="230.8" cy="245.3" rx="3.3" ry="1.3" transform="rotate(-43 230.8 245.3)" fill="#600808" opacity="0.45"/>
<ellipse cx="233.4" cy="243.9" rx="0.6" ry="0.4" transform="rotate(121 233.4 243.9)" fill="#f01818" opacity="1.00"/>
<ellipse cx="231.9" cy="243.7" rx="0.6" ry="0.5" transform="rotate(137 231.9 243.7)" fill="#f01818" opacity="0.97"/>
<ellipse cx="232.6" cy="243.7" rx="0.9" ry="0.7" transform="rotate(144 232.6 243.7)" fill="#f01818" opacity="0.68"/>
<ellipse cx="231.1" cy="245.7" rx="0.8" ry="0.7" transform="rotate(42 231.1 245.7)" fill="#f01818" opacity="0.69"/>
<ellipse cx="232.4" cy="242.8" rx="1.1" ry="0.9" transform="rotate(19 232.4 242.8)" fill="#f01818" opacity="0.71"/>
<ellipse cx="170.6" cy="279.2" rx="3.6" ry="1.4" transform="rotate(-36 170.6 279.2)" fill="#600808" opacity="0.45"/>
<ellipse cx="171.2" cy="278.0" rx="1.1" ry="0.9" transform="rotate(109 171.2 278.0)" fill="#f01818" opacity="0.84"/>
<ellipse cx="169.8" cy="279.9" rx="0.5" ry="0.4" transform="rotate(59 169.8 279.9)" fill="#f01818" opacity="0.65"/>
<ellipse cx="168.8" cy="280.2" rx="0.6" ry="0.5" transform="rotate(78 168.8 280.2)" fill="#f01818" opacity="0.69"/>
<ellipse cx="169.4" cy="279.6" rx="0.7" ry="0.5" transform="rotate(21 169.4 279.6)" fill="#f01818" opacity="0.78"/>
<ellipse cx="248.6" cy="256.1" rx="4.0" ry="1.5" transform="rotate(-64 248.6 256.1)" fill="#600808" opacity="0.45"/>
<ellipse cx="247.2" cy="259.4" rx="0.8" ry="0.6" transform="rotate(149 247.2 259.4)" fill="#f01818" opacity="0.65"/>
<ellipse cx="248.6" cy="255.6" rx="0.7" ry="0.4" transform="rotate(157 248.6 255.6)" fill="#f01818" opacity="0.97"/>
<ellipse cx="249.1" cy="253.2" rx="0.9" ry="0.6" transform="rotate(104 249.1 253.2)" fill="#f01818" opacity="0.61"/>
<ellipse cx="249.8" cy="254.2" rx="0.8" ry="0.5" transform="rotate(172 249.8 254.2)" fill="#f01818" opacity="0.91"/>
<ellipse cx="249.0" cy="256.8" rx="1.0" ry="0.8" transform="rotate(7 249.0 256.8)" fill="#f01818" opacity="0.61"/>
<ellipse cx="197.6" cy="288.7" rx="3.4" ry="1.3" transform="rotate(-42 197.6 288.7)" fill="#600808" opacity="0.45"/>
<ellipse cx="199.8" cy="286.4" rx="0.7" ry="0.6" transform="rotate(119 199.8 286.4)" fill="#f01818" opacity="0.92"/>
<ellipse cx="197.6" cy="289.5" rx="0.5" ry="0.4" transform="rotate(9 197.6 289.5)" fill="#f01818" opacity="0.76"/>
<ellipse cx="199.0" cy="287.2" rx="1.1" ry="0.8" transform="rotate(167 199.0 287.2)" fill="#f01818" opacity="0.95"/>
<ellipse cx="194.9" cy="291.3" rx="0.7" ry="0.5" transform="rotate(111 194.9 291.3)" fill="#f01818" opacity="0.92"/>
<ellipse cx="205.7" cy="294.7" rx="2.5" ry="1.0" transform="rotate(-53 205.7 294.7)" fill="#600808" opacity="0.45"/>
<ellipse cx="207.0" cy="293.5" rx="0.9" ry="0.5" transform="rotate(97 207.0 293.5)" fill="#f01818" opacity="0.63"/>
<ellipse cx="205.4" cy="294.6" rx="0.9" ry="0.8" transform="rotate(55 205.4 294.6)" fill="#f01818" opacity="0.98"/>
<ellipse cx="205.4" cy="295.1" rx="0.9" ry="0.7" transform="rotate(42 205.4 295.1)" fill="#f01818" opacity="0.71"/>
<ellipse cx="238.1" cy="298.7" rx="3.7" ry="1.4" transform="rotate(-41 238.1 298.7)" fill="#600808" opacity="0.45"/>
<ellipse cx="239.0" cy="299.1" rx="0.8" ry="0.6" transform="rotate(134 239.0 299.1)" fill="#f01818" opacity="0.74"/>
<ellipse cx="236.7" cy="300.5" rx="0.7" ry="0.4" transform="rotate(42 236.7 300.5)" fill="#f01818" opacity="1.00"/>
<ellipse cx="239.7" cy="296.9" rx="0.7" ry="0.6" transform="rotate(47 239.7 296.9)" fill="#f01818" opacity="0.66"/>
<ellipse cx="235.8" cy="300.1" rx="0.5" ry="0.4" transform="rotate(153 235.8 300.1)" fill="#f01818" opacity="0.64"/>
<ellipse cx="160.6" cy="323.3" rx="2.5" ry="1.0" transform="rotate(-35 160.6 323.3)" fill="#600808" opacity="0.45"/>
<ellipse cx="159.3" cy="323.4" rx="0.8" ry="0.7" transform="rotate(114 159.3 323.4)" fill="#f01818" opacity="0.87"/>
<ellipse cx="159.3" cy="324.3" rx="0.8" ry="0.6" transform="rotate(88 159.3 324.3)" fill="#f01818" opacity="0.74"/>
<ellipse cx="160.2" cy="324.1" rx="0.7" ry="0.5" transform="rotate(81 160.2 324.1)" fill="#f01818" opacity="0.77"/>
<ellipse cx="158.3" cy="324.1" rx="0.6" ry="0.4" transform="rotate(27 158.3 324.1)" fill="#f01818" opacity="0.74"/>
<ellipse cx="161.9" cy="322.8" rx="0.8" ry="0.5" transform="rotate(174 161.9 322.8)" fill="#f01818" opacity="0.74"/>
<ellipse cx="161.5" cy="323.4" rx="0.6" ry="0.4" transform="rotate(116 161.5 323.4)" fill="#f01818" opacity="0.87"/>
<ellipse cx="143.8" cy="305.0" rx="2.9" ry="1.1" transform="rotate(-63 143.8 305.0)" fill="#600808" opacity="0.45"/>
<ellipse cx="142.8" cy="307.9" rx="0.6" ry="0.4" transform="rotate(15 142.8 307.9)" fill="#f01818" opacity="0.74"/>
<ellipse cx="144.5" cy="303.9" rx="0.6" ry="0.4" transform="rotate(11 144.5 303.9)" fill="#f01818" opacity="0.98"/>
<ellipse cx="145.5" cy="303.3" rx="0.7" ry="0.4" transform="rotate(161 145.5 303.3)" fill="#f01818" opacity="0.83"/>
<ellipse cx="168.5" cy="277.8" rx="3.0" ry="1.2" transform="rotate(-38 168.5 277.8)" fill="#600808" opacity="0.45"/>
<ellipse cx="167.9" cy="278.5" rx="0.9" ry="0.7" transform="rotate(116 167.9 278.5)" fill="#f01818" opacity="0.94"/>
<ellipse cx="167.1" cy="279.1" rx="0.5" ry="0.4" transform="rotate(35 167.1 279.1)" fill="#f01818" opacity="0.73"/>
<ellipse cx="171.1" cy="275.4" rx="0.6" ry="0.3" transform="rotate(1 171.1 275.4)" fill="#f01818" opacity="0.97"/>
<ellipse cx="169.2" cy="277.7" rx="1.0" ry="0.8" transform="rotate(179 169.2 277.7)" fill="#f01818" opacity="0.94"/>
<ellipse cx="171.0" cy="275.6" rx="1.0" ry="0.6" transform="rotate(170 171.0 275.6)" fill="#f01818" opacity="0.64"/>
<ellipse cx="169.7" cy="276.9" rx="1.0" ry="0.9" transform="rotate(33 169.7 276.9)" fill="#f01818" opacity="0.69"/>
<ellipse cx="169.7" cy="301.1" rx="3.6" ry="1.4" transform="rotate(-40 169.7 301.1)" fill="#600808" opacity="0.45"/>
<ellipse cx="170.4" cy="300.1" rx="0.6" ry="0.6" transform="rotate(34 170.4 300.1)" fill="#f01818" opacity="0.72"/>
<ellipse cx="168.6" cy="302.6" rx="0.7" ry="0.6" transform="rotate(63 168.6 302.6)" fill="#f01818" opacity="0.64"/>
<ellipse cx="171.5" cy="300.3" rx="0.6" ry="0.4" transform="rotate(152 171.5 300.3)" fill="#f01818" opacity="0.64"/>
<ellipse cx="222.9" cy="255.9" rx="2.5" ry="1.0" transform="rotate(-45 222.9 255.9)" fill="#600808" opacity="0.45"/>
<ellipse cx="222.4" cy="256.4" rx="0.5" ry="0.3" transform="rotate(166 222.4 256.4)" fill="#f01818" opacity="0.64"/>
<ellipse cx="222.3" cy="256.3" rx="0.9" ry="0.6" transform="rotate(63 222.3 256.3)" fill="#f01818" opacity="0.75"/>
<ellipse cx="221.7" cy="256.0" rx="0.7" ry="0.7" transform="rotate(35 221.7 256.0)" fill="#f01818" opacity="0.99"/>
<ellipse cx="217.6" cy="306.3" rx="3.0" ry="1.2" transform="rotate(-37 217.6 306.3)" fill="#600808" opacity="0.45"/>
<ellipse cx="218.4" cy="305.5" rx="0.9" ry="0.7" transform="rotate(153 218.4 305.5)" fill="#f01818" opacity="0.97"/>
<ellipse cx="216.7" cy="306.9" rx="0.6" ry="0.4" transform="rotate(140 216.7 306.9)" fill="#f01818" opacity="0.88"/>
<ellipse cx="218.3" cy="306.2" rx="0.9" ry="0.6" transform="rotate(126 218.3 306.2)" fill="#f01818" opacity="0.89"/>
<ellipse cx="172.1" cy="319.0" rx="3.1" ry="1.2" transform="rotate(-36 172.1 319.0)" fill="#600808" opacity="0.45"/>
<ellipse cx="171.1" cy="319.3" rx="1.0" ry="0.9" transform="rotate(66 171.1 319.3)" fill="#f01818" opacity="0.67"/>
<ellipse cx="170.2" cy="320.5" rx="1.1" ry="0.8" transform="rotate(11 170.2 320.5)" fill="#f01818" opacity="0.71"/>
<ellipse cx="171.9" cy="318.3" rx="1.0" ry="0.8" transform="rotate(141 171.9 318.3)" fill="#f01818" opacity="0.85"/>
<ellipse cx="170.3" cy="319.1" rx="0.6" ry="0.4" transform="rotate(105 170.3 319.1)" fill="#f01818" opacity="0.77"/>
<ellipse cx="172.2" cy="317.8" rx="0.7" ry="0.5" transform="rotate(41 172.2 317.8)" fill="#f01818" opacity="0.63"/>
<ellipse cx="170.6" cy="319.2" rx="0.6" ry="0.5" transform="rotate(26 170.6 319.2)" fill="#f01818" opacity="0.63"/>
<ellipse cx="181.8" cy="246.1" rx="3.2" ry="1.2" transform="rotate(-61 181.8 246.1)" fill="#600808" opacity="0.45"/>
<ellipse cx="181.9" cy="247.2" rx="0.5" ry="0.4" transform="rotate(137 181.9 247.2)" fill="#f01818" opacity="0.68"/>
<ellipse cx="182.7" cy="244.6" rx="0.8" ry="0.5" transform="rotate(56 182.7 244.6)" fill="#f01818" opacity="0.93"/>
<ellipse cx="181.5" cy="246.4" rx="0.7" ry="0.4" transform="rotate(98 181.5 246.4)" fill="#f01818" opacity="0.88"/>
<ellipse cx="182.1" cy="244.5" rx="0.9" ry="0.8" transform="rotate(6 182.1 244.5)" fill="#f01818" opacity="0.81"/>
<ellipse cx="181.7" cy="246.2" rx="0.7" ry="0.6" transform="rotate(43 181.7 246.2)" fill="#f01818" opacity="0.93"/>
<ellipse cx="212.5" cy="303.1" rx="2.5" ry="1.0" transform="rotate(-39 212.5 303.1)" fill="#600808" opacity="0.45"/>
<ellipse cx="212.9" cy="303.2" rx="1.0" ry="0.7" transform="rotate(57 212.9 303.2)" fill="#f01818" opacity="0.61"/>
<ellipse cx="210.6" cy="304.1" rx="1.0" ry="0.8" transform="rotate(91 210.6 304.1)" fill="#f01818" opacity="0.71"/>
<ellipse cx="214.4" cy="301.8" rx="0.8" ry="0.5" transform="rotate(75 214.4 301.8)" fill="#f01818" opacity="0.95"/>
<ellipse cx="213.7" cy="302.4" rx="1.1" ry="1.0" transform="rotate(100 213.7 302.4)" fill="#f01818" opacity="0.89"/>
<ellipse cx="214.8" cy="302.5" rx="0.9" ry="0.6" transform="rotate(87 214.8 302.5)" fill="#f01818" opacity="0.65"/>
</g>
<rect x="141.8" y="243.2" width="109.69999999999999" height="83.10000000000002" fill="none" stroke="#8a8a8a" stroke-width="0.8"/>
<rect x="28" y="326.5" width="225" height="8.5" fill="#000"/>
<text x="132" y="233.29999999999998" font-size="5.8" text-anchor="end" textLength="12.799999999999994" lengthAdjust="spacingAndGlyphs" fill="#fff">50 µm</text>
<line x1="118.9" y1="236.5" x2="129.8" y2="236.5" stroke="#fff" stroke-width="1.3"/>
<text x="246.4" y="233.0" font-size="5.8" text-anchor="end" textLength="13.600000000000005" lengthAdjust="spacingAndGlyphs" fill="#fff">50 µm</text>
<line x1="232.5" y1="236.2" x2="243.8" y2="236.2" stroke="#fff" stroke-width="1.3"/>
<text x="132" y="317.70000000000005" font-size="5.8" text-anchor="end" textLength="12.799999999999994" lengthAdjust="spacingAndGlyphs" fill="#fff">50 µm</text>
<line x1="118.9" y1="320.9" x2="129.8" y2="320.9" stroke="#fff" stroke-width="1.3"/>
<text x="246.4" y="317.40000000000003" font-size="5.8" text-anchor="end" textLength="13.600000000000005" lengthAdjust="spacingAndGlyphs" fill="#fff">50 µm</text>
<line x1="232.5" y1="320.6" x2="243.8" y2="320.6" stroke="#fff" stroke-width="1.3"/>
<text x="52.9" y="334" font-size="7.3" font-weight="bold" textLength="60" lengthAdjust="spacingAndGlyphs"><tspan fill="#b4e030">α-SA</tspan><tspan fill="#fff">/</tspan><tspan fill="#e02020">TEL-Cy3</tspan><tspan fill="#fff">/</tspan><tspan fill="#2030ff">Dapi</tspan></text>
<text x="197.8" y="334" font-size="7.3" text-anchor="middle" font-weight="bold" textLength="27" lengthAdjust="spacingAndGlyphs" fill="#e02020">TEL-Cy3</text>
<text x="21.5" y="195.4" font-size="10.5" text-anchor="middle" textLength="17.2" lengthAdjust="spacingAndGlyphs" transform="rotate(-90 21.5 195.4)" fill="#000">PBS</text>
<text x="21.5" y="283.5" font-size="10.5" text-anchor="middle" textLength="35.5" lengthAdjust="spacingAndGlyphs" transform="rotate(-90 21.5 283.5)" fill="#000">CDC-EV</text>
<rect x="268" y="139" width="19" height="18" fill="#000"/>
<g transform="translate(277.50 151.10) scale(0.85 1)"><text x="0" y="0" font-size="8.6" text-anchor="middle" fill="#fff">D</text></g>
<rect x="302" y="143" width="188" height="194.5" fill="#000"/>
<clipPath id="cp5"><rect x="305.8" y="144.8" width="88.80000000000001" height="88.79999999999998"/></clipPath><g clip-path="url(#cp5)">
<filter id="nf3" x="0" y="0" width="1" height="1" color-interpolation-filters="sRGB"><feTurbulence type="fractalNoise" baseFrequency="0.25" numOctaves="3" seed="21"/><feColorMatrix type="matrix" values="1.25 0 0 0 0.06  0.1 0 0 0 -0.03  1.25 0 0 0 0.08  0 0 0 0 1"/></filter>
<rect x="305.8" y="144.8" width="88.80000000000001" height="88.79999999999998" filter="url(#nf3)"/>
<filter id="nf4" x="0" y="0" width="1" height="1" color-interpolation-filters="sRGB"><feTurbulence type="turbulence" baseFrequency="0.045" numOctaves="2" seed="28"/><feColorMatrix type="matrix" values="0 0 0 0 0.1  0 0 0 0 0  0 0 0 0 0.12  -4.5 0 0 0 0.8"/></filter>
<rect x="305.8" y="144.8" width="88.80000000000001" height="88.79999999999998" filter="url(#nf4)"/>
<ellipse cx="320.4" cy="206.1" rx="1.2" ry="0.7" transform="rotate(39 320.4 206.1)" fill="#2a20f0" opacity="0.94"/>
<ellipse cx="377.5" cy="190.3" rx="1.1" ry="0.6" transform="rotate(1 377.5 190.3)" fill="#2a20f0" opacity="0.81"/>
<ellipse cx="357.8" cy="151.0" rx="1.3" ry="0.6" transform="rotate(42 357.8 151.0)" fill="#2a20f0" opacity="0.71"/>
<ellipse cx="394.4" cy="210.4" rx="1.4" ry="0.8" transform="rotate(6 394.4 210.4)" fill="#2a20f0" opacity="0.80"/>
<ellipse cx="350.0" cy="155.1" rx="1.5" ry="0.7" transform="rotate(28 350.0 155.1)" fill="#2a20f0" opacity="0.95"/>
<ellipse cx="316.9" cy="227.2" rx="1.1" ry="0.8" transform="rotate(62 316.9 227.2)" fill="#2a20f0" opacity="0.85"/>
<ellipse cx="322.4" cy="148.1" rx="1.4" ry="0.6" transform="rotate(140 322.4 148.1)" fill="#2a20f0" opacity="0.76"/>
<ellipse cx="391.8" cy="224.2" rx="1.3" ry="0.9" transform="rotate(105 391.8 224.2)" fill="#2a20f0" opacity="0.92"/>
<ellipse cx="316.7" cy="187.1" rx="1.4" ry="0.6" transform="rotate(166 316.7 187.1)" fill="#2a20f0" opacity="0.97"/>
<ellipse cx="342.2" cy="177.2" rx="1.1" ry="0.7" transform="rotate(179 342.2 177.2)" fill="#2a20f0" opacity="0.82"/>
<ellipse cx="308.2" cy="153.1" rx="1.3" ry="1.0" transform="rotate(89 308.2 153.1)" fill="#2a20f0" opacity="0.85"/>
<ellipse cx="354.7" cy="211.2" rx="0.9" ry="0.8" transform="rotate(100 354.7 211.2)" fill="#2a20f0" opacity="0.89"/>
<ellipse cx="321.8" cy="159.9" rx="1.0" ry="1.0" transform="rotate(62 321.8 159.9)" fill="#2a20f0" opacity="0.88"/>
<ellipse cx="333.0" cy="154.0" rx="0.8" ry="0.9" transform="rotate(140 333.0 154.0)" fill="#2a20f0" opacity="0.81"/>
<ellipse cx="366.5" cy="204.8" rx="1.4" ry="1.0" transform="rotate(73 366.5 204.8)" fill="#2a20f0" opacity="1.00"/>
<ellipse cx="391.2" cy="197.2" rx="1.4" ry="0.7" transform="rotate(68 391.2 197.2)" fill="#2a20f0" opacity="0.77"/>
<ellipse cx="383.6" cy="159.2" rx="0.8" ry="0.9" transform="rotate(139 383.6 159.2)" fill="#2a20f0" opacity="0.84"/>
<ellipse cx="380.1" cy="149.4" rx="0.9" ry="0.6" transform="rotate(76 380.1 149.4)" fill="#2a20f0" opacity="0.75"/>
<ellipse cx="312.0" cy="174.8" rx="1.4" ry="1.0" transform="rotate(134 312.0 174.8)" fill="#2a20f0" opacity="0.84"/>
<ellipse cx="328.2" cy="229.9" rx="1.1" ry="0.9" transform="rotate(5 328.2 229.9)" fill="#2a20f0" opacity="0.76"/>
<ellipse cx="380.2" cy="215.4" rx="1.4" ry="0.8" transform="rotate(77 380.2 215.4)" fill="#2a20f0" opacity="0.87"/>
<ellipse cx="381.2" cy="172.1" rx="1.1" ry="0.6" transform="rotate(138 381.2 172.1)" fill="#2a20f0" opacity="0.70"/>
<ellipse cx="366.7" cy="229.5" rx="0.7" ry="0.8" transform="rotate(116 366.7 229.5)" fill="#2a20f0" opacity="0.96"/>
<ellipse cx="357.7" cy="167.6" rx="1.0" ry="1.0" transform="rotate(163 357.7 167.6)" fill="#2a20f0" opacity="0.74"/>
<ellipse cx="314.2" cy="153.1" rx="0.7" ry="0.7" transform="rotate(25 314.2 153.1)" fill="#2a20f0" opacity="0.96"/>
<ellipse cx="364.0" cy="156.0" rx="1.1" ry="0.7" transform="rotate(89 364.0 156.0)" fill="#2a20f0" opacity="0.77"/>
<ellipse cx="320.5" cy="161.1" rx="1.0" ry="0.9" transform="rotate(99 320.5 161.1)" fill="#2a20f0" opacity="0.71"/>
<ellipse cx="368.9" cy="222.4" rx="1.3" ry="0.9" transform="rotate(1 368.9 222.4)" fill="#2a20f0" opacity="0.84"/>
<ellipse cx="311.4" cy="212.6" rx="0.8" ry="0.9" transform="rotate(46 311.4 212.6)" fill="#2a20f0" opacity="0.91"/>
<ellipse cx="333.6" cy="148.5" rx="1.0" ry="0.7" transform="rotate(162 333.6 148.5)" fill="#2a20f0" opacity="0.79"/>
<ellipse cx="350.5" cy="193.6" rx="1.5" ry="0.5" transform="rotate(108 350.5 193.6)" fill="#2a20f0" opacity="0.85"/>
<ellipse cx="371.0" cy="230.7" rx="0.9" ry="0.8" transform="rotate(95 371.0 230.7)" fill="#2a20f0" opacity="0.87"/>
<ellipse cx="311.5" cy="217.1" rx="1.5" ry="0.7" transform="rotate(57 311.5 217.1)" fill="#2a20f0" opacity="1.00"/>
<ellipse cx="315.4" cy="151.6" rx="0.8" ry="0.9" transform="rotate(137 315.4 151.6)" fill="#2a20f0" opacity="0.83"/>
<ellipse cx="361.0" cy="146.6" rx="1.2" ry="0.7" transform="rotate(93 361.0 146.6)" fill="#2a20f0" opacity="0.82"/>
<ellipse cx="341.5" cy="164.8" rx="0.7" ry="0.7" transform="rotate(44 341.5 164.8)" fill="#2a20f0" opacity="0.91"/>
<ellipse cx="378.4" cy="209.1" rx="1.1" ry="0.6" transform="rotate(69 378.4 209.1)" fill="#2a20f0" opacity="0.85"/>
<ellipse cx="361.9" cy="230.3" rx="0.8" ry="0.7" transform="rotate(89 361.9 230.3)" fill="#2a20f0" opacity="0.92"/>
<ellipse cx="384.9" cy="214.0" rx="1.2" ry="0.9" transform="rotate(120 384.9 214.0)" fill="#2a20f0" opacity="0.96"/>
<ellipse cx="367.9" cy="205.4" rx="0.9" ry="1.0" transform="rotate(69 367.9 205.4)" fill="#2a20f0" opacity="0.88"/>
<ellipse cx="379.0" cy="230.4" rx="1.5" ry="0.5" transform="rotate(56 379.0 230.4)" fill="#2a20f0" opacity="0.79"/>
<ellipse cx="340.5" cy="157.7" rx="1.1" ry="0.5" transform="rotate(54 340.5 157.7)" fill="#2a20f0" opacity="0.98"/>
<ellipse cx="371.7" cy="185.9" rx="0.8" ry="1.0" transform="rotate(127 371.7 185.9)" fill="#2a20f0" opacity="0.76"/>
<ellipse cx="335.6" cy="201.8" rx="1.2" ry="0.6" transform="rotate(171 335.6 201.8)" fill="#2a20f0" opacity="0.80"/>
<ellipse cx="328.4" cy="219.9" rx="0.8" ry="0.8" transform="rotate(36 328.4 219.9)" fill="#2a20f0" opacity="0.88"/>
<ellipse cx="330.4" cy="178.5" rx="1.5" ry="0.7" transform="rotate(79 330.4 178.5)" fill="#2a20f0" opacity="0.89"/>
<ellipse cx="330.7" cy="160.3" rx="1.0" ry="0.6" transform="rotate(34 330.7 160.3)" fill="#2a20f0" opacity="0.99"/>
<ellipse cx="308.9" cy="216.8" rx="1.4" ry="0.9" transform="rotate(3 308.9 216.8)" fill="#2a20f0" opacity="0.85"/>
<ellipse cx="309.3" cy="198.8" rx="1.3" ry="0.6" transform="rotate(1 309.3 198.8)" fill="#2a20f0" opacity="0.86"/>
<ellipse cx="314.2" cy="172.2" rx="1.1" ry="0.9" transform="rotate(67 314.2 172.2)" fill="#2a20f0" opacity="0.74"/>
<ellipse cx="376.1" cy="217.8" rx="1.1" ry="0.5" transform="rotate(34 376.1 217.8)" fill="#2a20f0" opacity="0.82"/>
<ellipse cx="354.8" cy="164.8" rx="1.3" ry="0.9" transform="rotate(167 354.8 164.8)" fill="#2a20f0" opacity="0.97"/>
<ellipse cx="307.4" cy="196.5" rx="0.8" ry="0.9" transform="rotate(134 307.4 196.5)" fill="#2a20f0" opacity="0.93"/>
<ellipse cx="322.5" cy="150.1" rx="1.4" ry="0.8" transform="rotate(112 322.5 150.1)" fill="#2a20f0" opacity="0.84"/>
<ellipse cx="376.9" cy="174.8" rx="0.9" ry="0.7" transform="rotate(54 376.9 174.8)" fill="#2a20f0" opacity="0.89"/>
<ellipse cx="384.8" cy="151.1" rx="0.8" ry="0.8" transform="rotate(122 384.8 151.1)" fill="#2a20f0" opacity="0.76"/>
<ellipse cx="329.8" cy="150.0" rx="0.7" ry="0.7" transform="rotate(123 329.8 150.0)" fill="#2a20f0" opacity="0.90"/>
<ellipse cx="319.8" cy="154.0" rx="1.4" ry="0.8" transform="rotate(74 319.8 154.0)" fill="#2a20f0" opacity="0.91"/>
<ellipse cx="370.4" cy="191.4" rx="0.8" ry="0.9" transform="rotate(38 370.4 191.4)" fill="#2a20f0" opacity="0.71"/>
<ellipse cx="337.1" cy="192.1" rx="1.2" ry="0.6" transform="rotate(128 337.1 192.1)" fill="#2a20f0" opacity="0.85"/>
<ellipse cx="320.2" cy="220.4" rx="0.6" ry="0.6" transform="rotate(0 320.2 220.4)" fill="#f4f4f4" opacity="0.90"/>
<ellipse cx="377.4" cy="225.3" rx="0.6" ry="0.6" transform="rotate(0 377.4 225.3)" fill="#f4f4f4" opacity="0.90"/>
<ellipse cx="366.1" cy="164.1" rx="0.6" ry="0.6" transform="rotate(0 366.1 164.1)" fill="#f4f4f4" opacity="0.90"/>
<ellipse cx="374.9" cy="225.0" rx="0.6" ry="0.6" transform="rotate(0 374.9 225.0)" fill="#f4f4f4" opacity="0.90"/>
<ellipse cx="353.2" cy="225.5" rx="0.6" ry="0.6" transform="rotate(0 353.2 225.5)" fill="#f4f4f4" opacity="0.90"/>
<ellipse cx="392.0" cy="179.4" rx="0.6" ry="0.6" transform="rotate(0 392.0 179.4)" fill="#f4f4f4" opacity="0.90"/>
<ellipse cx="389.4" cy="228.0" rx="0.6" ry="0.6" transform="rotate(0 389.4 228.0)" fill="#f4f4f4" opacity="0.90"/>
<ellipse cx="376.3" cy="145.8" rx="0.6" ry="0.6" transform="rotate(0 376.3 145.8)" fill="#f4f4f4" opacity="0.90"/>
<ellipse cx="337.1" cy="199.3" rx="0.6" ry="0.6" transform="rotate(0 337.1 199.3)" fill="#f4f4f4" opacity="0.90"/>
<ellipse cx="359.7" cy="211.9" rx="0.6" ry="0.6" transform="rotate(0 359.7 211.9)" fill="#f4f4f4" opacity="0.90"/>
<ellipse cx="363.2" cy="159.1" rx="0.6" ry="0.6" transform="rotate(0 363.2 159.1)" fill="#f4f4f4" opacity="0.90"/>
<ellipse cx="388.5" cy="192.4" rx="0.6" ry="0.6" transform="rotate(0 388.5 192.4)" fill="#f4f4f4" opacity="0.90"/>
<ellipse cx="384.1" cy="163.2" rx="0.6" ry="0.6" transform="rotate(0 384.1 163.2)" fill="#f4f4f4" opacity="0.90"/>
<ellipse cx="394.4" cy="194.1" rx="0.6" ry="0.6" transform="rotate(0 394.4 194.1)" fill="#f4f4f4" opacity="0.90"/>
<ellipse cx="374.7" cy="210.5" rx="0.6" ry="0.6" transform="rotate(0 374.7 210.5)" fill="#f4f4f4" opacity="0.90"/>
<ellipse cx="384.2" cy="177.0" rx="0.6" ry="0.6" transform="rotate(0 384.2 177.0)" fill="#f4f4f4" opacity="0.90"/>
</g>
<rect x="305.8" y="144.8" width="88.80000000000001" height="88.79999999999998" fill="none" stroke="#8a8a8a" stroke-width="0.6"/>
<clipPath id="cp6"><rect x="397.2" y="144.8" width="89.80000000000001" height="88.79999999999998"/></clipPath><g clip-path="url(#cp6)">
<rect x="397.2" y="144.8" width="89.80000000000001" height="88.79999999999998" fill="#000"/>
<ellipse cx="483.2" cy="157.3" rx="0.6" ry="1.0" transform="rotate(33 483.2 157.3)" fill="#605a18" opacity="0.35"/>
<ellipse cx="455.7" cy="175.5" rx="1.4" ry="0.5" transform="rotate(173 455.7 175.5)" fill="#605a18" opacity="0.43"/>
<ellipse cx="451.2" cy="227.6" rx="1.2" ry="1.0" transform="rotate(127 451.2 227.6)" fill="#605a18" opacity="0.32"/>
<ellipse cx="476.3" cy="197.2" rx="0.9" ry="0.5" transform="rotate(153 476.3 197.2)" fill="#605a18" opacity="0.53"/>
<ellipse cx="481.4" cy="213.5" rx="1.5" ry="0.7" transform="rotate(126 481.4 213.5)" fill="#605a18" opacity="0.54"/>
<ellipse cx="420.4" cy="229.8" rx="0.9" ry="0.9" transform="rotate(172 420.4 229.8)" fill="#605a18" opacity="0.56"/>
<ellipse cx="410.0" cy="218.1" rx="1.2" ry="0.5" transform="rotate(9 410.0 218.1)" fill="#605a18" opacity="0.51"/>
<ellipse cx="400.1" cy="226.9" rx="1.1" ry="0.7" transform="rotate(74 400.1 226.9)" fill="#605a18" opacity="0.56"/>
<ellipse cx="479.5" cy="172.1" rx="0.9" ry="0.7" transform="rotate(54 479.5 172.1)" fill="#605a18" opacity="0.54"/>
<ellipse cx="446.0" cy="183.3" rx="1.2" ry="0.7" transform="rotate(16 446.0 183.3)" fill="#605a18" opacity="0.70"/>
<ellipse cx="429.1" cy="183.1" rx="1.0" ry="1.0" transform="rotate(171 429.1 183.1)" fill="#605a18" opacity="0.50"/>
<ellipse cx="433.2" cy="153.4" rx="1.4" ry="0.5" transform="rotate(98 433.2 153.4)" fill="#605a18" opacity="0.44"/>
<ellipse cx="426.7" cy="176.5" rx="0.8" ry="0.4" transform="rotate(96 426.7 176.5)" fill="#605a18" opacity="0.62"/>
<ellipse cx="455.3" cy="162.7" rx="1.2" ry="0.4" transform="rotate(74 455.3 162.7)" fill="#605a18" opacity="0.63"/>
<ellipse cx="479.9" cy="185.7" rx="1.4" ry="0.7" transform="rotate(94 479.9 185.7)" fill="#605a18" opacity="0.53"/>
<ellipse cx="486.2" cy="210.8" rx="1.0" ry="0.8" transform="rotate(116 486.2 210.8)" fill="#605a18" opacity="0.44"/>
<ellipse cx="467.6" cy="217.6" rx="1.1" ry="1.0" transform="rotate(3 467.6 217.6)" fill="#605a18" opacity="0.50"/>
<ellipse cx="454.2" cy="175.0" rx="0.8" ry="0.8" transform="rotate(78 454.2 175.0)" fill="#605a18" opacity="0.41"/>
<ellipse cx="401.0" cy="230.7" rx="0.9" ry="0.5" transform="rotate(39 401.0 230.7)" fill="#605a18" opacity="0.40"/>
<ellipse cx="475.0" cy="160.8" rx="0.8" ry="0.5" transform="rotate(85 475.0 160.8)" fill="#605a18" opacity="0.38"/>
<ellipse cx="463.2" cy="226.9" rx="0.7" ry="0.6" transform="rotate(7 463.2 226.9)" fill="#ffff48" opacity="0.81"/>
<ellipse cx="400.2" cy="162.8" rx="1.0" ry="0.7" transform="rotate(69 400.2 162.8)" fill="#ffff48" opacity="0.93"/>
<ellipse cx="438.9" cy="166.9" rx="0.9" ry="0.6" transform="rotate(48 438.9 166.9)" fill="#ffff48" opacity="0.72"/>
<ellipse cx="411.4" cy="223.8" rx="0.9" ry="0.7" transform="rotate(10 411.4 223.8)" fill="#ffff48" opacity="0.85"/>
<ellipse cx="401.0" cy="188.0" rx="0.9" ry="0.5" transform="rotate(138 401.0 188.0)" fill="#ffff48" opacity="0.70"/>
<ellipse cx="485.7" cy="220.0" rx="0.9" ry="0.5" transform="rotate(96 485.7 220.0)" fill="#ffff48" opacity="0.74"/>
<ellipse cx="474.8" cy="217.4" rx="0.7" ry="0.4" transform="rotate(68 474.8 217.4)" fill="#ffff48" opacity="0.89"/>
<ellipse cx="469.3" cy="224.1" rx="0.6" ry="0.5" transform="rotate(65 469.3 224.1)" fill="#ffff48" opacity="0.95"/>
<ellipse cx="414.1" cy="169.5" rx="0.8" ry="0.5" transform="rotate(151 414.1 169.5)" fill="#ffff48" opacity="0.85"/>
<ellipse cx="470.6" cy="231.3" rx="0.9" ry="0.5" transform="rotate(73 470.6 231.3)" fill="#ffff48" opacity="0.96"/>
<ellipse cx="431.9" cy="203.0" rx="1.0" ry="0.6" transform="rotate(29 431.9 203.0)" fill="#ffff48" opacity="0.72"/>
<ellipse cx="418.4" cy="190.8" rx="0.8" ry="0.7" transform="rotate(28 418.4 190.8)" fill="#ffff48" opacity="0.87"/>
<ellipse cx="450.9" cy="191.6" rx="1.0" ry="0.8" transform="rotate(4 450.9 191.6)" fill="#ffff48" opacity="0.98"/>
<ellipse cx="469.6" cy="218.1" rx="0.9" ry="0.5" transform="rotate(12 469.6 218.1)" fill="#ffff48" opacity="0.75"/>
<ellipse cx="481.5" cy="225.5" rx="0.8" ry="0.6" transform="rotate(112 481.5 225.5)" fill="#ffff48" opacity="0.92"/>
<ellipse cx="484.4" cy="228.4" rx="0.7" ry="0.6" transform="rotate(162 484.4 228.4)" fill="#ffff48" opacity="0.94"/>
<ellipse cx="426.1" cy="169.8" rx="0.9" ry="0.5" transform="rotate(10 426.1 169.8)" fill="#ffff48" opacity="0.98"/>
<ellipse cx="399.3" cy="172.9" rx="0.7" ry="0.4" transform="rotate(80 399.3 172.9)" fill="#ffff48" opacity="0.80"/>
<ellipse cx="440.0" cy="181.6" rx="0.6" ry="0.4" transform="rotate(146 440.0 181.6)" fill="#ffff48" opacity="0.79"/>
<ellipse cx="476.0" cy="230.0" rx="0.8" ry="0.6" transform="rotate(7 476.0 230.0)" fill="#ffff48" opacity="0.99"/>
<ellipse cx="416.7" cy="156.2" rx="0.8" ry="0.5" transform="rotate(56 416.7 156.2)" fill="#ffff48" opacity="0.74"/>
<ellipse cx="486.5" cy="217.6" rx="0.6" ry="0.3" transform="rotate(87 486.5 217.6)" fill="#ffff48" opacity="0.94"/>
<ellipse cx="403.4" cy="175.0" rx="0.8" ry="0.5" transform="rotate(165 403.4 175.0)" fill="#ffff48" opacity="0.87"/>
<ellipse cx="453.8" cy="149.1" rx="0.8" ry="0.6" transform="rotate(145 453.8 149.1)" fill="#ffff48" opacity="0.90"/>
<ellipse cx="422.9" cy="145.7" rx="0.7" ry="0.4" transform="rotate(28 422.9 145.7)" fill="#ffff48" opacity="0.84"/>
<ellipse cx="416.7" cy="186.7" rx="1.0" ry="0.7" transform="rotate(113 416.7 186.7)" fill="#ffff48" opacity="0.71"/>
<ellipse cx="449.8" cy="171.7" rx="1.1" ry="0.6" transform="rotate(124 449.8 171.7)" fill="#ffff48" opacity="0.98"/>
<ellipse cx="432.9" cy="194.3" rx="0.7" ry="0.4" transform="rotate(73 432.9 194.3)" fill="#ffff48" opacity="0.98"/>
<ellipse cx="471.1" cy="168.1" rx="0.9" ry="0.7" transform="rotate(141 471.1 168.1)" fill="#ffff48" opacity="0.77"/>
<ellipse cx="458.4" cy="195.7" rx="0.8" ry="0.6" transform="rotate(43 458.4 195.7)" fill="#ffff48" opacity="0.87"/>
<ellipse cx="468.9" cy="177.9" rx="0.7" ry="0.7" transform="rotate(104 468.9 177.9)" fill="#ffff48" opacity="0.77"/>
<ellipse cx="408.7" cy="210.2" rx="0.8" ry="0.4" transform="rotate(109 408.7 210.2)" fill="#ffff48" opacity="0.79"/>
<ellipse cx="408.6" cy="205.2" rx="1.0" ry="0.8" transform="rotate(42 408.6 205.2)" fill="#ffff48" opacity="0.74"/>
<ellipse cx="455.5" cy="168.0" rx="0.8" ry="0.4" transform="rotate(79 455.5 168.0)" fill="#ffff48" opacity="0.94"/>
<ellipse cx="481.7" cy="189.9" rx="0.6" ry="0.4" transform="rotate(18 481.7 189.9)" fill="#ffff48" opacity="0.81"/>
<ellipse cx="413.0" cy="152.3" rx="0.8" ry="0.6" transform="rotate(46 413.0 152.3)" fill="#ffff48" opacity="0.83"/>
<ellipse cx="459.8" cy="196.1" rx="0.8" ry="0.5" transform="rotate(32 459.8 196.1)" fill="#ffff48" opacity="0.96"/>
<ellipse cx="408.3" cy="151.0" rx="0.6" ry="0.5" transform="rotate(97 408.3 151.0)" fill="#ffff48" opacity="0.98"/>
</g>
<rect x="397.2" y="144.8" width="89.80000000000001" height="88.79999999999998" fill="none" stroke="#8a8a8a" stroke-width="0.8"/>
<clipPath id="cp7"><rect x="305.8" y="237.4" width="88.80000000000001" height="88.9"/></clipPath><g clip-path="url(#cp7)">
<filter id="nf5" x="0" y="0" width="1" height="1" color-interpolation-filters="sRGB"><feTurbulence type="fractalNoise" baseFrequency="0.25" numOctaves="3" seed="23"/><feColorMatrix type="matrix" values="1.25 0 0 0 0.06  0.1 0 0 0 -0.03  1.25 0 0 0 0.08  0 0 0 0 1"/></filter>
<rect x="305.8" y="237.4" width="88.80000000000001" height="88.9" filter="url(#nf5)"/>
<filter id="nf6" x="0" y="0" width="1" height="1" color-interpolation-filters="sRGB"><feTurbulence type="turbulence" baseFrequency="0.045" numOctaves="2" seed="30"/><feColorMatrix type="matrix" values="0 0 0 0 0.1  0 0 0 0 0  0 0 0 0 0.12  -4.5 0 0 0 0.8"/></filter>
<rect x="305.8" y="237.4" width="88.80000000000001" height="88.9" filter="url(#nf6)"/>
<ellipse cx="387.9" cy="321.7" rx="1.4" ry="0.5" transform="rotate(107 387.9 321.7)" fill="#2a20f0" opacity="0.83"/>
<ellipse cx="352.9" cy="249.0" rx="0.9" ry="0.7" transform="rotate(40 352.9 249.0)" fill="#2a20f0" opacity="0.84"/>
<ellipse cx="308.0" cy="245.0" rx="1.3" ry="0.7" transform="rotate(92 308.0 245.0)" fill="#2a20f0" opacity="0.92"/>
<ellipse cx="337.7" cy="242.5" rx="1.3" ry="0.8" transform="rotate(118 337.7 242.5)" fill="#2a20f0" opacity="0.89"/>
<ellipse cx="392.0" cy="269.7" rx="1.3" ry="0.7" transform="rotate(103 392.0 269.7)" fill="#2a20f0" opacity="0.90"/>
<ellipse cx="333.7" cy="245.0" rx="1.1" ry="0.9" transform="rotate(106 333.7 245.0)" fill="#2a20f0" opacity="0.83"/>
<ellipse cx="362.8" cy="253.6" rx="0.8" ry="0.7" transform="rotate(147 362.8 253.6)" fill="#2a20f0" opacity="0.76"/>
<ellipse cx="315.9" cy="246.2" rx="0.7" ry="0.6" transform="rotate(103 315.9 246.2)" fill="#2a20f0" opacity="0.95"/>
<ellipse cx="335.2" cy="270.3" rx="0.9" ry="0.7" transform="rotate(140 335.2 270.3)" fill="#2a20f0" opacity="0.86"/>
<ellipse cx="328.7" cy="246.9" rx="1.3" ry="0.9" transform="rotate(149 328.7 246.9)" fill="#2a20f0" opacity="0.77"/>
<ellipse cx="354.2" cy="319.1" rx="1.2" ry="1.0" transform="rotate(30 354.2 319.1)" fill="#2a20f0" opacity="0.99"/>
<ellipse cx="310.8" cy="274.4" rx="0.7" ry="0.9" transform="rotate(124 310.8 274.4)" fill="#2a20f0" opacity="0.99"/>
<ellipse cx="377.3" cy="321.8" rx="1.1" ry="1.0" transform="rotate(135 377.3 321.8)" fill="#2a20f0" opacity="0.80"/>
<ellipse cx="392.3" cy="270.9" rx="0.9" ry="0.5" transform="rotate(84 392.3 270.9)" fill="#2a20f0" opacity="0.76"/>
<ellipse cx="388.7" cy="321.9" rx="0.9" ry="0.6" transform="rotate(95 388.7 321.9)" fill="#2a20f0" opacity="0.75"/>
<ellipse cx="354.1" cy="309.7" rx="0.9" ry="0.7" transform="rotate(162 354.1 309.7)" fill="#2a20f0" opacity="0.83"/>
<ellipse cx="336.2" cy="316.7" rx="1.4" ry="0.9" transform="rotate(124 336.2 316.7)" fill="#2a20f0" opacity="0.82"/>
<ellipse cx="367.3" cy="311.2" rx="1.2" ry="0.6" transform="rotate(53 367.3 311.2)" fill="#2a20f0" opacity="0.82"/>
<ellipse cx="374.3" cy="286.9" rx="1.1" ry="0.9" transform="rotate(20 374.3 286.9)" fill="#2a20f0" opacity="0.89"/>
<ellipse cx="335.3" cy="287.1" rx="1.4" ry="0.6" transform="rotate(171 335.3 287.1)" fill="#2a20f0" opacity="0.72"/>
<ellipse cx="355.7" cy="285.6" rx="0.9" ry="0.8" transform="rotate(85 355.7 285.6)" fill="#2a20f0" opacity="0.83"/>
<ellipse cx="369.6" cy="237.8" rx="1.0" ry="0.9" transform="rotate(26 369.6 237.8)" fill="#2a20f0" opacity="0.96"/>
<ellipse cx="323.9" cy="298.0" rx="0.8" ry="0.7" transform="rotate(76 323.9 298.0)" fill="#2a20f0" opacity="0.72"/>
<ellipse cx="367.9" cy="280.1" rx="1.3" ry="0.8" transform="rotate(100 367.9 280.1)" fill="#2a20f0" opacity="0.86"/>
<ellipse cx="332.2" cy="317.3" rx="0.8" ry="0.9" transform="rotate(155 332.2 317.3)" fill="#2a20f0" opacity="0.85"/>
<ellipse cx="374.8" cy="297.3" rx="1.2" ry="0.6" transform="rotate(58 374.8 297.3)" fill="#2a20f0" opacity="0.80"/>
<ellipse cx="332.6" cy="322.7" rx="1.0" ry="0.7" transform="rotate(76 332.6 322.7)" fill="#2a20f0" opacity="0.94"/>
<ellipse cx="348.2" cy="286.6" rx="0.9" ry="0.6" transform="rotate(16 348.2 286.6)" fill="#2a20f0" opacity="0.77"/>
<ellipse cx="329.2" cy="313.2" rx="1.1" ry="0.6" transform="rotate(83 329.2 313.2)" fill="#2a20f0" opacity="0.74"/>
<ellipse cx="356.1" cy="276.7" rx="1.4" ry="0.6" transform="rotate(153 356.1 276.7)" fill="#2a20f0" opacity="0.77"/>
<ellipse cx="393.1" cy="293.8" rx="0.7" ry="0.9" transform="rotate(50 393.1 293.8)" fill="#2a20f0" opacity="0.81"/>
<ellipse cx="318.8" cy="311.8" rx="0.8" ry="0.9" transform="rotate(71 318.8 311.8)" fill="#2a20f0" opacity="0.90"/>
<ellipse cx="331.8" cy="244.4" rx="1.4" ry="0.8" transform="rotate(31 331.8 244.4)" fill="#2a20f0" opacity="0.99"/>
<ellipse cx="386.8" cy="253.6" rx="0.7" ry="0.8" transform="rotate(25 386.8 253.6)" fill="#2a20f0" opacity="0.92"/>
<ellipse cx="347.4" cy="300.4" rx="1.2" ry="0.9" transform="rotate(148 347.4 300.4)" fill="#2a20f0" opacity="0.88"/>
<ellipse cx="358.3" cy="266.5" rx="0.8" ry="0.5" transform="rotate(154 358.3 266.5)" fill="#2a20f0" opacity="0.76"/>
<ellipse cx="343.7" cy="265.6" rx="1.2" ry="0.8" transform="rotate(155 343.7 265.6)" fill="#2a20f0" opacity="0.83"/>
<ellipse cx="337.9" cy="295.3" rx="1.3" ry="1.0" transform="rotate(56 337.9 295.3)" fill="#2a20f0" opacity="0.97"/>
<ellipse cx="393.0" cy="324.7" rx="0.8" ry="0.7" transform="rotate(139 393.0 324.7)" fill="#2a20f0" opacity="0.95"/>
<ellipse cx="309.3" cy="272.5" rx="1.3" ry="0.9" transform="rotate(96 309.3 272.5)" fill="#2a20f0" opacity="0.76"/>
<ellipse cx="341.9" cy="242.6" rx="1.0" ry="0.7" transform="rotate(148 341.9 242.6)" fill="#2a20f0" opacity="0.88"/>
<ellipse cx="342.6" cy="259.3" rx="1.0" ry="0.8" transform="rotate(80 342.6 259.3)" fill="#2a20f0" opacity="0.75"/>
<ellipse cx="378.8" cy="288.6" rx="1.5" ry="0.8" transform="rotate(112 378.8 288.6)" fill="#2a20f0" opacity="0.83"/>
<ellipse cx="359.8" cy="319.1" rx="1.5" ry="0.8" transform="rotate(77 359.8 319.1)" fill="#2a20f0" opacity="0.72"/>
<ellipse cx="380.4" cy="272.2" rx="1.0" ry="0.5" transform="rotate(6 380.4 272.2)" fill="#2a20f0" opacity="0.82"/>
<ellipse cx="392.4" cy="303.2" rx="1.3" ry="0.8" transform="rotate(49 392.4 303.2)" fill="#2a20f0" opacity="0.75"/>
<ellipse cx="359.3" cy="243.1" rx="1.2" ry="0.8" transform="rotate(98 359.3 243.1)" fill="#2a20f0" opacity="0.74"/>
<ellipse cx="311.8" cy="279.5" rx="0.8" ry="0.8" transform="rotate(56 311.8 279.5)" fill="#2a20f0" opacity="0.89"/>
<ellipse cx="372.4" cy="291.3" rx="1.1" ry="0.6" transform="rotate(62 372.4 291.3)" fill="#2a20f0" opacity="0.99"/>
<ellipse cx="329.6" cy="262.7" rx="1.1" ry="0.8" transform="rotate(142 329.6 262.7)" fill="#2a20f0" opacity="0.79"/>
<ellipse cx="391.3" cy="239.4" rx="1.3" ry="0.8" transform="rotate(162 391.3 239.4)" fill="#2a20f0" opacity="0.75"/>
<ellipse cx="367.0" cy="321.6" rx="1.2" ry="0.6" transform="rotate(166 367.0 321.6)" fill="#2a20f0" opacity="0.99"/>
<ellipse cx="315.6" cy="310.9" rx="0.8" ry="0.5" transform="rotate(143 315.6 310.9)" fill="#2a20f0" opacity="0.92"/>
<ellipse cx="390.8" cy="293.6" rx="1.1" ry="0.6" transform="rotate(103 390.8 293.6)" fill="#2a20f0" opacity="1.00"/>
<ellipse cx="363.2" cy="315.2" rx="0.9" ry="0.9" transform="rotate(132 363.2 315.2)" fill="#2a20f0" opacity="0.72"/>
<ellipse cx="378.6" cy="253.1" rx="0.9" ry="0.5" transform="rotate(119 378.6 253.1)" fill="#2a20f0" opacity="0.74"/>
<ellipse cx="392.4" cy="237.4" rx="1.3" ry="0.9" transform="rotate(102 392.4 237.4)" fill="#2a20f0" opacity="0.87"/>
<ellipse cx="376.7" cy="294.0" rx="0.8" ry="0.9" transform="rotate(64 376.7 294.0)" fill="#2a20f0" opacity="0.88"/>
<ellipse cx="351.3" cy="317.8" rx="1.0" ry="0.9" transform="rotate(15 351.3 317.8)" fill="#2a20f0" opacity="0.80"/>
<ellipse cx="365.3" cy="291.8" rx="1.4" ry="0.6" transform="rotate(145 365.3 291.8)" fill="#2a20f0" opacity="0.94"/>
<ellipse cx="318.5" cy="249.8" rx="0.6" ry="0.6" transform="rotate(0 318.5 249.8)" fill="#f4f4f4" opacity="0.90"/>
<ellipse cx="357.6" cy="324.1" rx="0.6" ry="0.6" transform="rotate(0 357.6 324.1)" fill="#f4f4f4" opacity="0.90"/>
<ellipse cx="360.3" cy="275.4" rx="0.6" ry="0.6" transform="rotate(0 360.3 275.4)" fill="#f4f4f4" opacity="0.90"/>
<ellipse cx="350.8" cy="309.4" rx="0.6" ry="0.6" transform="rotate(0 350.8 309.4)" fill="#f4f4f4" opacity="0.90"/>
<ellipse cx="352.2" cy="285.1" rx="0.6" ry="0.6" transform="rotate(0 352.2 285.1)" fill="#f4f4f4" opacity="0.90"/>
<ellipse cx="358.5" cy="320.3" rx="0.6" ry="0.6" transform="rotate(0 358.5 320.3)" fill="#f4f4f4" opacity="0.90"/>
<ellipse cx="376.9" cy="312.0" rx="0.6" ry="0.6" transform="rotate(0 376.9 312.0)" fill="#f4f4f4" opacity="0.90"/>
<ellipse cx="329.4" cy="290.8" rx="0.6" ry="0.6" transform="rotate(0 329.4 290.8)" fill="#f4f4f4" opacity="0.90"/>
<ellipse cx="378.9" cy="301.2" rx="0.6" ry="0.6" transform="rotate(0 378.9 301.2)" fill="#f4f4f4" opacity="0.90"/>
<ellipse cx="390.3" cy="318.8" rx="0.6" ry="0.6" transform="rotate(0 390.3 318.8)" fill="#f4f4f4" opacity="0.90"/>
<ellipse cx="317.1" cy="282.6" rx="0.6" ry="0.6" transform="rotate(0 317.1 282.6)" fill="#f4f4f4" opacity="0.90"/>
<ellipse cx="337.6" cy="255.6" rx="0.6" ry="0.6" transform="rotate(0 337.6 255.6)" fill="#f4f4f4" opacity="0.90"/>
<ellipse cx="350.3" cy="324.8" rx="0.6" ry="0.6" transform="rotate(0 350.3 324.8)" fill="#f4f4f4" opacity="0.90"/>
<ellipse cx="374.0" cy="246.2" rx="0.6" ry="0.6" transform="rotate(0 374.0 246.2)" fill="#f4f4f4" opacity="0.90"/>
<ellipse cx="327.8" cy="270.3" rx="0.6" ry="0.6" transform="rotate(0 327.8 270.3)" fill="#f4f4f4" opacity="0.90"/>
<ellipse cx="384.4" cy="278.2" rx="0.6" ry="0.6" transform="rotate(0 384.4 278.2)" fill="#f4f4f4" opacity="0.90"/>
</g>
<rect x="305.8" y="237.4" width="88.80000000000001" height="88.9" fill="none" stroke="#8a8a8a" stroke-width="0.6"/>
<clipPath id="cp8"><rect x="397.2" y="237.4" width="89.80000000000001" height="88.9"/></clipPath><g clip-path="url(#cp8)">
<rect x="397.2" y="237.4" width="89.80000000000001" height="88.9" fill="#000"/>
<ellipse cx="461.2" cy="312.1" rx="0.8" ry="1.0" transform="rotate(35 461.2 312.1)" fill="#605a18" opacity="0.57"/>
<ellipse cx="405.4" cy="304.8" rx="0.7" ry="0.8" transform="rotate(130 405.4 304.8)" fill="#605a18" opacity="0.61"/>
<ellipse cx="436.8" cy="314.4" rx="1.5" ry="0.5" transform="rotate(93 436.8 314.4)" fill="#605a18" opacity="0.68"/>
<ellipse cx="463.6" cy="276.9" rx="0.9" ry="1.0" transform="rotate(15 463.6 276.9)" fill="#605a18" opacity="0.60"/>
<ellipse cx="472.9" cy="251.4" rx="0.9" ry="0.6" transform="rotate(98 472.9 251.4)" fill="#605a18" opacity="0.45"/>
<ellipse cx="477.5" cy="319.6" rx="0.9" ry="0.9" transform="rotate(13 477.5 319.6)" fill="#605a18" opacity="0.34"/>
<ellipse cx="456.9" cy="308.4" rx="1.3" ry="1.0" transform="rotate(155 456.9 308.4)" fill="#605a18" opacity="0.41"/>
<ellipse cx="463.9" cy="319.6" rx="0.7" ry="0.7" transform="rotate(28 463.9 319.6)" fill="#605a18" opacity="0.36"/>
<ellipse cx="440.3" cy="297.0" rx="1.5" ry="0.5" transform="rotate(91 440.3 297.0)" fill="#605a18" opacity="0.70"/>
<ellipse cx="465.9" cy="284.7" rx="0.8" ry="0.8" transform="rotate(47 465.9 284.7)" fill="#605a18" opacity="0.56"/>
<ellipse cx="455.5" cy="272.2" rx="1.3" ry="0.6" transform="rotate(84 455.5 272.2)" fill="#605a18" opacity="0.63"/>
<ellipse cx="419.7" cy="253.9" rx="1.1" ry="0.7" transform="rotate(157 419.7 253.9)" fill="#605a18" opacity="0.40"/>
<ellipse cx="430.5" cy="242.5" rx="1.0" ry="0.6" transform="rotate(81 430.5 242.5)" fill="#605a18" opacity="0.61"/>
<ellipse cx="400.6" cy="325.3" rx="1.2" ry="0.9" transform="rotate(97 400.6 325.3)" fill="#605a18" opacity="0.53"/>
<ellipse cx="434.0" cy="272.6" rx="0.8" ry="0.6" transform="rotate(53 434.0 272.6)" fill="#605a18" opacity="0.43"/>
<ellipse cx="478.7" cy="308.4" rx="1.2" ry="0.4" transform="rotate(47 478.7 308.4)" fill="#605a18" opacity="0.52"/>
<ellipse cx="434.8" cy="293.6" rx="0.8" ry="0.7" transform="rotate(48 434.8 293.6)" fill="#f8f048" opacity="0.81"/>
<ellipse cx="425.8" cy="301.5" rx="0.9" ry="0.6" transform="rotate(3 425.8 301.5)" fill="#f8f048" opacity="0.84"/>
<ellipse cx="467.7" cy="312.5" rx="0.5" ry="0.4" transform="rotate(162 467.7 312.5)" fill="#f8f048" opacity="0.76"/>
<ellipse cx="413.0" cy="241.7" rx="0.7" ry="0.6" transform="rotate(9 413.0 241.7)" fill="#f8f048" opacity="0.98"/>
<ellipse cx="460.1" cy="241.8" rx="0.8" ry="0.7" transform="rotate(143 460.1 241.8)" fill="#f8f048" opacity="0.73"/>
<ellipse cx="409.8" cy="282.2" rx="0.6" ry="0.3" transform="rotate(144 409.8 282.2)" fill="#f8f048" opacity="0.85"/>
<ellipse cx="420.1" cy="295.5" rx="0.9" ry="0.6" transform="rotate(117 420.1 295.5)" fill="#f8f048" opacity="0.82"/>
<ellipse cx="473.2" cy="311.4" rx="1.0" ry="0.6" transform="rotate(34 473.2 311.4)" fill="#f8f048" opacity="0.75"/>
<ellipse cx="484.1" cy="262.5" rx="0.6" ry="0.5" transform="rotate(42 484.1 262.5)" fill="#f8f048" opacity="0.89"/>
<ellipse cx="424.8" cy="303.9" rx="0.6" ry="0.5" transform="rotate(170 424.8 303.9)" fill="#f8f048" opacity="0.77"/>
<ellipse cx="402.8" cy="256.4" rx="0.6" ry="0.6" transform="rotate(101 402.8 256.4)" fill="#f8f048" opacity="0.84"/>
<ellipse cx="465.4" cy="298.7" rx="0.7" ry="0.4" transform="rotate(8 465.4 298.7)" fill="#f8f048" opacity="0.75"/>
<ellipse cx="463.0" cy="257.5" rx="0.9" ry="0.5" transform="rotate(55 463.0 257.5)" fill="#f8f048" opacity="0.90"/>
<ellipse cx="418.6" cy="266.6" rx="0.9" ry="0.5" transform="rotate(170 418.6 266.6)" fill="#f8f048" opacity="0.87"/>
<ellipse cx="418.9" cy="293.6" rx="1.0" ry="0.7" transform="rotate(168 418.9 293.6)" fill="#f8f048" opacity="0.81"/>
<ellipse cx="470.6" cy="322.1" rx="0.6" ry="0.4" transform="rotate(60 470.6 322.1)" fill="#f8f048" opacity="0.73"/>
<ellipse cx="480.3" cy="269.2" rx="0.7" ry="0.5" transform="rotate(102 480.3 269.2)" fill="#f8f048" opacity="0.77"/>
<ellipse cx="443.8" cy="323.4" rx="0.6" ry="0.5" transform="rotate(54 443.8 323.4)" fill="#f8f048" opacity="0.94"/>
<ellipse cx="449.6" cy="269.4" rx="0.9" ry="0.5" transform="rotate(127 449.6 269.4)" fill="#f8f048" opacity="0.91"/>
<ellipse cx="409.9" cy="247.5" rx="0.6" ry="0.5" transform="rotate(159 409.9 247.5)" fill="#f8f048" opacity="0.86"/>
<ellipse cx="460.7" cy="251.3" rx="0.8" ry="0.6" transform="rotate(81 460.7 251.3)" fill="#f8f048" opacity="0.96"/>
<ellipse cx="473.3" cy="250.0" rx="0.6" ry="0.4" transform="rotate(160 473.3 250.0)" fill="#f8f048" opacity="0.72"/>
<ellipse cx="397.6" cy="282.7" rx="0.7" ry="0.5" transform="rotate(173 397.6 282.7)" fill="#f8f048" opacity="0.85"/>
<ellipse cx="462.7" cy="312.2" rx="1.0" ry="0.6" transform="rotate(17 462.7 312.2)" fill="#f8f048" opacity="0.89"/>
</g>
<rect x="397.2" y="237.4" width="89.80000000000001" height="88.9" fill="none" stroke="#8a8a8a" stroke-width="0.8"/>
<text x="389.3" y="226.7" font-size="5.8" text-anchor="end" textLength="12.2" lengthAdjust="spacingAndGlyphs" fill="#fff">50 µm</text>
<line x1="376.8" y1="230.5" x2="388" y2="230.5" stroke="#fff" stroke-width="1.3"/>
<text x="482" y="226.7" font-size="5.8" text-anchor="end" textLength="12.7" lengthAdjust="spacingAndGlyphs" fill="#fff">50 µm</text>
<line x1="469" y1="230.5" x2="481" y2="230.5" stroke="#fff" stroke-width="1.3"/>
<text x="388.8" y="318.5" font-size="5.8" text-anchor="end" textLength="11.7" lengthAdjust="spacingAndGlyphs" fill="#fff">50 µm</text>
<line x1="376.8" y1="321.3" x2="388" y2="321.3" stroke="#fff" stroke-width="1.3"/>
<text x="482" y="318.5" font-size="5.8" text-anchor="end" textLength="12.7" lengthAdjust="spacingAndGlyphs" fill="#fff">50 µm</text>
<line x1="469" y1="321.3" x2="481" y2="321.3" stroke="#fff" stroke-width="1.3"/>
<text x="321.6" y="336" font-size="7.3" font-weight="bold" textLength="56.2" lengthAdjust="spacingAndGlyphs"><tspan fill="#8a40ff">α-SA</tspan><tspan fill="#fff">/</tspan><tspan fill="#f0e020">γH2AX</tspan><tspan fill="#fff">/</tspan><tspan fill="#2030ff">Dapi</tspan></text>
<text x="445" y="336" font-size="7.3" text-anchor="middle" font-weight="bold" textLength="22" lengthAdjust="spacingAndGlyphs" fill="#f0e020">γH2AX</text>
<text x="298.5" y="183.6" font-size="10.5" text-anchor="middle" textLength="17.2" lengthAdjust="spacingAndGlyphs" transform="rotate(-90 298.5 183.6)" fill="#000">PBS</text>
<text x="298.5" y="282.7" font-size="10.5" text-anchor="middle" textLength="33" lengthAdjust="spacingAndGlyphs" transform="rotate(-90 298.5 282.7)" fill="#000">CDC-EV</text>
<rect x="1" y="312.5" width="19" height="18.5" fill="#000"/>
<g transform="translate(10.50 324.85) scale(0.8 1)"><text x="0" y="0" font-size="8.6" text-anchor="middle" fill="#fff">C</text></g>
<rect x="43.8" y="339.7" width="58" height="97.5" fill="none" stroke="#bbb" stroke-width="0.7"/>
<line x1="43.8" y1="339.7" x2="43.8" y2="437.2" stroke="#888" stroke-width="0.8"/>
<line x1="41.8" y1="430.9" x2="43.8" y2="430.9" stroke="#888" stroke-width="0.6"/>
<text x="36.5" y="434.09999999999997" font-size="9" text-anchor="end" fill="#222">0</text>
<line x1="41.8" y1="413.62" x2="43.8" y2="413.62" stroke="#888" stroke-width="0.6"/>
<text x="36.5" y="416.82" font-size="9" text-anchor="end" fill="#222">10</text>
<line x1="41.8" y1="396.34" x2="43.8" y2="396.34" stroke="#888" stroke-width="0.6"/>
<text x="36.5" y="399.53999999999996" font-size="9" text-anchor="end" fill="#222">20</text>
<line x1="41.8" y1="379.06" x2="43.8" y2="379.06" stroke="#888" stroke-width="0.6"/>
<text x="36.5" y="382.26" font-size="9" text-anchor="end" fill="#222">30</text>
<line x1="41.8" y1="361.78" x2="43.8" y2="361.78" stroke="#888" stroke-width="0.6"/>
<text x="36.5" y="364.97999999999996" font-size="9" text-anchor="end" fill="#222">40</text>
<line x1="41.8" y1="344.5" x2="43.8" y2="344.5" stroke="#888" stroke-width="0.6"/>
<text x="36.5" y="347.7" font-size="9" text-anchor="end" fill="#222">50</text>
<line x1="60.35" y1="396.34" x2="60.35" y2="430.9" stroke="#333" stroke-width="0.7"/>
<line x1="56.35" y1="396.34" x2="64.35" y2="396.34" stroke="#333" stroke-width="0.7"/>
<line x1="56.35" y1="430.9" x2="64.35" y2="430.9" stroke="#333" stroke-width="0.7"/>
<rect x="52.5" y="411.0" width="15.700000000000003" height="10.4" fill="#ff1010" stroke="#222" stroke-width="0.4"/>
<line x1="52.5" y1="416.5576" x2="68.2" y2="416.5576" stroke="#111" stroke-width="0.8"/>
<circle cx="60.3" cy="395.5" r="1" fill="#a01010"/>
<line x1="86.3" y1="370.42" x2="86.3" y2="430.036" stroke="#333" stroke-width="0.7"/>
<line x1="82.3" y1="370.42" x2="90.3" y2="370.42" stroke="#333" stroke-width="0.7"/>
<line x1="82.3" y1="430.036" x2="90.3" y2="430.036" stroke="#333" stroke-width="0.7"/>
<rect x="78.6" y="393.7" width="15.400000000000006" height="16.1" fill="#1a3cff" stroke="#222" stroke-width="0.4"/>
<line x1="78.6" y1="404.63439999999997" x2="94" y2="404.63439999999997" stroke="#111" stroke-width="0.8"/>
<rect x="85.3" y="367.0" width="1.6" height="1.6" fill="#1a3cff"/>
<rect x="85.3" y="365.3" width="1.6" height="1.6" fill="#1a3cff"/>
<rect x="85.3" y="363.6" width="1.6" height="1.6" fill="#1a3cff"/>
<rect x="85.3" y="361.8" width="1.6" height="1.6" fill="#1a3cff"/>
<rect x="85.3" y="354.9" width="1.6" height="1.6" fill="#1a3cff"/>
<rect x="85.3" y="347.2" width="1.6" height="1.6" fill="#1a3cff"/>
<text x="53.3" y="350.2" font-size="7.3" textLength="28.4" lengthAdjust="spacingAndGlyphs" fill="#222">p&lt;0.0001</text>
<text x="59.2" y="446.5" font-size="8.8" text-anchor="middle" textLength="16" lengthAdjust="spacingAndGlyphs" fill="#222">PBS</text>
<text x="86.4" y="446.5" font-size="8.8" text-anchor="middle" textLength="27.5" lengthAdjust="spacingAndGlyphs" fill="#222">Neo-EV</text>
<text x="25.6" y="455" font-size="7.5" textLength="16.5" lengthAdjust="spacingAndGlyphs" fill="#222">Mean</text>
<text x="48.3" y="455" font-size="7.5" textLength="23" lengthAdjust="spacingAndGlyphs" fill="#222">9.0±0.2</text>
<text x="74.5" y="455" font-size="7.5" textLength="26.5" lengthAdjust="spacingAndGlyphs" fill="#222">17.5±0.4</text>
<text x="21.5" y="390" font-size="7.6" text-anchor="middle" textLength="110" lengthAdjust="spacingAndGlyphs" transform="rotate(-90 21.5 390)" fill="#222">Mean spot intensity/ nucleus (i.o.d.)</text>
<rect x="137.1" y="339.4" width="117.1" height="95" fill="none" stroke="#aaa" stroke-width="0.7"/>
<line x1="137.1" y1="386.9" x2="254.2" y2="386.9" stroke="#999" stroke-width="0.7"/>
<rect x="143.9" y="380.2" width="3.0" height="6.4" fill="#111"/>
<rect x="147.4" y="365.2" width="3.9" height="21.4" fill="#111"/>
<rect x="151.8" y="363.1" width="3.7" height="23.5" fill="#111"/>
<rect x="156" y="343.1" width="3.5" height="43.5" fill="#111"/>
<rect x="160" y="351" width="3.4" height="35.6" fill="#111"/>
<rect x="163.9" y="354.1" width="3.8" height="32.5" fill="#111"/>
<rect x="168.2" y="366.8" width="3.9" height="19.8" fill="#111"/>
<rect x="172.6" y="368.8" width="3.9" height="17.8" fill="#111"/>
<rect x="177" y="381" width="3.8" height="5.6" fill="#111"/>
<rect x="181.3" y="384.9" width="3.4" height="1.7" fill="#111"/>
<rect x="186" y="382.5" width="3.1" height="4.1" fill="#111"/>
<rect x="143.9" y="432.8" width="3.3" height="1.2" fill="#111"/>
<rect x="147.7" y="431.9" width="3.9" height="2.1" fill="#111"/>
<rect x="152.1" y="429.2" width="3.4" height="4.8" fill="#111"/>
<rect x="156" y="426.8" width="3.8" height="7.2" fill="#111"/>
<rect x="160.3" y="418.9" width="3.6" height="15.1" fill="#111"/>
<rect x="164.4" y="409.8" width="3.8" height="24.2" fill="#111"/>
<rect x="168.7" y="392.1" width="3.7" height="41.9" fill="#111"/>
<rect x="172.9" y="394.2" width="3.6" height="39.8" fill="#111"/>
<rect x="177" y="402.4" width="3.8" height="31.6" fill="#111"/>
<rect x="181.3" y="417" width="3.7" height="17.0" fill="#111"/>
<rect x="185.5" y="421" width="3.6" height="13.0" fill="#111"/>
<rect x="189.6" y="420.5" width="3.8" height="13.5" fill="#111"/>
<rect x="193.9" y="419.2" width="3.5" height="14.8" fill="#111"/>
<rect x="197.9" y="426.1" width="3.7" height="7.9" fill="#111"/>
<rect x="202.1" y="424.8" width="3.7" height="9.2" fill="#111"/>
<rect x="206.3" y="429.2" width="3.6" height="4.8" fill="#111"/>
<rect x="210.4" y="430.6" width="3.7" height="3.4" fill="#111"/>
<rect x="214.6" y="429.2" width="3.6" height="4.8" fill="#111"/>
<rect x="218.7" y="432.6" width="3.7" height="1.4" fill="#111"/>
<rect x="222.9" y="433" width="3.6" height="1.0" fill="#111"/>
<line x1="231" y1="433.5" x2="245" y2="433.5" stroke="#999" stroke-width="0.8"/>
<path d="M137.6,386.4 L138.6,386.3 L139.6,386.2 L140.6,386.0 L141.6,385.8 L142.6,385.5 L143.6,385.0 L144.6,384.5 L145.6,383.7 L146.6,382.8 L147.6,381.6 L148.6,380.1 L149.6,378.3 L150.6,376.3 L151.6,373.9 L152.6,371.3 L153.6,368.4 L154.6,365.4 L155.6,362.2 L156.6,359.1 L157.6,356.1 L158.6,353.4 L159.6,351.0 L160.6,349.1 L161.6,347.8 L162.6,347.1 L163.6,347.1 L164.6,347.8 L165.6,349.1 L166.6,351.0 L167.6,353.4 L168.6,356.1 L169.6,359.1 L170.6,362.2 L171.6,365.4 L172.6,368.4 L173.6,371.3 L174.6,373.9 L175.6,376.3 L176.6,378.3 L177.6,380.1 L178.6,381.6 L179.6,382.8 L180.6,383.7 L181.6,384.5 L182.6,385.0 L183.6,385.5 L184.6,385.8 L185.6,386.0 L186.6,386.2 L187.6,386.3 L188.6,386.4 L189.6,386.4 L190.6,386.4 L191.6,386.5 L192.6,386.5 L193.6,386.5 L194.6,386.5 L195.6,386.5 L196.6,386.5 L197.6,386.5 L198.6,386.5 L199.6,386.5 L200.6,386.5 L201.6,386.5 L202.6,386.5 L203.6,386.5 L204.6,386.5 L205.6,386.5 L206.6,386.5 L207.6,386.5 L208.6,386.5 L209.6,386.5 L210.6,386.5 L211.6,386.5 L212.6,386.5 L213.6,386.5 L214.6,386.5 L215.6,386.5 L216.6,386.5 L217.6,386.5 L218.6,386.5 L219.6,386.5 L220.6,386.5 L221.6,386.5 L222.6,386.5 L223.6,386.5 L224.6,386.5 L225.6,386.5 L226.6,386.5 L227.6,386.5 L228.6,386.5 L229.6,386.5 L230.6,386.5 L231.6,386.5 L232.6,386.5 L233.6,386.5 L234.6,386.5 L235.6,386.5 L236.6,386.5 L237.6,386.5 L238.6,386.5 L239.6,386.5 L240.6,386.5 L241.6,386.5 L242.6,386.5 L243.6,386.5 L244.6,386.5 L245.6,386.5 L246.6,386.5 L247.6,386.5 L248.6,386.5 L249.6,386.5 L250.6,386.5 L251.6,386.5 L252.6,386.5 L253.6,386.5" stroke="#ff2020" stroke-width="0.8" fill="none"/>
<path d="M137.6,433.3 L138.6,433.2 L139.6,433.1 L140.6,432.9 L141.6,432.8 L142.6,432.6 L143.6,432.4 L144.6,432.1 L145.6,431.8 L146.6,431.5 L147.6,431.2 L148.6,430.8 L149.6,430.4 L150.6,429.9 L151.6,429.4 L152.6,428.8 L153.6,428.2 L154.6,427.5 L155.6,426.8 L156.6,426.0 L157.6,425.2 L158.6,424.3 L159.6,423.4 L160.6,422.4 L161.6,421.4 L162.6,420.4 L163.6,419.3 L164.6,418.2 L165.6,417.2 L166.6,416.1 L167.6,415.0 L168.6,413.9 L169.6,412.9 L170.6,411.9 L171.6,410.9 L172.6,410.1 L173.6,409.2 L174.6,408.5 L175.6,407.8 L176.6,407.2 L177.6,406.8 L178.6,406.4 L179.6,406.2 L180.6,406.0 L181.6,406.0 L182.6,406.1 L183.6,406.3 L184.6,406.6 L185.6,407.0 L186.6,407.6 L187.6,408.2 L188.6,408.9 L189.6,409.7 L190.6,410.6 L191.6,411.5 L192.6,412.5 L193.6,413.5 L194.6,414.6 L195.6,415.6 L196.6,416.7 L197.6,417.8 L198.6,418.9 L199.6,420.0 L200.6,421.0 L201.6,422.0 L202.6,423.0 L203.6,423.9 L204.6,424.8 L205.6,425.7 L206.6,426.5 L207.6,427.2 L208.6,427.9 L209.6,428.5 L210.6,429.1 L211.6,429.7 L212.6,430.2 L213.6,430.6 L214.6,431.0 L215.6,431.4 L216.6,431.7 L217.6,432.0 L218.6,432.3 L219.6,432.5 L220.6,432.7 L221.6,432.9 L222.6,433.0 L223.6,433.1 L224.6,433.2 L225.6,433.3 L226.6,433.4 L227.6,433.5 L228.6,433.5 L229.6,433.6 L230.6,433.6 L231.6,433.7 L232.6,433.7 L233.6,433.7 L234.6,433.7 L235.6,433.7 L236.6,433.8 L237.6,433.8 L238.6,433.8 L239.6,433.8 L240.6,433.8 L241.6,433.8 L242.6,433.8 L243.6,433.8 L244.6,433.8 L245.6,433.8 L246.6,433.8 L247.6,433.8 L248.6,433.8 L249.6,433.8 L250.6,433.8 L251.6,433.8 L252.6,433.8 L253.6,433.8" stroke="#ff2020" stroke-width="0.8" fill="none"/>
<line x1="162.8" y1="339.8" x2="162.8" y2="386.5" stroke="#ff2020" stroke-width="1" stroke-dasharray="2.2,1.4"/>
<line x1="162.8" y1="387.3" x2="162.8" y2="433.8" stroke="#ff2020" stroke-width="1" stroke-dasharray="2.2,1.4"/>
<line x1="181.3" y1="339.8" x2="181.3" y2="386.5" stroke="#2020ff" stroke-width="1" stroke-dasharray="2.2,1.4"/>
<line x1="181.3" y1="387.3" x2="181.3" y2="433.8" stroke="#2020ff" stroke-width="1" stroke-dasharray="2.2,1.4"/>
<line x1="137.1" y1="386.0" x2="138.6" y2="386.0" stroke="#888" stroke-width="0.4"/>
<line x1="137.1" y1="378.85714285714283" x2="138.6" y2="378.85714285714283" stroke="#888" stroke-width="0.4"/>
<line x1="137.1" y1="371.7142857142857" x2="138.6" y2="371.7142857142857" stroke="#888" stroke-width="0.4"/>
<line x1="137.1" y1="364.57142857142856" x2="138.6" y2="364.57142857142856" stroke="#888" stroke-width="0.4"/>
<line x1="137.1" y1="357.42857142857144" x2="138.6" y2="357.42857142857144" stroke="#888" stroke-width="0.4"/>
<line x1="137.1" y1="350.2857142857143" x2="138.6" y2="350.2857142857143" stroke="#888" stroke-width="0.4"/>
<line x1="137.1" y1="343.1428571428571" x2="138.6" y2="343.1428571428571" stroke="#888" stroke-width="0.4"/>
<line x1="137.1" y1="433.5" x2="138.6" y2="433.5" stroke="#888" stroke-width="0.4"/>
<line x1="137.1" y1="426.43650793650795" x2="138.6" y2="426.43650793650795" stroke="#888" stroke-width="0.4"/>
<line x1="137.1" y1="419.3730158730159" x2="138.6" y2="419.3730158730159" stroke="#888" stroke-width="0.4"/>
<line x1="137.1" y1="412.3095238095238" x2="138.6" y2="412.3095238095238" stroke="#888" stroke-width="0.4"/>
<line x1="137.1" y1="405.24603174603175" x2="138.6" y2="405.24603174603175" stroke="#888" stroke-width="0.4"/>
<line x1="137.1" y1="398.1825396825397" x2="138.6" y2="398.1825396825397" stroke="#888" stroke-width="0.4"/>
<line x1="137.1" y1="391.1190476190476" x2="138.6" y2="391.1190476190476" stroke="#888" stroke-width="0.4"/>
<text x="228.8" y="351.2" font-size="9.8" textLength="16.8" lengthAdjust="spacingAndGlyphs" fill="#222">PBS</text>
<text x="215.6" y="398.9" font-size="9.8" textLength="35" lengthAdjust="spacingAndGlyphs" fill="#222">CDC-EV</text>
<text x="141.7" y="447" font-size="9" text-anchor="middle" fill="#222">0</text>
<text x="163.27999999999997" y="447" font-size="9" text-anchor="middle" fill="#222">10</text>
<text x="184.85999999999999" y="447" font-size="9" text-anchor="middle" fill="#222">20</text>
<text x="206.44" y="447" font-size="9" text-anchor="middle" fill="#222">30</text>
<text x="228.01999999999998" y="447" font-size="9" text-anchor="middle" fill="#222">40</text>
<text x="249.6" y="447" font-size="9" text-anchor="middle" fill="#222">50</text>
<text x="127" y="455.2" font-size="8.6" textLength="131" lengthAdjust="spacingAndGlyphs" fill="#222">Mean spot intensity per nucleus (i.o.d.</text>
<text x="116.2" y="387.4" font-size="7.4" text-anchor="middle" textLength="45.5" lengthAdjust="spacingAndGlyphs" transform="rotate(-90 116.2 387.4)" fill="#222">Heart cells (nº)</text>
<text x="128.4" y="343.3" font-size="3.2" text-anchor="middle" fill="#555">60</text>
<text x="128.4" y="350.1" font-size="3.2" text-anchor="middle" fill="#555">50</text>
<text x="128.4" y="356.90000000000003" font-size="3.2" text-anchor="middle" fill="#555">40</text>
<text x="128.4" y="364.5" font-size="3.2" text-anchor="middle" fill="#555">30</text>
<text x="128.4" y="371.8" font-size="3.2" text-anchor="middle" fill="#555">20</text>
<text x="128.4" y="379.3" font-size="3.2" text-anchor="middle" fill="#555">10</text>
<text x="128.4" y="386.6" font-size="3.2" text-anchor="middle" fill="#555">0</text>
<text x="128.4" y="397.3" font-size="3.2" text-anchor="middle" fill="#555">50</text>
<text x="128.4" y="404.90000000000003" font-size="3.2" text-anchor="middle" fill="#555">40</text>
<text x="128.4" y="412.6" font-size="3.2" text-anchor="middle" fill="#555">30</text>
<text x="128.4" y="419.90000000000003" font-size="3.2" text-anchor="middle" fill="#555">20</text>
<text x="128.4" y="427.20000000000005" font-size="3.2" text-anchor="middle" fill="#555">10</text>
<text x="128.4" y="434.5" font-size="3.2" text-anchor="middle" fill="#555">0</text>
<rect x="268.3" y="328" width="18.5" height="17.899999999999977" fill="#000"/>
<g transform="translate(277.55 340.05) scale(0.72 1)"><text x="0" y="0" font-size="8.6" text-anchor="middle" fill="#fff">E</text></g>
<text x="301.5" y="444.5" font-size="9" text-anchor="end" fill="#222">0</text>
<line x1="309.5" y1="423.5" x2="379" y2="423.5" stroke="#d8d8d8" stroke-width="0.8"/>
<text x="301.5" y="426.8" font-size="9" text-anchor="end" fill="#222">5</text>
<line x1="309.5" y1="405.8" x2="379" y2="405.8" stroke="#d8d8d8" stroke-width="0.8"/>
<text x="301.5" y="409.1" font-size="9" text-anchor="end" fill="#222">10</text>
<line x1="309.5" y1="388.09999999999997" x2="379" y2="388.09999999999997" stroke="#d8d8d8" stroke-width="0.8"/>
<text x="301.5" y="391.4" font-size="9" text-anchor="end" fill="#222">15</text>
<line x1="309.5" y1="370.4" x2="379" y2="370.4" stroke="#d8d8d8" stroke-width="0.8"/>
<text x="301.5" y="373.7" font-size="9" text-anchor="end" fill="#222">20</text>
<line x1="309.5" y1="352.7" x2="379" y2="352.7" stroke="#d8d8d8" stroke-width="0.8"/>
<text x="301.5" y="356.0" font-size="9" text-anchor="end" fill="#222">25</text>
<line x1="309.5" y1="352" x2="309.5" y2="441.2" stroke="#888" stroke-width="0.8"/>
<line x1="309.5" y1="441.2" x2="379" y2="441.2" stroke="#888" stroke-width="0.8"/>
<rect x="316.4" y="367.3" width="21.3" height="73.9" fill="#ff0000" stroke="#222" stroke-width="0.7"/>
<line x1="327" y1="367.3" x2="327" y2="364.2" stroke="#222" stroke-width="0.8"/>
<line x1="324.5" y1="364.2" x2="329.5" y2="364.2" stroke="#222" stroke-width="0.8"/>
<rect x="351" y="391.2" width="21.8" height="50.0" fill="#0000ff" stroke="#222" stroke-width="0.7"/>
<line x1="362" y1="391.2" x2="362" y2="387.6" stroke="#222" stroke-width="0.8"/>
<line x1="359.5" y1="387.6" x2="364.5" y2="387.6" stroke="#222" stroke-width="0.8"/>
<path d="M335,361.7 L335,355.3 L358,355.3 L358,361.7" stroke="#444" stroke-width="0.8" fill="none"/>
<text x="348.5" y="352.3" font-size="7.3" text-anchor="middle" textLength="28.5" lengthAdjust="spacingAndGlyphs" fill="#333">p&lt;0.0001</text>
<text x="327.2" y="455.3" font-size="7.6" text-anchor="middle" textLength="13" lengthAdjust="spacingAndGlyphs" fill="#222">PBS</text>
<text x="361.3" y="455.3" font-size="7.6" text-anchor="middle" textLength="27" lengthAdjust="spacingAndGlyphs" fill="#222">CDC-EV</text>
<text x="289" y="396" font-size="10" text-anchor="middle" textLength="98" lengthAdjust="spacingAndGlyphs" transform="rotate(-90 289 396)" fill="#222">γH2AX+  (% cells/field)</text>
<rect x="386.7" y="339.9" width="18.0" height="17.900000000000034" fill="#000"/>
<g transform="translate(395.70 351.95) scale(0.78 1)"><text x="0" y="0" font-size="8.6" text-anchor="middle" fill="#fff">F</text></g>
<text x="416.5" y="446.3" font-size="9" text-anchor="end" fill="#222">0</text>
<line x1="423.7" y1="420.875" x2="497" y2="420.875" stroke="#d8d8d8" stroke-width="0.8"/>
<text x="416.5" y="424.175" font-size="9" text-anchor="end" fill="#222">1</text>
<line x1="423.7" y1="398.75" x2="497" y2="398.75" stroke="#d8d8d8" stroke-width="0.8"/>
<text x="416.5" y="402.05" font-size="9" text-anchor="end" fill="#222">2</text>
<line x1="423.7" y1="376.625" x2="497" y2="376.625" stroke="#d8d8d8" stroke-width="0.8"/>
<text x="416.5" y="379.925" font-size="9" text-anchor="end" fill="#222">3</text>
<line x1="423.7" y1="354.5" x2="497" y2="354.5" stroke="#d8d8d8" stroke-width="0.8"/>
<text x="416.5" y="357.8" font-size="9" text-anchor="end" fill="#222">4</text>
<line x1="423.7" y1="354" x2="423.7" y2="443" stroke="#888" stroke-width="0.8"/>
<line x1="423.7" y1="443" x2="497" y2="443" stroke="#888" stroke-width="0.8"/>
<rect x="430.8" y="368.6" width="22.6" height="74.4" fill="#ff0000" stroke="#222" stroke-width="0.7"/>
<line x1="442.1" y1="368.6" x2="442.1" y2="364.2" stroke="#222" stroke-width="0.8"/>
<line x1="439.6" y1="364.2" x2="444.6" y2="364.2" stroke="#222" stroke-width="0.8"/>
<rect x="467.3" y="384.5" width="23" height="58.5" fill="#0000ff" stroke="#222" stroke-width="0.7"/>
<line x1="478.8" y1="384.5" x2="478.8" y2="380.1" stroke="#222" stroke-width="0.8"/>
<line x1="476.3" y1="380.1" x2="481.3" y2="380.1" stroke="#222" stroke-width="0.8"/>
<path d="M449.3,362.2 L449.3,355.8 L472.6,355.8 L472.6,362.2" stroke="#444" stroke-width="0.8" fill="none"/>
<text x="461" y="352.6" font-size="7.3" text-anchor="middle" textLength="22" lengthAdjust="spacingAndGlyphs" fill="#333">p=0.03</text>
<text x="442.4" y="456" font-size="7.6" text-anchor="middle" textLength="13" lengthAdjust="spacingAndGlyphs" fill="#222">PBS</text>
<text x="478.8" y="456" font-size="7.6" text-anchor="middle" textLength="27" lengthAdjust="spacingAndGlyphs" fill="#222">CDC-EV</text>
<text x="402.9" y="439.3" font-size="10.8" textLength="17" lengthAdjust="spacingAndGlyphs" transform="rotate(-90 402.9 439.3)" fill="#222">IL-6</text>
<text x="403.3" y="420.8" font-size="8.2" textLength="61.5" lengthAdjust="spacingAndGlyphs" transform="rotate(-90 403.3 420.8)" fill="#222">(pg/ug tot prot)</text>
<rect x="0" y="462.4" width="18.3" height="18.30000000000001" fill="#000"/>
<g transform="translate(9.15 474.65) scale(0.85 1)"><text x="0" y="0" font-size="8.6" text-anchor="middle" fill="#fff">G</text></g>
<defs><linearGradient id="ckey" x1="0" x2="1" y1="0" y2="0"><stop offset="0" stop-color="#00e000"/><stop offset="0.5" stop-color="#000"/><stop offset="1" stop-color="#f00000"/></linearGradient></defs>
<rect x="32.1" y="470.8" width="27.7" height="33.6" fill="url(#ckey)"/>
<text x="45.5" y="469" font-size="4.6" text-anchor="middle" font-weight="bold" fill="#222">Color Key</text>
<line x1="32.1" y1="504.4" x2="32.1" y2="506" stroke="#444" stroke-width="0.4"/>
<text x="32.1" y="512.8" font-size="3.8" text-anchor="middle" fill="#222">-2</text>
<line x1="39.025" y1="504.4" x2="39.025" y2="506" stroke="#444" stroke-width="0.4"/>
<text x="39.025" y="512.8" font-size="3.8" text-anchor="middle" fill="#222">-1</text>
<line x1="45.95" y1="504.4" x2="45.95" y2="506" stroke="#444" stroke-width="0.4"/>
<text x="45.95" y="512.8" font-size="3.8" text-anchor="middle" fill="#222">0</text>
<line x1="52.875" y1="504.4" x2="52.875" y2="506" stroke="#444" stroke-width="0.4"/>
<text x="52.875" y="512.8" font-size="3.8" text-anchor="middle" fill="#222">1</text>
<line x1="59.8" y1="504.4" x2="59.8" y2="506" stroke="#444" stroke-width="0.4"/>
<text x="59.8" y="512.8" font-size="3.8" text-anchor="middle" fill="#222">2</text>
<line x1="32.1" y1="505.5" x2="59.8" y2="505.5" stroke="#444" stroke-width="0.3"/>
<text x="45.5" y="518.4" font-size="3.8" text-anchor="middle" fill="#222">Value</text>
<path d="M71.6,523.6 L71.6,494.1 L87.3,494.1 L87.3,523.6 M79.5,494.1 L79.5,490.6 L103.2,490.6 L103.2,523.6 M91.3,490.6 L91.3,464.5 L138.1,464.5 L138.1,484.3 M126.4,484.3 L149.4,484.3 L149.4,523.6 M126.4,484.3 L126.4,488.6 M118.4,523.6 L118.4,488.6 L133.7,488.6" stroke="#8a8a8a" stroke-width="0.9" fill="none"/>
<rect x="64" y="525.7" width="46.7" height="6.9" fill="#ff0000"/>
<rect x="110.7" y="525.7" width="46.5" height="6.9" fill="#0000ff"/>
<rect x="64" y="534.00" width="15.80" height="5.71" fill="rgb(0, 150, 0)"/>
<rect x="64" y="539.41" width="15.80" height="2.77" fill="rgb(0, 90, 0)"/>
<rect x="64" y="541.88" width="15.80" height="4.74" fill="rgb(0, 120, 0)"/>
<rect x="64" y="546.31" width="15.80" height="1.78" fill="rgb(0, 70, 0)"/>
<rect x="64" y="547.79" width="15.80" height="6.22" fill="rgb(0, 140, 0)"/>
<rect x="64" y="553.71" width="15.80" height="2.77" fill="rgb(0, 200, 0)"/>
<rect x="64" y="556.18" width="15.80" height="1.78" fill="rgb(60, 0, 0)"/>
<rect x="64" y="557.65" width="15.80" height="2.77" fill="rgb(0, 30, 0)"/>
<rect x="64" y="560.12" width="15.80" height="2.77" fill="rgb(0, 100, 0)"/>
<rect x="79.5" y="534.00" width="15.80" height="5.22" fill="rgb(30, 0, 0)"/>
<rect x="79.5" y="538.92" width="15.80" height="3.26" fill="rgb(0, 60, 0)"/>
<rect x="79.5" y="541.88" width="15.80" height="3.26" fill="rgb(10, 0, 0)"/>
<rect x="79.5" y="544.83" width="15.80" height="2.77" fill="rgb(0, 50, 0)"/>
<rect x="79.5" y="547.30" width="15.80" height="4.74" fill="rgb(15, 0, 0)"/>
<rect x="79.5" y="551.74" width="15.80" height="4.74" fill="rgb(0, 50, 0)"/>
<rect x="79.5" y="556.18" width="15.80" height="3.75" fill="rgb(0, 110, 0)"/>
<rect x="79.5" y="559.63" width="15.80" height="3.26" fill="rgb(60, 0, 0)"/>
<rect x="95" y="534.00" width="16.00" height="2.75" fill="rgb(0, 50, 0)"/>
<rect x="95" y="536.45" width="16.00" height="3.75" fill="rgb(0, 30, 0)"/>
<rect x="95" y="539.90" width="16.00" height="4.24" fill="rgb(0, 190, 0)"/>
<rect x="95" y="543.85" width="16.00" height="3.26" fill="rgb(0, 120, 0)"/>
<rect x="95" y="546.81" width="16.00" height="5.72" fill="rgb(0, 210, 0)"/>
<rect x="95" y="552.23" width="16.00" height="4.24" fill="rgb(0, 70, 0)"/>
<rect x="95" y="556.18" width="16.00" height="2.77" fill="rgb(0, 100, 0)"/>
<rect x="95" y="558.64" width="16.00" height="1.78" fill="rgb(0, 30, 0)"/>
<rect x="95" y="560.12" width="16.00" height="2.77" fill="rgb(0, 80, 0)"/>
<rect x="110.7" y="534.00" width="15.80" height="6.20" fill="rgb(0, 130, 0)"/>
<rect x="110.7" y="539.90" width="15.80" height="4.24" fill="rgb(0, 15, 0)"/>
<rect x="110.7" y="543.85" width="15.80" height="3.26" fill="rgb(0, 110, 0)"/>
<rect x="110.7" y="546.81" width="15.80" height="5.23" fill="rgb(110, 0, 0)"/>
<rect x="110.7" y="551.74" width="15.80" height="4.24" fill="rgb(90, 0, 0)"/>
<rect x="110.7" y="555.68" width="15.80" height="2.27" fill="rgb(0, 60, 0)"/>
<rect x="110.7" y="557.65" width="15.80" height="2.77" fill="rgb(0, 170, 0)"/>
<rect x="110.7" y="560.12" width="15.80" height="2.77" fill="rgb(30, 0, 0)"/>
<rect x="126.2" y="534.00" width="15.70" height="3.24" fill="rgb(100, 0, 0)"/>
<rect x="126.2" y="536.94" width="15.70" height="3.26" fill="rgb(120, 0, 0)"/>
<rect x="126.2" y="539.90" width="15.70" height="4.24" fill="rgb(110, 0, 0)"/>
<rect x="126.2" y="543.85" width="15.70" height="3.26" fill="rgb(220, 0, 0)"/>
<rect x="126.2" y="546.81" width="15.70" height="4.74" fill="rgb(150, 0, 0)"/>
<rect x="126.2" y="551.24" width="15.70" height="4.74" fill="rgb(15, 10, 0)"/>
<rect x="126.2" y="555.68" width="15.70" height="1.78" fill="rgb(0, 40, 0)"/>
<rect x="126.2" y="557.16" width="15.70" height="3.26" fill="rgb(110, 0, 0)"/>
<rect x="126.2" y="560.12" width="15.70" height="2.77" fill="rgb(0, 60, 0)"/>
<rect x="141.6" y="534.00" width="15.90" height="10.15" fill="rgb(200, 0, 0)"/>
<rect x="141.6" y="543.85" width="15.90" height="4.24" fill="rgb(120, 0, 0)"/>
<rect x="141.6" y="547.79" width="15.90" height="2.27" fill="rgb(60, 0, 0)"/>
<rect x="141.6" y="549.77" width="15.90" height="6.22" fill="rgb(180, 0, 0)"/>
<rect x="141.6" y="555.68" width="15.90" height="7.20" fill="rgb(240, 0, 0)"/>
<rect x="64" y="562.60" width="15.80" height="6.58" fill="rgb(0, 60, 0)"/>
<rect x="64" y="568.88" width="15.80" height="1.78" fill="rgb(0, 10, 0)"/>
<rect x="64" y="570.36" width="15.80" height="2.77" fill="rgb(0, 70, 0)"/>
<rect x="64" y="572.82" width="15.80" height="1.29" fill="rgb(0, 40, 0)"/>
<rect x="64" y="573.81" width="15.80" height="2.77" fill="rgb(0, 20, 0)"/>
<rect x="64" y="576.27" width="15.80" height="1.78" fill="rgb(0, 90, 0)"/>
<rect x="64" y="577.75" width="15.80" height="4.74" fill="rgb(40, 0, 0)"/>
<rect x="64" y="582.19" width="15.80" height="2.77" fill="rgb(0, 30, 0)"/>
<rect x="64" y="584.65" width="15.80" height="2.77" fill="rgb(150, 0, 0)"/>
<rect x="64" y="587.12" width="15.80" height="1.29" fill="rgb(50, 0, 0)"/>
<rect x="64" y="588.11" width="15.80" height="2.17" fill="rgb(0, 200, 0)"/>
<rect x="79.5" y="562.60" width="15.80" height="2.63" fill="rgb(0, 40, 0)"/>
<rect x="79.5" y="564.93" width="15.80" height="7.20" fill="rgb(0, 80, 0)"/>
<rect x="79.5" y="571.83" width="15.80" height="1.78" fill="rgb(0, 0, 0)"/>
<rect x="79.5" y="573.31" width="15.80" height="3.26" fill="rgb(0, 200, 0)"/>
<rect x="79.5" y="576.27" width="15.80" height="3.75" fill="rgb(0, 220, 0)"/>
<rect x="79.5" y="579.72" width="15.80" height="5.23" fill="rgb(0, 120, 0)"/>
<rect x="79.5" y="584.65" width="15.80" height="5.63" fill="rgb(0, 80, 0)"/>
<rect x="95" y="562.60" width="16.00" height="3.62" fill="rgb(0, 130, 0)"/>
<rect x="95" y="565.92" width="16.00" height="3.26" fill="rgb(0, 50, 0)"/>
<rect x="95" y="568.88" width="16.00" height="4.24" fill="rgb(0, 140, 0)"/>
<rect x="95" y="572.82" width="16.00" height="5.23" fill="rgb(0, 40, 0)"/>
<rect x="95" y="577.75" width="16.00" height="10.16" fill="rgb(0, 200, 0)"/>
<rect x="95" y="587.61" width="16.00" height="2.67" fill="rgb(0, 50, 0)"/>
<rect x="110.7" y="562.60" width="15.80" height="6.58" fill="rgb(0, 40, 0)"/>
<rect x="110.7" y="568.88" width="15.80" height="4.74" fill="rgb(200, 0, 0)"/>
<rect x="110.7" y="573.31" width="15.80" height="2.77" fill="rgb(90, 0, 0)"/>
<rect x="110.7" y="575.78" width="15.80" height="7.20" fill="rgb(170, 0, 0)"/>
<rect x="110.7" y="582.68" width="15.80" height="3.26" fill="rgb(90, 0, 0)"/>
<rect x="110.7" y="585.64" width="15.80" height="2.77" fill="rgb(140, 0, 0)"/>
<rect x="110.7" y="588.11" width="15.80" height="2.17" fill="rgb(5, 0, 0)"/>
<rect x="126.2" y="562.60" width="15.70" height="2.14" fill="rgb(0, 110, 0)"/>
<rect x="126.2" y="564.44" width="15.70" height="4.74" fill="rgb(30, 0, 0)"/>
<rect x="126.2" y="568.88" width="15.70" height="4.74" fill="rgb(0, 80, 0)"/>
<rect x="126.2" y="573.31" width="15.70" height="4.24" fill="rgb(0, 20, 0)"/>
<rect x="126.2" y="577.26" width="15.70" height="5.23" fill="rgb(70, 0, 0)"/>
<rect x="126.2" y="582.19" width="15.70" height="3.75" fill="rgb(110, 0, 0)"/>
<rect x="126.2" y="585.64" width="15.70" height="2.77" fill="rgb(20, 0, 0)"/>
<rect x="126.2" y="588.11" width="15.70" height="2.17" fill="rgb(230, 0, 0)"/>
<rect x="141.6" y="562.60" width="15.90" height="6.58" fill="rgb(250, 0, 0)"/>
<rect x="141.6" y="568.88" width="15.90" height="4.24" fill="rgb(100, 0, 0)"/>
<rect x="141.6" y="572.82" width="15.90" height="3.75" fill="rgb(180, 0, 0)"/>
<rect x="141.6" y="576.27" width="15.90" height="3.75" fill="rgb(80, 0, 0)"/>
<rect x="141.6" y="579.72" width="15.90" height="4.24" fill="rgb(100, 0, 0)"/>
<rect x="141.6" y="583.67" width="15.90" height="4.24" fill="rgb(140, 0, 0)"/>
<rect x="141.6" y="587.61" width="15.90" height="2.67" fill="rgb(90, 0, 0)"/>
<rect x="64" y="590.00" width="15.80" height="4.71" fill="rgb(0, 150, 0)"/>
<rect x="64" y="594.41" width="15.80" height="2.77" fill="rgb(0, 15, 0)"/>
<rect x="64" y="596.88" width="15.80" height="4.74" fill="rgb(0, 70, 0)"/>
<rect x="64" y="601.31" width="15.80" height="3.26" fill="rgb(0, 50, 0)"/>
<rect x="64" y="604.27" width="15.80" height="1.78" fill="rgb(0, 110, 0)"/>
<rect x="64" y="605.75" width="15.80" height="1.78" fill="rgb(0, 5, 0)"/>
<rect x="64" y="607.23" width="15.80" height="6.71" fill="rgb(0, 150, 0)"/>
<rect x="64" y="613.64" width="15.80" height="4.64" fill="rgb(220, 0, 0)"/>
<rect x="79.5" y="590.00" width="15.80" height="1.26" fill="rgb(0, 50, 0)"/>
<rect x="79.5" y="590.96" width="15.80" height="3.26" fill="rgb(0, 110, 0)"/>
<rect x="79.5" y="593.92" width="15.80" height="4.24" fill="rgb(0, 220, 0)"/>
<rect x="79.5" y="597.86" width="15.80" height="4.24" fill="rgb(0, 100, 0)"/>
<rect x="79.5" y="601.81" width="15.80" height="3.26" fill="rgb(0, 110, 0)"/>
<rect x="79.5" y="604.77" width="15.80" height="4.74" fill="rgb(0, 70, 0)"/>
<rect x="79.5" y="609.20" width="15.80" height="3.26" fill="rgb(0, 10, 0)"/>
<rect x="79.5" y="612.16" width="15.80" height="2.77" fill="rgb(50, 0, 0)"/>
<rect x="79.5" y="614.63" width="15.80" height="3.65" fill="rgb(70, 0, 0)"/>
<rect x="95" y="590.00" width="16.00" height="1.26" fill="rgb(0, 50, 0)"/>
<rect x="95" y="590.96" width="16.00" height="3.26" fill="rgb(30, 0, 0)"/>
<rect x="95" y="593.92" width="16.00" height="2.27" fill="rgb(60, 0, 0)"/>
<rect x="95" y="595.89" width="16.00" height="9.18" fill="rgb(0, 60, 0)"/>
<rect x="95" y="604.77" width="16.00" height="4.24" fill="rgb(0, 80, 0)"/>
<rect x="95" y="608.71" width="16.00" height="5.23" fill="rgb(0, 130, 0)"/>
<rect x="95" y="613.64" width="16.00" height="2.77" fill="rgb(90, 0, 0)"/>
<rect x="95" y="616.11" width="16.00" height="2.17" fill="rgb(0, 40, 0)"/>
<rect x="110.7" y="590.00" width="15.80" height="1.26" fill="rgb(50, 0, 0)"/>
<rect x="110.7" y="590.96" width="15.80" height="5.23" fill="rgb(0, 25, 0)"/>
<rect x="110.7" y="595.89" width="15.80" height="5.23" fill="rgb(25, 5, 0)"/>
<rect x="110.7" y="600.82" width="15.80" height="3.75" fill="rgb(0, 40, 0)"/>
<rect x="110.7" y="604.27" width="15.80" height="4.74" fill="rgb(200, 0, 0)"/>
<rect x="110.7" y="608.71" width="15.80" height="5.23" fill="rgb(110, 0, 0)"/>
<rect x="110.7" y="613.64" width="15.80" height="4.64" fill="rgb(0, 90, 0)"/>
<rect x="126.2" y="590.00" width="15.70" height="1.26" fill="rgb(220, 0, 0)"/>
<rect x="126.2" y="590.96" width="15.70" height="2.27" fill="rgb(80, 0, 0)"/>
<rect x="126.2" y="592.93" width="15.70" height="4.24" fill="rgb(170, 0, 0)"/>
<rect x="126.2" y="596.88" width="15.70" height="7.70" fill="rgb(240, 0, 0)"/>
<rect x="126.2" y="604.27" width="15.70" height="3.75" fill="rgb(100, 0, 0)"/>
<rect x="126.2" y="607.72" width="15.70" height="5.23" fill="rgb(210, 0, 0)"/>
<rect x="126.2" y="612.65" width="15.70" height="2.27" fill="rgb(70, 0, 0)"/>
<rect x="126.2" y="614.63" width="15.70" height="3.65" fill="rgb(0, 90, 0)"/>
<rect x="141.6" y="590.00" width="15.90" height="1.26" fill="rgb(60, 0, 0)"/>
<rect x="141.6" y="590.96" width="15.90" height="3.26" fill="rgb(180, 0, 0)"/>
<rect x="141.6" y="593.92" width="15.90" height="6.22" fill="rgb(110, 0, 0)"/>
<rect x="141.6" y="599.83" width="15.90" height="5.23" fill="rgb(0, 40, 0)"/>
<rect x="141.6" y="604.77" width="15.90" height="6.22" fill="rgb(0, 100, 0)"/>
<rect x="141.6" y="610.68" width="15.90" height="3.26" fill="rgb(0, 20, 0)"/>
<rect x="141.6" y="613.64" width="15.90" height="4.64" fill="rgb(0, 210, 0)"/>
<rect x="64" y="618.00" width="15.80" height="0.77" fill="rgb(220, 0, 0)"/>
<rect x="64" y="618.47" width="15.80" height="2.77" fill="rgb(60, 0, 0)"/>
<rect x="64" y="620.93" width="15.80" height="3.26" fill="rgb(0, 20, 0)"/>
<rect x="64" y="623.89" width="15.80" height="6.22" fill="rgb(0, 45, 0)"/>
<rect x="64" y="629.81" width="15.80" height="2.77" fill="rgb(80, 0, 0)"/>
<rect x="64" y="632.27" width="15.80" height="3.75" fill="rgb(0, 40, 0)"/>
<rect x="64" y="635.72" width="15.80" height="2.77" fill="rgb(15, 0, 0)"/>
<rect x="64" y="638.19" width="15.80" height="3.26" fill="rgb(70, 0, 0)"/>
<rect x="64" y="641.15" width="15.80" height="3.75" fill="rgb(160, 0, 0)"/>
<rect x="64" y="644.60" width="15.80" height="5.72" fill="rgb(40, 0, 0)"/>
<rect x="64" y="650.02" width="15.80" height="3.75" fill="rgb(0, 120, 0)"/>
<rect x="64" y="653.48" width="15.80" height="4.74" fill="rgb(0, 25, 0)"/>
<rect x="79.5" y="618.00" width="15.80" height="1.75" fill="rgb(0, 100, 0)"/>
<rect x="79.5" y="619.45" width="15.80" height="9.67" fill="rgb(25, 0, 0)"/>
<rect x="79.5" y="628.82" width="15.80" height="5.23" fill="rgb(0, 110, 0)"/>
<rect x="79.5" y="633.75" width="15.80" height="7.20" fill="rgb(230, 0, 0)"/>
<rect x="79.5" y="640.65" width="15.80" height="4.24" fill="rgb(20, 0, 0)"/>
<rect x="79.5" y="644.60" width="15.80" height="5.72" fill="rgb(60, 0, 0)"/>
<rect x="79.5" y="650.02" width="15.80" height="3.75" fill="rgb(180, 0, 0)"/>
<rect x="79.5" y="653.48" width="15.80" height="4.74" fill="rgb(60, 0, 0)"/>
<rect x="95" y="618.00" width="16.00" height="0.77" fill="rgb(0, 60, 0)"/>
<rect x="95" y="618.47" width="16.00" height="15.59" fill="rgb(240, 0, 0)"/>
<rect x="95" y="633.75" width="16.00" height="3.26" fill="rgb(0, 70, 0)"/>
<rect x="95" y="636.71" width="16.00" height="4.24" fill="rgb(90, 0, 0)"/>
<rect x="95" y="640.65" width="16.00" height="4.24" fill="rgb(110, 0, 0)"/>
<rect x="95" y="644.60" width="16.00" height="5.72" fill="rgb(190, 0, 0)"/>
<rect x="95" y="650.02" width="16.00" height="8.19" fill="rgb(230, 0, 0)"/>
<rect x="110.7" y="618.00" width="15.80" height="0.77" fill="rgb(0, 60, 0)"/>
<rect x="110.7" y="618.47" width="15.80" height="2.77" fill="rgb(60, 0, 0)"/>
<rect x="110.7" y="620.93" width="15.80" height="3.26" fill="rgb(0, 10, 0)"/>
<rect x="110.7" y="623.89" width="15.80" height="5.23" fill="rgb(0, 50, 0)"/>
<rect x="110.7" y="628.82" width="15.80" height="2.27" fill="rgb(0, 5, 0)"/>
<rect x="110.7" y="630.79" width="15.80" height="3.26" fill="rgb(30, 0, 0)"/>
<rect x="110.7" y="633.75" width="15.80" height="3.26" fill="rgb(0, 60, 0)"/>
<rect x="110.7" y="636.71" width="15.80" height="3.26" fill="rgb(0, 50, 0)"/>
<rect x="110.7" y="639.67" width="15.80" height="2.27" fill="rgb(40, 0, 0)"/>
<rect x="110.7" y="641.64" width="15.80" height="3.26" fill="rgb(0, 150, 0)"/>
<rect x="110.7" y="644.60" width="15.80" height="5.23" fill="rgb(0, 25, 0)"/>
<rect x="110.7" y="649.53" width="15.80" height="3.26" fill="rgb(0, 70, 0)"/>
<rect x="110.7" y="652.49" width="15.80" height="5.72" fill="rgb(0, 150, 0)"/>
<rect x="126.2" y="618.00" width="15.70" height="0.77" fill="rgb(0, 80, 0)"/>
<rect x="126.2" y="618.47" width="15.70" height="2.77" fill="rgb(0, 120, 0)"/>
<rect x="126.2" y="620.93" width="15.70" height="6.22" fill="rgb(0, 50, 0)"/>
<rect x="126.2" y="626.85" width="15.70" height="2.77" fill="rgb(0, 130, 0)"/>
<rect x="126.2" y="629.31" width="15.70" height="4.74" fill="rgb(10, 0, 0)"/>
<rect x="126.2" y="633.75" width="15.70" height="2.27" fill="rgb(0, 50, 0)"/>
<rect x="126.2" y="635.72" width="15.70" height="1.78" fill="rgb(0, 120, 0)"/>
<rect x="126.2" y="637.20" width="15.70" height="2.77" fill="rgb(0, 50, 0)"/>
<rect x="126.2" y="639.67" width="15.70" height="3.26" fill="rgb(0, 130, 0)"/>
<rect x="126.2" y="642.63" width="15.70" height="7.70" fill="rgb(0, 210, 0)"/>
<rect x="126.2" y="650.02" width="15.70" height="1.78" fill="rgb(0, 5, 0)"/>
<rect x="126.2" y="651.50" width="15.70" height="6.71" fill="rgb(0, 50, 0)"/>
<rect x="141.6" y="618.00" width="15.90" height="0.77" fill="rgb(0, 60, 0)"/>
<rect x="141.6" y="618.47" width="15.90" height="3.26" fill="rgb(0, 120, 0)"/>
<rect x="141.6" y="621.42" width="15.90" height="2.77" fill="rgb(0, 170, 0)"/>
<rect x="141.6" y="623.89" width="15.90" height="4.74" fill="rgb(0, 60, 0)"/>
<rect x="141.6" y="628.33" width="15.90" height="1.78" fill="rgb(0, 30, 0)"/>
<rect x="141.6" y="629.81" width="15.90" height="4.74" fill="rgb(0, 110, 0)"/>
<rect x="141.6" y="634.24" width="15.90" height="2.77" fill="rgb(0, 10, 0)"/>
<rect x="141.6" y="636.71" width="15.90" height="3.75" fill="rgb(0, 220, 0)"/>
<rect x="141.6" y="640.16" width="15.90" height="2.77" fill="rgb(30, 0, 0)"/>
<rect x="141.6" y="642.63" width="15.90" height="5.23" fill="rgb(50, 0, 0)"/>
<rect x="141.6" y="647.56" width="15.90" height="2.77" fill="rgb(0, 40, 0)"/>
<rect x="141.6" y="650.02" width="15.90" height="2.77" fill="rgb(0, 110, 0)"/>
<rect x="141.6" y="652.49" width="15.90" height="5.72" fill="rgb(0, 50, 0)"/>
<rect x="64" y="534.0" width="15.5" height="2.5" fill="#000" opacity="0.13"/>
<rect x="64" y="541.5" width="15.5" height="1.5" fill="#000" opacity="0.09"/>
<rect x="64" y="543.0" width="15.5" height="2.5" fill="#000" opacity="0.19"/>
<rect x="64" y="548.5" width="15.5" height="3.0" fill="#000" opacity="0.17"/>
<rect x="64" y="551.5" width="15.5" height="2.5" fill="#000" opacity="0.25"/>
<rect x="64" y="557.0" width="15.5" height="2.0" fill="#000" opacity="0.29"/>
<rect x="64" y="561.0" width="15.5" height="2.0" fill="#000" opacity="0.30"/>
<rect x="64" y="565.0" width="15.5" height="3.0" fill="#000" opacity="0.24"/>
<rect x="64" y="568.0" width="15.5" height="1.5" fill="#000" opacity="0.16"/>
<rect x="64" y="575.0" width="15.5" height="2.0" fill="#000" opacity="0.13"/>
<rect x="64" y="580.0" width="15.5" height="3.0" fill="#000" opacity="0.32"/>
<rect x="64" y="583.0" width="15.5" height="3.0" fill="#000" opacity="0.16"/>
<rect x="64" y="586.0" width="15.5" height="1.5" fill="#000" opacity="0.13"/>
<rect x="64" y="587.5" width="15.5" height="2.0" fill="#000" opacity="0.33"/>
<rect x="64" y="589.5" width="15.5" height="2.0" fill="#000" opacity="0.26"/>
<rect x="64" y="591.5" width="15.5" height="2.5" fill="#000" opacity="0.21"/>
<rect x="64" y="594.0" width="15.5" height="2.0" fill="#000" opacity="0.33"/>
<rect x="64" y="602.0" width="15.5" height="2.5" fill="#000" opacity="0.22"/>
<rect x="64" y="604.5" width="15.5" height="2.0" fill="#000" opacity="0.11"/>
<rect x="64" y="606.5" width="15.5" height="1.5" fill="#000" opacity="0.13"/>
<rect x="64" y="608.0" width="15.5" height="2.0" fill="#000" opacity="0.18"/>
<rect x="64" y="610.0" width="15.5" height="2.0" fill="#000" opacity="0.31"/>
<rect x="64" y="612.0" width="15.5" height="1.5" fill="#000" opacity="0.22"/>
<rect x="64" y="613.5" width="15.5" height="2.5" fill="#000" opacity="0.09"/>
<rect x="64" y="616.0" width="15.5" height="2.5" fill="#000" opacity="0.29"/>
<rect x="64" y="618.5" width="15.5" height="2.0" fill="#000" opacity="0.12"/>
<rect x="64" y="620.5" width="15.5" height="2.5" fill="#000" opacity="0.32"/>
<rect x="64" y="623.0" width="15.5" height="2.0" fill="#000" opacity="0.26"/>
<rect x="64" y="625.0" width="15.5" height="3.0" fill="#000" opacity="0.27"/>
<rect x="64" y="628.0" width="15.5" height="2.0" fill="#000" opacity="0.21"/>
<rect x="64" y="634.0" width="15.5" height="2.0" fill="#000" opacity="0.35"/>
<rect x="64" y="638.5" width="15.5" height="2.0" fill="#000" opacity="0.31"/>
<rect x="64" y="640.5" width="15.5" height="2.0" fill="#000" opacity="0.27"/>
<rect x="64" y="642.5" width="15.5" height="2.0" fill="#000" opacity="0.30"/>
<rect x="64" y="644.5" width="15.5" height="1.5" fill="#000" opacity="0.30"/>
<rect x="64" y="648.0" width="15.5" height="1.5" fill="#000" opacity="0.18"/>
<rect x="64" y="649.5" width="15.5" height="1.5" fill="#000" opacity="0.20"/>
<rect x="64" y="651.0" width="15.5" height="1.5" fill="#000" opacity="0.12"/>
<rect x="64" y="652.5" width="15.5" height="2.5" fill="#000" opacity="0.14"/>
<rect x="64" y="655.0" width="15.5" height="2.5" fill="#000" opacity="0.14"/>
<rect x="79.5" y="534.0" width="15.5" height="2.0" fill="#000" opacity="0.19"/>
<rect x="79.5" y="536.0" width="15.5" height="2.0" fill="#000" opacity="0.31"/>
<rect x="79.5" y="538.0" width="15.5" height="2.0" fill="#000" opacity="0.25"/>
<rect x="79.5" y="540.0" width="15.5" height="2.5" fill="#000" opacity="0.27"/>
<rect x="79.5" y="542.5" width="15.5" height="2.0" fill="#000" opacity="0.11"/>
<rect x="79.5" y="544.5" width="15.5" height="2.0" fill="#000" opacity="0.23"/>
<rect x="79.5" y="550.5" width="15.5" height="2.0" fill="#000" opacity="0.13"/>
<rect x="79.5" y="552.5" width="15.5" height="2.5" fill="#000" opacity="0.26"/>
<rect x="79.5" y="555.0" width="15.5" height="1.5" fill="#000" opacity="0.31"/>
<rect x="79.5" y="556.5" width="15.5" height="2.5" fill="#000" opacity="0.34"/>
<rect x="79.5" y="561.0" width="15.5" height="2.0" fill="#000" opacity="0.32"/>
<rect x="79.5" y="563.0" width="15.5" height="2.0" fill="#000" opacity="0.28"/>
<rect x="79.5" y="568.0" width="15.5" height="2.0" fill="#000" opacity="0.15"/>
<rect x="79.5" y="570.0" width="15.5" height="2.0" fill="#000" opacity="0.14"/>
<rect x="79.5" y="575.0" width="15.5" height="2.5" fill="#000" opacity="0.24"/>
<rect x="79.5" y="577.5" width="15.5" height="3.0" fill="#000" opacity="0.30"/>
<rect x="79.5" y="580.5" width="15.5" height="3.0" fill="#000" opacity="0.23"/>
<rect x="79.5" y="586.0" width="15.5" height="2.0" fill="#000" opacity="0.31"/>
<rect x="79.5" y="590.0" width="15.5" height="2.0" fill="#000" opacity="0.24"/>
<rect x="79.5" y="592.0" width="15.5" height="2.0" fill="#000" opacity="0.31"/>
<rect x="79.5" y="594.0" width="15.5" height="2.0" fill="#000" opacity="0.28"/>
<rect x="79.5" y="596.0" width="15.5" height="2.0" fill="#000" opacity="0.23"/>
<rect x="79.5" y="598.0" width="15.5" height="2.0" fill="#000" opacity="0.14"/>
<rect x="79.5" y="600.0" width="15.5" height="2.0" fill="#000" opacity="0.23"/>
<rect x="79.5" y="606.5" width="15.5" height="3.0" fill="#000" opacity="0.11"/>
<rect x="79.5" y="609.5" width="15.5" height="2.0" fill="#000" opacity="0.18"/>
<rect x="79.5" y="611.5" width="15.5" height="2.5" fill="#000" opacity="0.33"/>
<rect x="79.5" y="614.0" width="15.5" height="2.0" fill="#000" opacity="0.26"/>
<rect x="79.5" y="616.0" width="15.5" height="2.5" fill="#000" opacity="0.16"/>
<rect x="79.5" y="618.5" width="15.5" height="3.0" fill="#000" opacity="0.22"/>
<rect x="79.5" y="621.5" width="15.5" height="3.0" fill="#000" opacity="0.27"/>
<rect x="79.5" y="624.5" width="15.5" height="2.0" fill="#000" opacity="0.26"/>
<rect x="79.5" y="626.5" width="15.5" height="1.5" fill="#000" opacity="0.28"/>
<rect x="79.5" y="628.0" width="15.5" height="1.5" fill="#000" opacity="0.20"/>
<rect x="79.5" y="629.5" width="15.5" height="1.5" fill="#000" opacity="0.15"/>
<rect x="79.5" y="631.0" width="15.5" height="2.0" fill="#000" opacity="0.34"/>
<rect x="79.5" y="633.0" width="15.5" height="3.0" fill="#000" opacity="0.20"/>
<rect x="79.5" y="636.0" width="15.5" height="2.0" fill="#000" opacity="0.26"/>
<rect x="79.5" y="638.0" width="15.5" height="2.5" fill="#000" opacity="0.14"/>
<rect x="79.5" y="640.5" width="15.5" height="2.0" fill="#000" opacity="0.09"/>
<rect x="79.5" y="644.5" width="15.5" height="2.0" fill="#000" opacity="0.32"/>
<rect x="79.5" y="646.5" width="15.5" height="2.5" fill="#000" opacity="0.15"/>
<rect x="79.5" y="649.0" width="15.5" height="2.0" fill="#000" opacity="0.13"/>
<rect x="79.5" y="651.0" width="15.5" height="2.0" fill="#000" opacity="0.10"/>
<rect x="79.5" y="653.0" width="15.5" height="3.0" fill="#000" opacity="0.30"/>
<rect x="95" y="534.0" width="15.7" height="2.5" fill="#000" opacity="0.20"/>
<rect x="95" y="536.5" width="15.7" height="2.5" fill="#000" opacity="0.23"/>
<rect x="95" y="539.0" width="15.7" height="1.5" fill="#000" opacity="0.19"/>
<rect x="95" y="540.5" width="15.7" height="2.5" fill="#000" opacity="0.18"/>
<rect x="95" y="543.0" width="15.7" height="1.5" fill="#000" opacity="0.12"/>
<rect x="95" y="547.0" width="15.7" height="1.5" fill="#000" opacity="0.20"/>
<rect x="95" y="548.5" width="15.7" height="3.0" fill="#000" opacity="0.10"/>
<rect x="95" y="551.5" width="15.7" height="1.5" fill="#000" opacity="0.20"/>
<rect x="95" y="553.0" width="15.7" height="2.5" fill="#000" opacity="0.09"/>
<rect x="95" y="555.5" width="15.7" height="2.0" fill="#000" opacity="0.21"/>
<rect x="95" y="557.5" width="15.7" height="1.5" fill="#000" opacity="0.14"/>
<rect x="95" y="559.0" width="15.7" height="1.5" fill="#000" opacity="0.12"/>
<rect x="95" y="560.5" width="15.7" height="2.0" fill="#000" opacity="0.19"/>
<rect x="95" y="567.0" width="15.7" height="2.5" fill="#000" opacity="0.08"/>
<rect x="95" y="571.5" width="15.7" height="2.0" fill="#000" opacity="0.10"/>
<rect x="95" y="575.5" width="15.7" height="2.0" fill="#000" opacity="0.27"/>
<rect x="95" y="577.5" width="15.7" height="2.0" fill="#000" opacity="0.25"/>
<rect x="95" y="582.5" width="15.7" height="1.5" fill="#000" opacity="0.25"/>
<rect x="95" y="587.5" width="15.7" height="3.0" fill="#000" opacity="0.23"/>
<rect x="95" y="590.5" width="15.7" height="2.0" fill="#000" opacity="0.12"/>
<rect x="95" y="592.5" width="15.7" height="2.0" fill="#000" opacity="0.22"/>
<rect x="95" y="597.5" width="15.7" height="1.5" fill="#000" opacity="0.31"/>
<rect x="95" y="601.5" width="15.7" height="2.0" fill="#000" opacity="0.26"/>
<rect x="95" y="603.5" width="15.7" height="2.0" fill="#000" opacity="0.17"/>
<rect x="95" y="605.5" width="15.7" height="3.0" fill="#000" opacity="0.26"/>
<rect x="95" y="608.5" width="15.7" height="1.5" fill="#000" opacity="0.08"/>
<rect x="95" y="610.0" width="15.7" height="1.5" fill="#000" opacity="0.27"/>
<rect x="95" y="611.5" width="15.7" height="2.0" fill="#000" opacity="0.20"/>
<rect x="95" y="613.5" width="15.7" height="3.0" fill="#000" opacity="0.31"/>
<rect x="95" y="616.5" width="15.7" height="1.5" fill="#000" opacity="0.31"/>
<rect x="95" y="618.0" width="15.7" height="2.0" fill="#000" opacity="0.31"/>
<rect x="95" y="620.0" width="15.7" height="2.0" fill="#000" opacity="0.27"/>
<rect x="95" y="622.0" width="15.7" height="2.0" fill="#000" opacity="0.09"/>
<rect x="95" y="631.5" width="15.7" height="1.5" fill="#000" opacity="0.31"/>
<rect x="95" y="633.0" width="15.7" height="3.0" fill="#000" opacity="0.10"/>
<rect x="95" y="636.0" width="15.7" height="1.5" fill="#000" opacity="0.17"/>
<rect x="95" y="639.0" width="15.7" height="2.0" fill="#000" opacity="0.21"/>
<rect x="95" y="641.0" width="15.7" height="2.0" fill="#000" opacity="0.30"/>
<rect x="95" y="643.0" width="15.7" height="2.0" fill="#000" opacity="0.28"/>
<rect x="95" y="645.0" width="15.7" height="1.5" fill="#000" opacity="0.13"/>
<rect x="95" y="646.5" width="15.7" height="2.0" fill="#000" opacity="0.21"/>
<rect x="95" y="651.5" width="15.7" height="1.5" fill="#000" opacity="0.27"/>
<rect x="95" y="653.0" width="15.7" height="2.0" fill="#000" opacity="0.26"/>
<rect x="95" y="655.0" width="15.7" height="2.5" fill="#000" opacity="0.18"/>
<rect x="110.7" y="536.0" width="15.5" height="2.5" fill="#000" opacity="0.35"/>
<rect x="110.7" y="538.5" width="15.5" height="2.0" fill="#000" opacity="0.08"/>
<rect x="110.7" y="545.5" width="15.5" height="1.5" fill="#000" opacity="0.20"/>
<rect x="110.7" y="547.0" width="15.5" height="1.5" fill="#000" opacity="0.29"/>
<rect x="110.7" y="548.5" width="15.5" height="2.0" fill="#000" opacity="0.32"/>
<rect x="110.7" y="550.5" width="15.5" height="2.0" fill="#000" opacity="0.22"/>
<rect x="110.7" y="552.5" width="15.5" height="1.5" fill="#000" opacity="0.35"/>
<rect x="110.7" y="558.5" width="15.5" height="1.5" fill="#000" opacity="0.18"/>
<rect x="110.7" y="562.5" width="15.5" height="3.0" fill="#000" opacity="0.08"/>
<rect x="110.7" y="574.0" width="15.5" height="3.0" fill="#000" opacity="0.17"/>
<rect x="110.7" y="577.0" width="15.5" height="1.5" fill="#000" opacity="0.15"/>
<rect x="110.7" y="578.5" width="15.5" height="2.0" fill="#000" opacity="0.32"/>
<rect x="110.7" y="586.5" width="15.5" height="3.0" fill="#000" opacity="0.24"/>
<rect x="110.7" y="589.5" width="15.5" height="3.0" fill="#000" opacity="0.32"/>
<rect x="110.7" y="595.5" width="15.5" height="2.0" fill="#000" opacity="0.18"/>
<rect x="110.7" y="597.5" width="15.5" height="2.5" fill="#000" opacity="0.14"/>
<rect x="110.7" y="603.0" width="15.5" height="2.0" fill="#000" opacity="0.11"/>
<rect x="110.7" y="605.0" width="15.5" height="3.0" fill="#000" opacity="0.12"/>
<rect x="110.7" y="610.0" width="15.5" height="1.5" fill="#000" opacity="0.33"/>
<rect x="110.7" y="614.0" width="15.5" height="2.0" fill="#000" opacity="0.32"/>
<rect x="110.7" y="620.0" width="15.5" height="3.0" fill="#000" opacity="0.10"/>
<rect x="110.7" y="625.0" width="15.5" height="2.0" fill="#000" opacity="0.14"/>
<rect x="110.7" y="627.0" width="15.5" height="2.0" fill="#000" opacity="0.19"/>
<rect x="110.7" y="629.0" width="15.5" height="2.0" fill="#000" opacity="0.16"/>
<rect x="110.7" y="631.0" width="15.5" height="1.5" fill="#000" opacity="0.12"/>
<rect x="110.7" y="632.5" width="15.5" height="2.0" fill="#000" opacity="0.21"/>
<rect x="110.7" y="637.0" width="15.5" height="2.0" fill="#000" opacity="0.31"/>
<rect x="110.7" y="639.0" width="15.5" height="2.0" fill="#000" opacity="0.19"/>
<rect x="110.7" y="644.5" width="15.5" height="2.0" fill="#000" opacity="0.22"/>
<rect x="110.7" y="646.5" width="15.5" height="1.5" fill="#000" opacity="0.23"/>
<rect x="110.7" y="653.0" width="15.5" height="2.0" fill="#000" opacity="0.17"/>
<rect x="110.7" y="655.0" width="15.5" height="3.0" fill="#000" opacity="0.31"/>
<rect x="126.2" y="534.0" width="15.4" height="3.0" fill="#000" opacity="0.32"/>
<rect x="126.2" y="537.0" width="15.4" height="2.0" fill="#000" opacity="0.11"/>
<rect x="126.2" y="539.0" width="15.4" height="2.0" fill="#000" opacity="0.28"/>
<rect x="126.2" y="541.0" width="15.4" height="2.0" fill="#000" opacity="0.19"/>
<rect x="126.2" y="543.0" width="15.4" height="1.5" fill="#000" opacity="0.33"/>
<rect x="126.2" y="544.5" width="15.4" height="2.0" fill="#000" opacity="0.09"/>
<rect x="126.2" y="549.5" width="15.4" height="2.0" fill="#000" opacity="0.22"/>
<rect x="126.2" y="553.5" width="15.4" height="2.5" fill="#000" opacity="0.18"/>
<rect x="126.2" y="556.0" width="15.4" height="3.0" fill="#000" opacity="0.26"/>
<rect x="126.2" y="559.0" width="15.4" height="1.5" fill="#000" opacity="0.27"/>
<rect x="126.2" y="560.5" width="15.4" height="1.5" fill="#000" opacity="0.26"/>
<rect x="126.2" y="562.0" width="15.4" height="2.0" fill="#000" opacity="0.17"/>
<rect x="126.2" y="564.0" width="15.4" height="2.5" fill="#000" opacity="0.15"/>
<rect x="126.2" y="566.5" width="15.4" height="2.0" fill="#000" opacity="0.18"/>
<rect x="126.2" y="568.5" width="15.4" height="2.0" fill="#000" opacity="0.21"/>
<rect x="126.2" y="570.5" width="15.4" height="3.0" fill="#000" opacity="0.32"/>
<rect x="126.2" y="573.5" width="15.4" height="1.5" fill="#000" opacity="0.32"/>
<rect x="126.2" y="575.0" width="15.4" height="2.5" fill="#000" opacity="0.27"/>
<rect x="126.2" y="577.5" width="15.4" height="1.5" fill="#000" opacity="0.21"/>
<rect x="126.2" y="579.0" width="15.4" height="2.0" fill="#000" opacity="0.16"/>
<rect x="126.2" y="581.0" width="15.4" height="2.5" fill="#000" opacity="0.12"/>
<rect x="126.2" y="588.0" width="15.4" height="1.5" fill="#000" opacity="0.22"/>
<rect x="126.2" y="592.0" width="15.4" height="3.0" fill="#000" opacity="0.20"/>
<rect x="126.2" y="600.0" width="15.4" height="2.5" fill="#000" opacity="0.29"/>
<rect x="126.2" y="604.5" width="15.4" height="2.0" fill="#000" opacity="0.29"/>
<rect x="126.2" y="606.5" width="15.4" height="2.0" fill="#000" opacity="0.35"/>
<rect x="126.2" y="611.0" width="15.4" height="2.0" fill="#000" opacity="0.26"/>
<rect x="126.2" y="613.0" width="15.4" height="2.5" fill="#000" opacity="0.22"/>
<rect x="126.2" y="615.5" width="15.4" height="1.5" fill="#000" opacity="0.09"/>
<rect x="126.2" y="617.0" width="15.4" height="3.0" fill="#000" opacity="0.11"/>
<rect x="126.2" y="620.0" width="15.4" height="2.0" fill="#000" opacity="0.26"/>
<rect x="126.2" y="623.5" width="15.4" height="3.0" fill="#000" opacity="0.29"/>
<rect x="126.2" y="626.5" width="15.4" height="2.0" fill="#000" opacity="0.17"/>
<rect x="126.2" y="628.5" width="15.4" height="2.0" fill="#000" opacity="0.31"/>
<rect x="126.2" y="630.5" width="15.4" height="3.0" fill="#000" opacity="0.17"/>
<rect x="126.2" y="633.5" width="15.4" height="3.0" fill="#000" opacity="0.11"/>
<rect x="126.2" y="636.5" width="15.4" height="2.5" fill="#000" opacity="0.09"/>
<rect x="126.2" y="639.0" width="15.4" height="2.0" fill="#000" opacity="0.22"/>
<rect x="126.2" y="641.0" width="15.4" height="2.5" fill="#000" opacity="0.10"/>
<rect x="126.2" y="643.5" width="15.4" height="2.0" fill="#000" opacity="0.12"/>
<rect x="126.2" y="645.5" width="15.4" height="2.0" fill="#000" opacity="0.28"/>
<rect x="126.2" y="647.5" width="15.4" height="2.0" fill="#000" opacity="0.21"/>
<rect x="126.2" y="649.5" width="15.4" height="3.0" fill="#000" opacity="0.18"/>
<rect x="126.2" y="652.5" width="15.4" height="2.0" fill="#000" opacity="0.19"/>
<rect x="126.2" y="654.5" width="15.4" height="2.0" fill="#000" opacity="0.20"/>
<rect x="126.2" y="656.5" width="15.4" height="1.5" fill="#000" opacity="0.25"/>
<rect x="141.6" y="534.0" width="15.6" height="2.5" fill="#000" opacity="0.20"/>
<rect x="141.6" y="538.0" width="15.6" height="1.5" fill="#000" opacity="0.15"/>
<rect x="141.6" y="541.0" width="15.6" height="2.0" fill="#000" opacity="0.30"/>
<rect x="141.6" y="543.0" width="15.6" height="1.5" fill="#000" opacity="0.27"/>
<rect x="141.6" y="546.5" width="15.6" height="2.0" fill="#000" opacity="0.26"/>
<rect x="141.6" y="550.5" width="15.6" height="3.0" fill="#000" opacity="0.24"/>
<rect x="141.6" y="555.5" width="15.6" height="1.5" fill="#000" opacity="0.11"/>
<rect x="141.6" y="557.0" width="15.6" height="2.0" fill="#000" opacity="0.10"/>
<rect x="141.6" y="559.0" width="15.6" height="2.0" fill="#000" opacity="0.18"/>
<rect x="141.6" y="561.0" width="15.6" height="2.5" fill="#000" opacity="0.23"/>
<rect x="141.6" y="563.5" width="15.6" height="2.0" fill="#000" opacity="0.17"/>
<rect x="141.6" y="565.5" width="15.6" height="3.0" fill="#000" opacity="0.12"/>
<rect x="141.6" y="570.5" width="15.6" height="2.0" fill="#000" opacity="0.24"/>
<rect x="141.6" y="572.5" width="15.6" height="3.0" fill="#000" opacity="0.33"/>
<rect x="141.6" y="575.5" width="15.6" height="2.0" fill="#000" opacity="0.30"/>
<rect x="141.6" y="577.5" width="15.6" height="3.0" fill="#000" opacity="0.21"/>
<rect x="141.6" y="580.5" width="15.6" height="2.5" fill="#000" opacity="0.34"/>
<rect x="141.6" y="583.0" width="15.6" height="3.0" fill="#000" opacity="0.12"/>
<rect x="141.6" y="586.0" width="15.6" height="2.0" fill="#000" opacity="0.25"/>
<rect x="141.6" y="588.0" width="15.6" height="3.0" fill="#000" opacity="0.11"/>
<rect x="141.6" y="591.0" width="15.6" height="1.5" fill="#000" opacity="0.21"/>
<rect x="141.6" y="597.0" width="15.6" height="3.0" fill="#000" opacity="0.11"/>
<rect x="141.6" y="600.0" width="15.6" height="3.0" fill="#000" opacity="0.10"/>
<rect x="141.6" y="605.0" width="15.6" height="2.0" fill="#000" opacity="0.24"/>
<rect x="141.6" y="607.0" width="15.6" height="1.5" fill="#000" opacity="0.25"/>
<rect x="141.6" y="610.5" width="15.6" height="2.0" fill="#000" opacity="0.15"/>
<rect x="141.6" y="614.5" width="15.6" height="1.5" fill="#000" opacity="0.17"/>
<rect x="141.6" y="616.0" width="15.6" height="2.5" fill="#000" opacity="0.30"/>
<rect x="141.6" y="618.5" width="15.6" height="3.0" fill="#000" opacity="0.13"/>
<rect x="141.6" y="621.5" width="15.6" height="3.0" fill="#000" opacity="0.22"/>
<rect x="141.6" y="624.5" width="15.6" height="2.5" fill="#000" opacity="0.09"/>
<rect x="141.6" y="627.0" width="15.6" height="2.0" fill="#000" opacity="0.34"/>
<rect x="141.6" y="631.0" width="15.6" height="2.0" fill="#000" opacity="0.24"/>
<rect x="141.6" y="633.0" width="15.6" height="1.5" fill="#000" opacity="0.13"/>
<rect x="141.6" y="634.5" width="15.6" height="2.0" fill="#000" opacity="0.21"/>
<rect x="141.6" y="639.5" width="15.6" height="2.0" fill="#000" opacity="0.35"/>
<rect x="141.6" y="641.5" width="15.6" height="2.0" fill="#000" opacity="0.14"/>
<rect x="141.6" y="645.5" width="15.6" height="2.0" fill="#000" opacity="0.10"/>
<rect x="141.6" y="647.5" width="15.6" height="1.5" fill="#000" opacity="0.19"/>
<rect x="141.6" y="649.0" width="15.6" height="3.0" fill="#000" opacity="0.09"/>
<rect x="141.6" y="652.0" width="15.6" height="2.0" fill="#000" opacity="0.14"/>
<rect x="141.6" y="657.0" width="15.6" height="1.0" fill="#000" opacity="0.15"/>
<line x1="46.3" y1="535.2" x2="62.8" y2="535.2" stroke="rgb(206,206,206)" stroke-width="0.8"/>
<line x1="51.9" y1="535.2" x2="62.8" y2="535.2" stroke="rgb(213,213,213)" stroke-width="1.1"/>
<line x1="45.9" y1="537.2" x2="62.8" y2="537.2" stroke="rgb(219,219,219)" stroke-width="0.8"/>
<line x1="49.9" y1="537.2" x2="62.8" y2="537.2" stroke="rgb(214,214,214)" stroke-width="1.1"/>
<path d="M46.3,535.2 L41.5,535.2 L41.5,537.2 L45.9,537.2" stroke="#8c8c8c" stroke-width="0.7" fill="none"/>
<line x1="40.7" y1="539.2" x2="62.8" y2="539.2" stroke="rgb(224,224,224)" stroke-width="0.8"/>
<line x1="51.0" y1="539.2" x2="62.8" y2="539.2" stroke="rgb(175,175,175)" stroke-width="1.1"/>
<path d="M41.5,536.2 L38.4,536.2 L38.4,539.2 L40.7,539.2" stroke="#8c8c8c" stroke-width="0.7" fill="none"/>
<line x1="39.6" y1="541.2" x2="62.8" y2="541.2" stroke="rgb(205,205,205)" stroke-width="0.8"/>
<line x1="48.0" y1="541.2" x2="62.8" y2="541.2" stroke="rgb(204,204,204)" stroke-width="1.1"/>
<line x1="47.3" y1="543.2" x2="62.8" y2="543.2" stroke="rgb(219,219,219)" stroke-width="0.8"/>
<line x1="48.4" y1="543.2" x2="62.8" y2="543.2" stroke="rgb(192,192,192)" stroke-width="1.1"/>
<line x1="47.9" y1="545.2" x2="62.8" y2="545.2" stroke="rgb(222,222,222)" stroke-width="0.8"/>
<line x1="50.2" y1="545.2" x2="62.8" y2="545.2" stroke="rgb(180,180,180)" stroke-width="1.1"/>
<path d="M47.3,543.2 L43.6,543.2 L43.6,545.2 L47.9,545.2" stroke="#8c8c8c" stroke-width="0.7" fill="none"/>
<line x1="47.1" y1="547.2" x2="62.8" y2="547.2" stroke="rgb(214,214,214)" stroke-width="0.8"/>
<line x1="47.1" y1="547.2" x2="62.8" y2="547.2" stroke="rgb(176,176,176)" stroke-width="1.1"/>
<line x1="46.8" y1="549.2" x2="62.8" y2="549.2" stroke="rgb(229,229,229)" stroke-width="0.8"/>
<line x1="48.4" y1="549.2" x2="62.8" y2="549.2" stroke="rgb(181,181,181)" stroke-width="1.1"/>
<path d="M47.1,547.2 L44.0,547.2 L44.0,549.2 L46.8,549.2" stroke="#8c8c8c" stroke-width="0.7" fill="none"/>
<path d="M43.6,544.2 L39.8,544.2 L39.8,548.2 L44.0,548.2" stroke="#8c8c8c" stroke-width="0.7" fill="none"/>
<path d="M39.6,541.2 L36.9,541.2 L36.9,546.2 L39.8,546.2" stroke="#8c8c8c" stroke-width="0.7" fill="none"/>
<path d="M38.4,537.7 L34.3,537.7 L34.3,543.7 L36.9,543.7" stroke="#8c8c8c" stroke-width="0.7" fill="none"/>
<line x1="37.8" y1="551.2" x2="62.8" y2="551.2" stroke="rgb(206,206,206)" stroke-width="0.8"/>
<line x1="48.3" y1="551.2" x2="62.8" y2="551.2" stroke="rgb(205,205,205)" stroke-width="1.1"/>
<line x1="44.8" y1="553.2" x2="62.8" y2="553.2" stroke="rgb(223,223,223)" stroke-width="0.8"/>
<line x1="47.2" y1="553.2" x2="62.8" y2="553.2" stroke="rgb(215,215,215)" stroke-width="1.1"/>
<line x1="43.8" y1="555.2" x2="62.8" y2="555.2" stroke="rgb(226,226,226)" stroke-width="0.8"/>
<line x1="48.0" y1="555.2" x2="62.8" y2="555.2" stroke="rgb(192,192,192)" stroke-width="1.1"/>
<path d="M44.8,553.2 L40.3,553.2 L40.3,555.2 L43.8,555.2" stroke="#8c8c8c" stroke-width="0.7" fill="none"/>
<path d="M37.8,551.2 L35.1,551.2 L35.1,554.2 L40.3,554.2" stroke="#8c8c8c" stroke-width="0.7" fill="none"/>
<line x1="42.7" y1="557.2" x2="62.8" y2="557.2" stroke="rgb(208,208,208)" stroke-width="0.8"/>
<line x1="46.4" y1="557.2" x2="62.8" y2="557.2" stroke="rgb(175,175,175)" stroke-width="1.1"/>
<line x1="43.1" y1="559.2" x2="62.8" y2="559.2" stroke="rgb(230,230,230)" stroke-width="0.8"/>
<line x1="47.1" y1="559.2" x2="62.8" y2="559.2" stroke="rgb(206,206,206)" stroke-width="1.1"/>
<path d="M42.7,557.2 L40.3,557.2 L40.3,559.2 L43.1,559.2" stroke="#8c8c8c" stroke-width="0.7" fill="none"/>
<line x1="43.1" y1="561.2" x2="62.8" y2="561.2" stroke="rgb(228,228,228)" stroke-width="0.8"/>
<line x1="48.5" y1="561.2" x2="62.8" y2="561.2" stroke="rgb(183,183,183)" stroke-width="1.1"/>
<line x1="45.6" y1="563.2" x2="62.8" y2="563.2" stroke="rgb(211,211,211)" stroke-width="0.8"/>
<line x1="47.6" y1="563.2" x2="62.8" y2="563.2" stroke="rgb(175,175,175)" stroke-width="1.1"/>
<line x1="45.6" y1="565.2" x2="62.8" y2="565.2" stroke="rgb(230,230,230)" stroke-width="0.8"/>
<line x1="47.8" y1="565.2" x2="62.8" y2="565.2" stroke="rgb(212,212,212)" stroke-width="1.1"/>
<path d="M45.6,563.2 L42.2,563.2 L42.2,565.2 L45.6,565.2" stroke="#8c8c8c" stroke-width="0.7" fill="none"/>
<path d="M43.1,561.2 L39.6,561.2 L39.6,564.2 L42.2,564.2" stroke="#8c8c8c" stroke-width="0.7" fill="none"/>
<path d="M40.3,558.2 L34.9,558.2 L34.9,562.7 L39.6,562.7" stroke="#8c8c8c" stroke-width="0.7" fill="none"/>
<path d="M35.1,552.7 L32.8,552.7 L32.8,560.5 L34.9,560.5" stroke="#8c8c8c" stroke-width="0.7" fill="none"/>
<path d="M34.3,540.7 L30.2,540.7 L30.2,556.6 L32.8,556.6" stroke="#8c8c8c" stroke-width="0.7" fill="none"/>
<line x1="35.5" y1="567.2" x2="62.8" y2="567.2" stroke="rgb(219,219,219)" stroke-width="0.8"/>
<line x1="46.1" y1="567.2" x2="62.8" y2="567.2" stroke="rgb(191,191,191)" stroke-width="1.1"/>
<line x1="40.0" y1="569.2" x2="62.8" y2="569.2" stroke="rgb(217,217,217)" stroke-width="0.8"/>
<line x1="46.4" y1="569.2" x2="62.8" y2="569.2" stroke="rgb(179,179,179)" stroke-width="1.1"/>
<line x1="40.7" y1="571.2" x2="62.8" y2="571.2" stroke="rgb(211,211,211)" stroke-width="0.8"/>
<line x1="49.8" y1="571.2" x2="62.8" y2="571.2" stroke="rgb(212,212,212)" stroke-width="1.1"/>
<path d="M40.0,569.2 L35.8,569.2 L35.8,571.2 L40.7,571.2" stroke="#8c8c8c" stroke-width="0.7" fill="none"/>
<path d="M35.5,567.2 L33.3,567.2 L33.3,570.2 L35.8,570.2" stroke="#8c8c8c" stroke-width="0.7" fill="none"/>
<line x1="46.5" y1="573.2" x2="62.8" y2="573.2" stroke="rgb(214,214,214)" stroke-width="0.8"/>
<line x1="50.9" y1="573.2" x2="62.8" y2="573.2" stroke="rgb(189,189,189)" stroke-width="1.1"/>
<line x1="47.3" y1="575.2" x2="62.8" y2="575.2" stroke="rgb(212,212,212)" stroke-width="0.8"/>
<line x1="47.3" y1="575.2" x2="62.8" y2="575.2" stroke="rgb(187,187,187)" stroke-width="1.1"/>
<path d="M46.5,573.2 L43.1,573.2 L43.1,575.2 L47.3,575.2" stroke="#8c8c8c" stroke-width="0.7" fill="none"/>
<line x1="40.7" y1="577.2" x2="62.8" y2="577.2" stroke="rgb(225,225,225)" stroke-width="0.8"/>
<line x1="47.2" y1="577.2" x2="62.8" y2="577.2" stroke="rgb(210,210,210)" stroke-width="1.1"/>
<path d="M43.1,574.2 L38.2,574.2 L38.2,577.2 L40.7,577.2" stroke="#8c8c8c" stroke-width="0.7" fill="none"/>
<line x1="45.0" y1="579.2" x2="62.8" y2="579.2" stroke="rgb(213,213,213)" stroke-width="0.8"/>
<line x1="50.4" y1="579.2" x2="62.8" y2="579.2" stroke="rgb(190,190,190)" stroke-width="1.1"/>
<line x1="44.8" y1="581.2" x2="62.8" y2="581.2" stroke="rgb(217,217,217)" stroke-width="0.8"/>
<line x1="48.5" y1="581.2" x2="62.8" y2="581.2" stroke="rgb(191,191,191)" stroke-width="1.1"/>
<path d="M45.0,579.2 L42.6,579.2 L42.6,581.2 L44.8,581.2" stroke="#8c8c8c" stroke-width="0.7" fill="none"/>
<line x1="47.2" y1="583.2" x2="62.8" y2="583.2" stroke="rgb(221,221,221)" stroke-width="0.8"/>
<line x1="51.6" y1="583.2" x2="62.8" y2="583.2" stroke="rgb(186,186,186)" stroke-width="1.1"/>
<line x1="45.7" y1="585.2" x2="62.8" y2="585.2" stroke="rgb(207,207,207)" stroke-width="0.8"/>
<line x1="47.4" y1="585.2" x2="62.8" y2="585.2" stroke="rgb(183,183,183)" stroke-width="1.1"/>
<path d="M47.2,583.2 L42.0,583.2 L42.0,585.2 L45.7,585.2" stroke="#8c8c8c" stroke-width="0.7" fill="none"/>
<path d="M42.6,580.2 L38.5,580.2 L38.5,584.2 L42.0,584.2" stroke="#8c8c8c" stroke-width="0.7" fill="none"/>
<path d="M38.2,575.7 L34.9,575.7 L34.9,582.2 L38.5,582.2" stroke="#8c8c8c" stroke-width="0.7" fill="none"/>
<path d="M33.3,568.7 L29.9,568.7 L29.9,579.0 L34.9,579.0" stroke="#8c8c8c" stroke-width="0.7" fill="none"/>
<path d="M30.2,548.6 L25.2,548.6 L25.2,573.8 L29.9,573.8" stroke="#8c8c8c" stroke-width="0.7" fill="none"/>
<line x1="37.7" y1="587.2" x2="62.8" y2="587.2" stroke="rgb(214,214,214)" stroke-width="0.8"/>
<line x1="49.2" y1="587.2" x2="62.8" y2="587.2" stroke="rgb(198,198,198)" stroke-width="1.1"/>
<line x1="39.4" y1="589.2" x2="62.8" y2="589.2" stroke="rgb(219,219,219)" stroke-width="0.8"/>
<line x1="49.9" y1="589.2" x2="62.8" y2="589.2" stroke="rgb(196,196,196)" stroke-width="1.1"/>
<line x1="43.9" y1="591.2" x2="62.8" y2="591.2" stroke="rgb(209,209,209)" stroke-width="0.8"/>
<line x1="46.2" y1="591.2" x2="62.8" y2="591.2" stroke="rgb(212,212,212)" stroke-width="1.1"/>
<line x1="43.6" y1="593.2" x2="62.8" y2="593.2" stroke="rgb(205,205,205)" stroke-width="0.8"/>
<line x1="51.5" y1="593.2" x2="62.8" y2="593.2" stroke="rgb(205,205,205)" stroke-width="1.1"/>
<path d="M43.9,591.2 L39.5,591.2 L39.5,593.2 L43.6,593.2" stroke="#8c8c8c" stroke-width="0.7" fill="none"/>
<path d="M39.4,589.2 L37.0,589.2 L37.0,592.2 L39.5,592.2" stroke="#8c8c8c" stroke-width="0.7" fill="none"/>
<path d="M37.7,587.2 L34.9,587.2 L34.9,590.7 L37.0,590.7" stroke="#8c8c8c" stroke-width="0.7" fill="none"/>
<line x1="38.7" y1="595.2" x2="62.8" y2="595.2" stroke="rgb(205,205,205)" stroke-width="0.8"/>
<line x1="49.8" y1="595.2" x2="62.8" y2="595.2" stroke="rgb(213,213,213)" stroke-width="1.1"/>
<line x1="39.6" y1="597.2" x2="62.8" y2="597.2" stroke="rgb(220,220,220)" stroke-width="0.8"/>
<line x1="50.4" y1="597.2" x2="62.8" y2="597.2" stroke="rgb(179,179,179)" stroke-width="1.1"/>
<path d="M38.7,595.2 L34.2,595.2 L34.2,597.2 L39.6,597.2" stroke="#8c8c8c" stroke-width="0.7" fill="none"/>
<path d="M34.9,589.0 L32.2,589.0 L32.2,596.2 L34.2,596.2" stroke="#8c8c8c" stroke-width="0.7" fill="none"/>
<line x1="35.8" y1="599.2" x2="62.8" y2="599.2" stroke="rgb(228,228,228)" stroke-width="0.8"/>
<line x1="50.8" y1="599.2" x2="62.8" y2="599.2" stroke="rgb(183,183,183)" stroke-width="1.1"/>
<line x1="34.7" y1="601.2" x2="62.8" y2="601.2" stroke="rgb(215,215,215)" stroke-width="0.8"/>
<line x1="46.5" y1="601.2" x2="62.8" y2="601.2" stroke="rgb(197,197,197)" stroke-width="1.1"/>
<path d="M35.8,599.2 L32.5,599.2 L32.5,601.2 L34.7,601.2" stroke="#8c8c8c" stroke-width="0.7" fill="none"/>
<line x1="43.7" y1="603.2" x2="62.8" y2="603.2" stroke="rgb(223,223,223)" stroke-width="0.8"/>
<line x1="49.7" y1="603.2" x2="62.8" y2="603.2" stroke="rgb(175,175,175)" stroke-width="1.1"/>
<line x1="43.9" y1="605.2" x2="62.8" y2="605.2" stroke="rgb(217,217,217)" stroke-width="0.8"/>
<line x1="49.5" y1="605.2" x2="62.8" y2="605.2" stroke="rgb(199,199,199)" stroke-width="1.1"/>
<path d="M43.7,603.2 L38.9,603.2 L38.9,605.2 L43.9,605.2" stroke="#8c8c8c" stroke-width="0.7" fill="none"/>
<line x1="41.4" y1="607.2" x2="62.8" y2="607.2" stroke="rgb(225,225,225)" stroke-width="0.8"/>
<line x1="52.0" y1="607.2" x2="62.8" y2="607.2" stroke="rgb(182,182,182)" stroke-width="1.1"/>
<line x1="39.6" y1="609.2" x2="62.8" y2="609.2" stroke="rgb(218,218,218)" stroke-width="0.8"/>
<line x1="48.3" y1="609.2" x2="62.8" y2="609.2" stroke="rgb(196,196,196)" stroke-width="1.1"/>
<path d="M41.4,607.2 L37.3,607.2 L37.3,609.2 L39.6,609.2" stroke="#8c8c8c" stroke-width="0.7" fill="none"/>
<path d="M38.9,604.2 L33.8,604.2 L33.8,608.2 L37.3,608.2" stroke="#8c8c8c" stroke-width="0.7" fill="none"/>
<path d="M32.5,600.2 L30.3,600.2 L30.3,606.2 L33.8,606.2" stroke="#8c8c8c" stroke-width="0.7" fill="none"/>
<path d="M32.2,592.6 L28.0,592.6 L28.0,603.2 L30.3,603.2" stroke="#8c8c8c" stroke-width="0.7" fill="none"/>
<path d="M25.2,561.2 L21.4,561.2 L21.4,597.9 L28.0,597.9" stroke="#8c8c8c" stroke-width="0.7" fill="none"/>
<line x1="37.4" y1="611.2" x2="62.8" y2="611.2" stroke="rgb(229,229,229)" stroke-width="0.8"/>
<line x1="50.0" y1="611.2" x2="62.8" y2="611.2" stroke="rgb(214,214,214)" stroke-width="1.1"/>
<line x1="34.4" y1="613.2" x2="62.8" y2="613.2" stroke="rgb(220,220,220)" stroke-width="0.8"/>
<line x1="51.4" y1="613.2" x2="62.8" y2="613.2" stroke="rgb(191,191,191)" stroke-width="1.1"/>
<path d="M37.4,611.2 L32.0,611.2 L32.0,613.2 L34.4,613.2" stroke="#8c8c8c" stroke-width="0.7" fill="none"/>
<line x1="37.6" y1="615.2" x2="62.8" y2="615.2" stroke="rgb(215,215,215)" stroke-width="0.8"/>
<line x1="49.0" y1="615.2" x2="62.8" y2="615.2" stroke="rgb(203,203,203)" stroke-width="1.1"/>
<line x1="37.4" y1="617.2" x2="62.8" y2="617.2" stroke="rgb(212,212,212)" stroke-width="0.8"/>
<line x1="48.4" y1="617.2" x2="62.8" y2="617.2" stroke="rgb(195,195,195)" stroke-width="1.1"/>
<path d="M37.6,615.2 L34.9,615.2 L34.9,617.2 L37.4,617.2" stroke="#8c8c8c" stroke-width="0.7" fill="none"/>
<line x1="36.2" y1="619.2" x2="62.8" y2="619.2" stroke="rgb(213,213,213)" stroke-width="0.8"/>
<line x1="49.8" y1="619.2" x2="62.8" y2="619.2" stroke="rgb(187,187,187)" stroke-width="1.1"/>
<path d="M34.9,616.2 L31.8,616.2 L31.8,619.2 L36.2,619.2" stroke="#8c8c8c" stroke-width="0.7" fill="none"/>
<path d="M32.0,612.2 L29.7,612.2 L29.7,617.7 L31.8,617.7" stroke="#8c8c8c" stroke-width="0.7" fill="none"/>
<line x1="35.8" y1="621.2" x2="62.8" y2="621.2" stroke="rgb(206,206,206)" stroke-width="0.8"/>
<line x1="51.7" y1="621.2" x2="62.8" y2="621.2" stroke="rgb(179,179,179)" stroke-width="1.1"/>
<line x1="45.1" y1="623.2" x2="62.8" y2="623.2" stroke="rgb(218,218,218)" stroke-width="0.8"/>
<line x1="49.8" y1="623.2" x2="62.8" y2="623.2" stroke="rgb(199,199,199)" stroke-width="1.1"/>
<line x1="46.7" y1="625.2" x2="62.8" y2="625.2" stroke="rgb(220,220,220)" stroke-width="0.8"/>
<line x1="50.3" y1="625.2" x2="62.8" y2="625.2" stroke="rgb(195,195,195)" stroke-width="1.1"/>
<path d="M45.1,623.2 L41.4,623.2 L41.4,625.2 L46.7,625.2" stroke="#8c8c8c" stroke-width="0.7" fill="none"/>
<line x1="39.0" y1="627.2" x2="62.8" y2="627.2" stroke="rgb(224,224,224)" stroke-width="0.8"/>
<line x1="47.9" y1="627.2" x2="62.8" y2="627.2" stroke="rgb(203,203,203)" stroke-width="1.1"/>
<path d="M41.4,624.2 L36.6,624.2 L36.6,627.2 L39.0,627.2" stroke="#8c8c8c" stroke-width="0.7" fill="none"/>
<path d="M35.8,621.2 L33.3,621.2 L33.3,625.7 L36.6,625.7" stroke="#8c8c8c" stroke-width="0.7" fill="none"/>
<line x1="37.0" y1="629.2" x2="62.8" y2="629.2" stroke="rgb(226,226,226)" stroke-width="0.8"/>
<line x1="49.4" y1="629.2" x2="62.8" y2="629.2" stroke="rgb(192,192,192)" stroke-width="1.1"/>
<line x1="41.2" y1="631.2" x2="62.8" y2="631.2" stroke="rgb(205,205,205)" stroke-width="0.8"/>
<line x1="48.4" y1="631.2" x2="62.8" y2="631.2" stroke="rgb(183,183,183)" stroke-width="1.1"/>
<line x1="42.9" y1="633.2" x2="62.8" y2="633.2" stroke="rgb(211,211,211)" stroke-width="0.8"/>
<line x1="50.6" y1="633.2" x2="62.8" y2="633.2" stroke="rgb(176,176,176)" stroke-width="1.1"/>
<path d="M41.2,631.2 L38.2,631.2 L38.2,633.2 L42.9,633.2" stroke="#8c8c8c" stroke-width="0.7" fill="none"/>
<path d="M37.0,629.2 L34.0,629.2 L34.0,632.2 L38.2,632.2" stroke="#8c8c8c" stroke-width="0.7" fill="none"/>
<path d="M33.3,623.5 L30.0,623.5 L30.0,630.7 L34.0,630.7" stroke="#8c8c8c" stroke-width="0.7" fill="none"/>
<path d="M29.7,615.0 L26.1,615.0 L26.1,627.1 L30.0,627.1" stroke="#8c8c8c" stroke-width="0.7" fill="none"/>
<line x1="34.9" y1="635.2" x2="62.8" y2="635.2" stroke="rgb(225,225,225)" stroke-width="0.8"/>
<line x1="51.8" y1="635.2" x2="62.8" y2="635.2" stroke="rgb(198,198,198)" stroke-width="1.1"/>
<line x1="39.1" y1="637.2" x2="62.8" y2="637.2" stroke="rgb(210,210,210)" stroke-width="0.8"/>
<line x1="50.5" y1="637.2" x2="62.8" y2="637.2" stroke="rgb(175,175,175)" stroke-width="1.1"/>
<line x1="43.9" y1="639.2" x2="62.8" y2="639.2" stroke="rgb(212,212,212)" stroke-width="0.8"/>
<line x1="50.7" y1="639.2" x2="62.8" y2="639.2" stroke="rgb(192,192,192)" stroke-width="1.1"/>
<line x1="42.2" y1="641.2" x2="62.8" y2="641.2" stroke="rgb(222,222,222)" stroke-width="0.8"/>
<line x1="49.0" y1="641.2" x2="62.8" y2="641.2" stroke="rgb(208,208,208)" stroke-width="1.1"/>
<path d="M43.9,639.2 L40.0,639.2 L40.0,641.2 L42.2,641.2" stroke="#8c8c8c" stroke-width="0.7" fill="none"/>
<path d="M39.1,637.2 L36.4,637.2 L36.4,640.2 L40.0,640.2" stroke="#8c8c8c" stroke-width="0.7" fill="none"/>
<path d="M34.9,635.2 L32.5,635.2 L32.5,638.7 L36.4,638.7" stroke="#8c8c8c" stroke-width="0.7" fill="none"/>
<line x1="39.9" y1="643.2" x2="62.8" y2="643.2" stroke="rgb(228,228,228)" stroke-width="0.8"/>
<line x1="46.8" y1="643.2" x2="62.8" y2="643.2" stroke="rgb(199,199,199)" stroke-width="1.1"/>
<line x1="40.6" y1="645.2" x2="62.8" y2="645.2" stroke="rgb(219,219,219)" stroke-width="0.8"/>
<line x1="49.8" y1="645.2" x2="62.8" y2="645.2" stroke="rgb(187,187,187)" stroke-width="1.1"/>
<path d="M39.9,643.2 L37.1,643.2 L37.1,645.2 L40.6,645.2" stroke="#8c8c8c" stroke-width="0.7" fill="none"/>
<line x1="45.4" y1="647.2" x2="62.8" y2="647.2" stroke="rgb(219,219,219)" stroke-width="0.8"/>
<line x1="49.9" y1="647.2" x2="62.8" y2="647.2" stroke="rgb(195,195,195)" stroke-width="1.1"/>
<line x1="45.9" y1="649.2" x2="62.8" y2="649.2" stroke="rgb(211,211,211)" stroke-width="0.8"/>
<line x1="50.3" y1="649.2" x2="62.8" y2="649.2" stroke="rgb(181,181,181)" stroke-width="1.1"/>
<path d="M45.4,647.2 L40.6,647.2 L40.6,649.2 L45.9,649.2" stroke="#8c8c8c" stroke-width="0.7" fill="none"/>
<line x1="47.5" y1="651.2" x2="62.8" y2="651.2" stroke="rgb(214,214,214)" stroke-width="0.8"/>
<line x1="51.9" y1="651.2" x2="62.8" y2="651.2" stroke="rgb(209,209,209)" stroke-width="1.1"/>
<line x1="46.4" y1="653.2" x2="62.8" y2="653.2" stroke="rgb(215,215,215)" stroke-width="0.8"/>
<line x1="51.5" y1="653.2" x2="62.8" y2="653.2" stroke="rgb(191,191,191)" stroke-width="1.1"/>
<path d="M47.5,651.2 L44.1,651.2 L44.1,653.2 L46.4,653.2" stroke="#8c8c8c" stroke-width="0.7" fill="none"/>
<line x1="48.0" y1="655.2" x2="62.8" y2="655.2" stroke="rgb(207,207,207)" stroke-width="0.8"/>
<line x1="48.6" y1="655.2" x2="62.8" y2="655.2" stroke="rgb(177,177,177)" stroke-width="1.1"/>
<line x1="47.8" y1="657.2" x2="62.8" y2="657.2" stroke="rgb(222,222,222)" stroke-width="0.8"/>
<line x1="50.6" y1="657.2" x2="62.8" y2="657.2" stroke="rgb(201,201,201)" stroke-width="1.1"/>
<path d="M48.0,655.2 L44.5,655.2 L44.5,657.2 L47.8,657.2" stroke="#8c8c8c" stroke-width="0.7" fill="none"/>
<path d="M44.1,652.2 L41.7,652.2 L41.7,656.2 L44.5,656.2" stroke="#8c8c8c" stroke-width="0.7" fill="none"/>
<path d="M40.6,648.2 L36.6,648.2 L36.6,654.2 L41.7,654.2" stroke="#8c8c8c" stroke-width="0.7" fill="none"/>
<path d="M37.1,644.2 L32.2,644.2 L32.2,651.2 L36.6,651.2" stroke="#8c8c8c" stroke-width="0.7" fill="none"/>
<path d="M32.5,637.0 L30.0,637.0 L30.0,647.7 L32.2,647.7" stroke="#8c8c8c" stroke-width="0.7" fill="none"/>
<path d="M26.1,621.0 L21.4,621.0 L21.4,642.3 L30.0,642.3" stroke="#8c8c8c" stroke-width="0.7" fill="none"/>
<path d="M21.4,579.6 L15.7,579.6 L15.7,631.7 L21.4,631.7" stroke="#8c8c8c" stroke-width="0.7" fill="none"/>
<text x="64.5" y="671.5" font-size="10.5" text-anchor="middle" fill="#222">1</text>
<text x="82.7" y="671.5" font-size="10.5" text-anchor="middle" fill="#222">2</text>
<text x="101.4" y="671.5" font-size="10.5" text-anchor="middle" fill="#222">3</text>
<text x="117.2" y="671.5" font-size="10.5" text-anchor="middle" fill="#222">1</text>
<text x="136.3" y="671.5" font-size="10.5" text-anchor="middle" fill="#222">2</text>
<text x="155.3" y="671.5" font-size="10.5" text-anchor="middle" fill="#222">3</text>
<line x1="61" y1="673" x2="104.4" y2="673" stroke="#555" stroke-width="0.8"/>
<line x1="113.6" y1="673" x2="158" y2="673" stroke="#555" stroke-width="0.8"/>
<text x="82.7" y="684" font-size="10.8" text-anchor="middle" textLength="36" lengthAdjust="spacingAndGlyphs" fill="#222">CDC-EV</text>
<text x="134.6" y="684" font-size="10.8" text-anchor="middle" textLength="16.5" lengthAdjust="spacingAndGlyphs" fill="#222">PBS</text>
<rect x="165" y="463.6" width="20.099999999999994" height="16.5" fill="#000"/>
<g transform="translate(175.05 474.95) scale(0.85 1)"><text x="0" y="0" font-size="8.6" text-anchor="middle" fill="#fff">H</text></g>
<text x="192" y="475" font-size="4.2" textLength="15" lengthAdjust="spacingAndGlyphs" fill="#3030b0">NANOG 2</text>
<defs><marker id="ah" viewBox="0 0 10 10" refX="9" refY="5" markerWidth="4" markerHeight="4" orient="auto-start-reverse"><path d="M0,1 L10,5 L0,9 Z" fill="#e07b22"/></marker><marker id="ahb" viewBox="0 0 10 10" refX="9" refY="5" markerWidth="4" markerHeight="4" orient="auto"><path d="M0,1 L10,5 L0,9 Z" fill="#3a7fd0"/></marker></defs>
<line x1="263.6" y1="526.6" x2="242.5" y2="491.2" stroke="#e07b22" stroke-width="1.15" marker-end="url(#ah)" marker-start="url(#ah)"/>
<line x1="263.6" y1="526.6" x2="296" y2="507.5" stroke="#e07b22" stroke-width="1.15" marker-end="url(#ah)"/>
<line x1="263.6" y1="526.6" x2="229" y2="545.5" stroke="#e07b22" stroke-width="1.15" marker-end="url(#ah)"/>
<line x1="263.6" y1="526.6" x2="279.5" y2="561.7" stroke="#e07b22" stroke-width="1.15" marker-end="url(#ah)"/>
<path d="M259,523.5 C255,516 260,512 264.5,513 C269,514 270,519 267.5,523" stroke="#e07b22" stroke-width="0.9" fill="none" marker-end="url(#ah)"/>
<ellipse cx="240.8" cy="486.6" rx="9.5" ry="4.2" fill="#f8dede" stroke="#d09a9a" stroke-width="0.5"/>
<text x="240.8" y="488.1" font-size="4.2" text-anchor="middle" fill="#222">EGR1</text>
<ellipse cx="303.5" cy="503.8" rx="8" ry="4.2" fill="#f8dede" stroke="#d09a9a" stroke-width="0.5"/>
<text x="303.5" y="505.3" font-size="4.2" text-anchor="middle" fill="#222">FOS</text>
<ellipse cx="282.8" cy="566.5" rx="8.5" ry="4.2" fill="#f8dede" stroke="#d09a9a" stroke-width="0.5"/>
<text x="282.8" y="568.0" font-size="4.2" text-anchor="middle" fill="#222">FOSB</text>
<path d="M223.6,539 L228.3,548.8 L223.6,558.6 L218.9,548.8 Z" fill="#f8dede" stroke="#d09a9a" stroke-width="0.5"/>
<text x="223.6" y="550.2" font-size="4" text-anchor="middle" textLength="39" lengthAdjust="spacingAndGlyphs" fill="#222">HSPA1A/HSPA1B</text>
<ellipse cx="263.6" cy="526.6" rx="10" ry="4.6" fill="#c87030" stroke="#9a5020" stroke-width="0.5"/>
<text x="263.6" y="528.1" font-size="4" text-anchor="middle" fill="#3a2010">NANOG</text>
<text x="197.9" y="583.2" font-size="4.2" textLength="31" lengthAdjust="spacingAndGlyphs" fill="#3030b0">BCR (complex) 3</text>
<line x1="258.2" y1="633.6" x2="238" y2="598.3" stroke="#e07b22" stroke-width="1.15" stroke-dasharray="2.5,1.5" marker-end="url(#ah)"/>
<line x1="258.2" y1="633.6" x2="289.5" y2="613.5" stroke="#e07b22" stroke-width="1.15" stroke-dasharray="2.5,1.5" marker-end="url(#ah)"/>
<line x1="258.2" y1="633.6" x2="277" y2="668.6" stroke="#e07b22" stroke-width="1.15" stroke-dasharray="2.5,1.5" marker-end="url(#ah)"/>
<line x1="258.2" y1="633.6" x2="226.5" y2="652.8" stroke="#3a7fd0" stroke-width="1.15" stroke-dasharray="2.5,1.5"/>
<line x1="225.2" y1="650.6" x2="227.8" y2="655" stroke="#3a7fd0" stroke-width="1"/>
<ellipse cx="235.4" cy="593.7" rx="8.5" ry="4.2" fill="#f8dede" stroke="#d09a9a" stroke-width="0.5"/>
<text x="235.4" y="595.2" font-size="4.2" text-anchor="middle" fill="#222">FOS</text>
<ellipse cx="298.2" cy="610.8" rx="8.5" ry="4.2" fill="#f8dede" stroke="#d09a9a" stroke-width="0.5"/>
<text x="298.2" y="612.3" font-size="4.2" text-anchor="middle" fill="#222">FOSB</text>
<ellipse cx="281.3" cy="674.1" rx="8.5" ry="4.2" fill="#f8dede" stroke="#d09a9a" stroke-width="0.5"/>
<text x="281.3" y="675.6" font-size="4.2" text-anchor="middle" fill="#222">JUNB</text>
<ellipse cx="218.3" cy="656.7" rx="9.5" ry="4.2" fill="#e4f4dc" stroke="#9ac090" stroke-width="0.5"/>
<text x="218.3" y="658.2" font-size="4.2" text-anchor="middle" fill="#222">POU2F2</text>
<circle cx="258.2" cy="633.6" r="4" fill="#c87030"/>
<text x="258.2" y="635.1" font-size="4.2" text-anchor="middle" textLength="31" lengthAdjust="spacingAndGlyphs" fill="#222">BCR (complex)</text>
<rect x="335.6" y="462.6" width="17.399999999999977" height="17.899999999999977" fill="#000"/>
<g transform="translate(344.30 474.65) scale(0.9 1)"><text x="0" y="0" font-size="8.6" text-anchor="middle" fill="#fff">J</text></g>
<text x="383.5" y="567.0999999999999" font-size="9" text-anchor="end" fill="#222">0</text>
<line x1="390.8" y1="547.5" x2="458" y2="547.5" stroke="#d8d8d8" stroke-width="0.8"/>
<text x="383.5" y="550.8" font-size="9" text-anchor="end" fill="#222">9</text>
<line x1="390.8" y1="531.1999999999999" x2="458" y2="531.1999999999999" stroke="#d8d8d8" stroke-width="0.8"/>
<text x="383.5" y="534.4999999999999" font-size="9" text-anchor="end" fill="#222">18</text>
<line x1="390.8" y1="514.9" x2="458" y2="514.9" stroke="#d8d8d8" stroke-width="0.8"/>
<text x="383.5" y="518.1999999999999" font-size="9" text-anchor="end" fill="#222">27</text>
<line x1="390.8" y1="498.6" x2="458" y2="498.6" stroke="#d8d8d8" stroke-width="0.8"/>
<text x="383.5" y="501.90000000000003" font-size="9" text-anchor="end" fill="#222">36</text>
<line x1="390.8" y1="482.3" x2="458" y2="482.3" stroke="#d8d8d8" stroke-width="0.8"/>
<text x="383.5" y="485.6" font-size="9" text-anchor="end" fill="#222">45</text>
<line x1="390.8" y1="482" x2="390.8" y2="563.8" stroke="#888" stroke-width="0.8"/>
<line x1="390.8" y1="563.8" x2="458" y2="563.8" stroke="#888" stroke-width="0.8"/>
<rect x="397.2" y="542.8" width="21.3" height="21.0" fill="#ff0000" stroke="#222" stroke-width="0.7"/>
<line x1="407.8" y1="542.8" x2="407.8" y2="533.6" stroke="#222" stroke-width="0.8"/>
<line x1="405.3" y1="533.6" x2="410.3" y2="533.6" stroke="#222" stroke-width="0.8"/>
<rect x="430.8" y="502.3" width="21.5" height="61.5" fill="#0000ff" stroke="#222" stroke-width="0.7"/>
<line x1="441.5" y1="502.3" x2="441.5" y2="490.3" stroke="#222" stroke-width="0.8"/>
<line x1="439.0" y1="490.3" x2="444.0" y2="490.3" stroke="#222" stroke-width="0.8"/>
<path d="M413.3,490.8 L413.3,484.4 L436.4,484.4 L436.4,490.8" stroke="#444" stroke-width="0.8" fill="none"/>
<text x="425.4" y="481.3" font-size="7.3" text-anchor="middle" textLength="22" lengthAdjust="spacingAndGlyphs" fill="#333">p=0.03</text>
<text x="447.4" y="496.6" font-size="7.3" textLength="22" lengthAdjust="spacingAndGlyphs" fill="#2020e0">p=0.01</text>
<text x="366.6" y="577" font-size="11" textLength="84" lengthAdjust="spacingAndGlyphs" transform="rotate(-90 366.6 577)" fill="#222">Δ AlKaline Phosph</text>
<text x="366.3" y="490.6" font-size="7.3" textLength="15.8" lengthAdjust="spacingAndGlyphs" transform="rotate(-90 366.3 490.6)" fill="#222">(IU/L)</text>
<text x="466.8" y="570.3" font-size="11.5" textLength="20.4" lengthAdjust="spacingAndGlyphs" fill="#ff1010">PBS</text>
<text x="466.8" y="586.8" font-size="11.5" textLength="40" lengthAdjust="spacingAndGlyphs" fill="#1010ff">CDC-EV</text>
<text x="376.2" y="667.6" font-size="8" text-anchor="middle" fill="#222">3</text>
<line x1="390" y1="638.4666666666667" x2="457" y2="638.4666666666667" stroke="#d8d8d8" stroke-width="0.8"/>
<text x="376.2" y="641.4666666666667" font-size="8" text-anchor="middle" fill="#222">3.4</text>
<line x1="390" y1="612.3333333333334" x2="457" y2="612.3333333333334" stroke="#d8d8d8" stroke-width="0.8"/>
<text x="376.2" y="615.3333333333334" font-size="8" text-anchor="middle" fill="#222">3.8</text>
<line x1="390" y1="586.2" x2="457" y2="586.2" stroke="#d8d8d8" stroke-width="0.8"/>
<text x="376.2" y="589.2" font-size="8" text-anchor="middle" fill="#222">4.2</text>
<line x1="390" y1="586" x2="390" y2="664.6" stroke="#888" stroke-width="0.8"/>
<line x1="390" y1="664.6" x2="457" y2="664.6" stroke="#888" stroke-width="0.8"/>
<line x1="406.5" y1="599.4" x2="406.5" y2="614.2" stroke="#444" stroke-width="0.7"/>
<line x1="404.7" y1="599.4" x2="408.3" y2="599.4" stroke="#444" stroke-width="0.7"/>
<line x1="404.7" y1="614.2" x2="408.3" y2="614.2" stroke="#444" stroke-width="0.7"/>
<line x1="440.5" y1="599.4" x2="440.5" y2="614.2" stroke="#444" stroke-width="0.7"/>
<line x1="438.7" y1="599.4" x2="442.3" y2="599.4" stroke="#444" stroke-width="0.7"/>
<line x1="438.7" y1="614.2" x2="442.3" y2="614.2" stroke="#444" stroke-width="0.7"/>
<line x1="406.5" y1="604" x2="406.5" y2="616" stroke="#444" stroke-width="0.7"/>
<line x1="404.7" y1="604" x2="408.3" y2="604" stroke="#444" stroke-width="0.7"/>
<line x1="404.7" y1="616" x2="408.3" y2="616" stroke="#444" stroke-width="0.7"/>
<line x1="440.5" y1="632.5" x2="440.5" y2="645" stroke="#444" stroke-width="0.7"/>
<line x1="438.7" y1="632.5" x2="442.3" y2="632.5" stroke="#444" stroke-width="0.7"/>
<line x1="438.7" y1="645" x2="442.3" y2="645" stroke="#444" stroke-width="0.7"/>
<line x1="406.5" y1="606" x2="440.5" y2="606" stroke="#1a1aff" stroke-width="1.6"/>
<line x1="406.5" y1="609.3" x2="440.5" y2="638.9" stroke="#ff1a1a" stroke-width="1.6"/>
<circle cx="406.5" cy="606" r="2.2" fill="#2020ff" stroke="#222" stroke-width="0.4"/>
<circle cx="440.5" cy="606" r="2.2" fill="#2020ff" stroke="#222" stroke-width="0.4"/>
<circle cx="406.5" cy="609.3" r="2.2" fill="#ff2020" stroke="#222" stroke-width="0.4"/>
<circle cx="440.5" cy="638.9" r="2.2" fill="#ff2020" stroke="#222" stroke-width="0.4"/>
<path d="M458.6,609.3 L464.5,609.3 L464.5,631.7 L458.6,631.7" stroke="#555" stroke-width="0.7" fill="none"/>
<text x="470" y="622.5" font-size="6.5" textLength="21.5" lengthAdjust="spacingAndGlyphs" fill="#222">p=0.03</text>
<text x="392.7" y="679" font-size="6.8" textLength="27.5" lengthAdjust="spacingAndGlyphs" fill="#222">Baseline</text>
<text x="423" y="679" font-size="6.8" textLength="33" lengthAdjust="spacingAndGlyphs" fill="#222">16 weeks</text>
<text x="365.5" y="629.5" font-size="9" text-anchor="middle" textLength="61" lengthAdjust="spacingAndGlyphs" transform="rotate(-90 365.5 629.5)" fill="#222">Globulin (g/dL)</text>
</svg>
</body></html>
